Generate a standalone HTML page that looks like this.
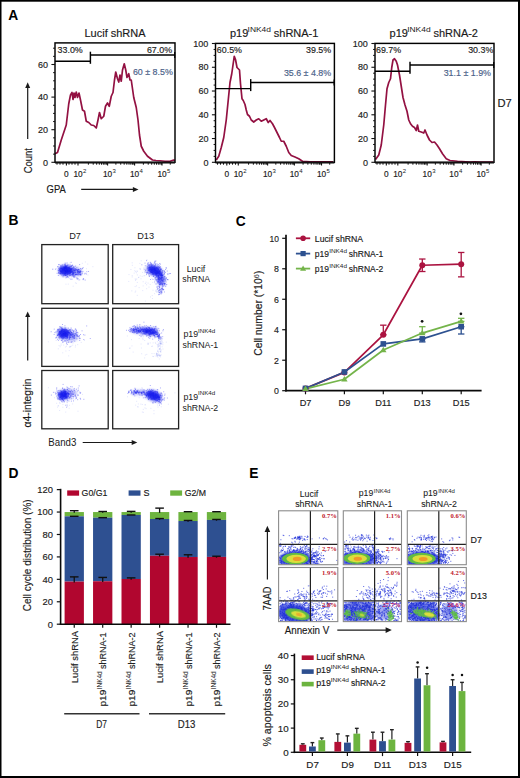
<!DOCTYPE html><html><head><meta charset="utf-8"><style>html,body{margin:0;padding:0;background:#fff}svg{display:block}</style></head><body>
<svg width="520" height="778" viewBox="0 0 520 778" font-family='"Liberation Sans", sans-serif' fill="#1a1a1a">
<rect width="520" height="778" fill="#fff"/>
<rect x="0" y="0" width="1.5" height="778" fill="#000"/>
<rect x="0" y="0" width="520" height="1.7" fill="#000"/>
<rect x="518" y="0" width="2" height="778" fill="#000"/>
<rect x="0" y="776" width="520" height="2" fill="#000"/>
<text x="8.3" y="19.6" font-size="13.8" font-weight="bold" fill="#000">A</text>
<text x="8.5" y="224.8" font-size="13.8" font-weight="bold" fill="#000">B</text>
<text x="235.8" y="225.6" font-size="13.8" font-weight="bold" fill="#000">C</text>
<text x="8.6" y="478.3" font-size="13.8" font-weight="bold" fill="#000">D</text>
<text x="249.3" y="478" font-size="13.8" font-weight="bold" fill="#000">E</text>
<path d="M55 153.75 L57.5 152.5 L61.25 140 L63.75 132.5 L66.25 125 L68.75 103.75 L70.5 95 L72 92.5 L73 99.5 L74 93 L75 97.5 L76.25 92 L77.5 97.5 L79 93 L80.5 100 L82.5 110 L84.5 111.25 L86.25 121.25 L88.75 122.5 L91.25 125 L93.75 125.5 L96.25 128 L98 120 L99.5 112.5 L101.25 118.75 L103.75 116.25 L105.5 106.25 L107.5 103 L109.25 106.25 L111.25 96.25 L113 92.5 L114.5 80 L115.75 72 L117.5 78.75 L118.75 82 L120 75 L121.25 81.25 L122.5 70 L124.25 63.75 L125.75 70 L127 77.5 L128.75 73.75 L130 80 L131.25 80 L133.75 97.5 L136.25 107.5 L138 120 L139.5 135 L141.25 146.25 L143.75 151.25 L147.5 156.25 L152.5 160 L156 160.5 L160 160.75 L165 161.25 L170 161.25 L173.75 160 L175 160.5" stroke="#931142" stroke-width="1.7" fill="none" stroke-linejoin="round"/>
<rect x="55" y="42.9" width="120" height="119.4" fill="none" stroke="#000" stroke-width="1.45"/>
<line x1="51.4" y1="162.3" x2="55" y2="162.3" stroke="#111" stroke-width="1.1"/>
<line x1="53.1" y1="154.15" x2="55" y2="154.15" stroke="#111" stroke-width="1"/>
<line x1="53.1" y1="146" x2="55" y2="146" stroke="#111" stroke-width="1"/>
<line x1="53.1" y1="137.85" x2="55" y2="137.85" stroke="#111" stroke-width="1"/>
<line x1="51.4" y1="129.7" x2="55" y2="129.7" stroke="#111" stroke-width="1.1"/>
<line x1="53.1" y1="121.55" x2="55" y2="121.55" stroke="#111" stroke-width="1"/>
<line x1="53.1" y1="113.4" x2="55" y2="113.4" stroke="#111" stroke-width="1"/>
<line x1="53.1" y1="105.25" x2="55" y2="105.25" stroke="#111" stroke-width="1"/>
<line x1="51.4" y1="97.1" x2="55" y2="97.1" stroke="#111" stroke-width="1.1"/>
<line x1="53.1" y1="88.95" x2="55" y2="88.95" stroke="#111" stroke-width="1"/>
<line x1="53.1" y1="80.8" x2="55" y2="80.8" stroke="#111" stroke-width="1"/>
<line x1="53.1" y1="72.65" x2="55" y2="72.65" stroke="#111" stroke-width="1"/>
<line x1="51.4" y1="64.5" x2="55" y2="64.5" stroke="#111" stroke-width="1.1"/>
<line x1="53.1" y1="56.35" x2="55" y2="56.35" stroke="#111" stroke-width="1"/>
<line x1="53.1" y1="48.2" x2="55" y2="48.2" stroke="#111" stroke-width="1"/>
<text x="47.9" y="165.5" font-size="9" text-anchor="end" fill="#222" stroke="#222" stroke-width="0.16">0</text>
<text x="47.9" y="132.9" font-size="9" text-anchor="end" fill="#222" stroke="#222" stroke-width="0.16">20</text>
<text x="47.9" y="100.3" font-size="9" text-anchor="end" fill="#222" stroke="#222" stroke-width="0.16">40</text>
<text x="47.9" y="67.7" font-size="9" text-anchor="end" fill="#222" stroke="#222" stroke-width="0.16">60</text>
<line x1="66.4" y1="162.3" x2="66.4" y2="165.5" stroke="#111" stroke-width="1.1"/>
<line x1="78" y1="162.3" x2="78" y2="165.5" stroke="#111" stroke-width="1.1"/>
<line x1="107.6" y1="162.3" x2="107.6" y2="165.5" stroke="#111" stroke-width="1.1"/>
<line x1="134.6" y1="162.3" x2="134.6" y2="165.5" stroke="#111" stroke-width="1.1"/>
<line x1="162" y1="162.3" x2="162" y2="165.5" stroke="#111" stroke-width="1.1"/>
<line x1="57" y1="162.3" x2="57" y2="164.7" stroke="#111" stroke-width="1"/>
<line x1="60" y1="162.3" x2="60" y2="164.7" stroke="#111" stroke-width="1"/>
<line x1="63" y1="162.3" x2="63" y2="164.7" stroke="#111" stroke-width="1"/>
<line x1="69" y1="162.3" x2="69" y2="164.7" stroke="#111" stroke-width="1"/>
<line x1="72" y1="162.3" x2="72" y2="164.7" stroke="#111" stroke-width="1"/>
<line x1="75" y1="162.3" x2="75" y2="164.7" stroke="#111" stroke-width="1"/>
<line x1="88.38" y1="162.3" x2="88.38" y2="164.7" stroke="#111" stroke-width="1"/>
<line x1="93.22" y1="162.3" x2="93.22" y2="164.7" stroke="#111" stroke-width="1"/>
<line x1="96.66" y1="162.3" x2="96.66" y2="164.7" stroke="#111" stroke-width="1"/>
<line x1="99.32" y1="162.3" x2="99.32" y2="164.7" stroke="#111" stroke-width="1"/>
<line x1="101.5" y1="162.3" x2="101.5" y2="164.7" stroke="#111" stroke-width="1"/>
<line x1="103.34" y1="162.3" x2="103.34" y2="164.7" stroke="#111" stroke-width="1"/>
<line x1="104.93" y1="162.3" x2="104.93" y2="164.7" stroke="#111" stroke-width="1"/>
<line x1="106.34" y1="162.3" x2="106.34" y2="164.7" stroke="#111" stroke-width="1"/>
<line x1="115.88" y1="162.3" x2="115.88" y2="164.7" stroke="#111" stroke-width="1"/>
<line x1="120.72" y1="162.3" x2="120.72" y2="164.7" stroke="#111" stroke-width="1"/>
<line x1="124.16" y1="162.3" x2="124.16" y2="164.7" stroke="#111" stroke-width="1"/>
<line x1="126.82" y1="162.3" x2="126.82" y2="164.7" stroke="#111" stroke-width="1"/>
<line x1="129" y1="162.3" x2="129" y2="164.7" stroke="#111" stroke-width="1"/>
<line x1="130.84" y1="162.3" x2="130.84" y2="164.7" stroke="#111" stroke-width="1"/>
<line x1="132.43" y1="162.3" x2="132.43" y2="164.7" stroke="#111" stroke-width="1"/>
<line x1="133.84" y1="162.3" x2="133.84" y2="164.7" stroke="#111" stroke-width="1"/>
<line x1="143.38" y1="162.3" x2="143.38" y2="164.7" stroke="#111" stroke-width="1"/>
<line x1="148.22" y1="162.3" x2="148.22" y2="164.7" stroke="#111" stroke-width="1"/>
<line x1="151.66" y1="162.3" x2="151.66" y2="164.7" stroke="#111" stroke-width="1"/>
<line x1="154.32" y1="162.3" x2="154.32" y2="164.7" stroke="#111" stroke-width="1"/>
<line x1="156.5" y1="162.3" x2="156.5" y2="164.7" stroke="#111" stroke-width="1"/>
<line x1="158.34" y1="162.3" x2="158.34" y2="164.7" stroke="#111" stroke-width="1"/>
<line x1="159.93" y1="162.3" x2="159.93" y2="164.7" stroke="#111" stroke-width="1"/>
<line x1="161.34" y1="162.3" x2="161.34" y2="164.7" stroke="#111" stroke-width="1"/>
<line x1="170.28" y1="162.3" x2="170.28" y2="164.7" stroke="#111" stroke-width="1"/>
<line x1="55" y1="162.6" x2="175" y2="162.6" stroke="#111" stroke-width="1.6"/>
<text x="66.4" y="177.3" font-size="8.3" text-anchor="middle" fill="#222" stroke="#222" stroke-width="0.16">0</text>
<text x="78" y="177.3" font-size="8.3" text-anchor="middle" fill="#222" stroke="#222" stroke-width="0.16">10</text>
<text x="83" y="173.3" font-size="6" fill="#222">2</text>
<text x="107.6" y="177.3" font-size="8.3" text-anchor="middle" fill="#222" stroke="#222" stroke-width="0.16">10</text>
<text x="112.6" y="173.3" font-size="6" fill="#222">3</text>
<text x="134.6" y="177.3" font-size="8.3" text-anchor="middle" fill="#222" stroke="#222" stroke-width="0.16">10</text>
<text x="139.6" y="173.3" font-size="6" fill="#222">4</text>
<text x="162" y="177.3" font-size="8.3" text-anchor="middle" fill="#222" stroke="#222" stroke-width="0.16">10</text>
<text x="167" y="173.3" font-size="6" fill="#222">5</text>
<line x1="55" y1="61.3" x2="90.4" y2="61.3" stroke="#000" stroke-width="1.45"/>
<line x1="90.4" y1="51.7" x2="90.4" y2="63.8" stroke="#000" stroke-width="1.45"/>
<line x1="90.4" y1="55" x2="175" y2="55" stroke="#000" stroke-width="1.45"/>
<line x1="174.7" y1="52" x2="174.7" y2="58" stroke="#000" stroke-width="1.2"/>
<text x="57.6" y="52.6" font-size="8.9" fill="#222" stroke="#222" stroke-width="0.16">33.0%</text>
<text x="172.1" y="52.6" font-size="8.9" text-anchor="end" fill="#222" stroke="#222" stroke-width="0.16">67.0%</text>
<text x="172.8" y="75.2" font-size="8.9" text-anchor="end" fill="#4b6189" stroke="#4b6189" stroke-width="0.16">60 ± 8.5%</text>
<path d="M216.25 160 L218.75 156.25 L221.25 147.5 L223.75 137.5 L226.25 120 L228 102.5 L230 82.5 L231.75 73.75 L233 65 L234.25 56.25 L235.5 59.5 L237 67.5 L238.25 68.75 L239.5 70 L240.5 83.75 L242 98.75 L243.25 100.5 L245 104.5 L246.25 110 L247.5 114.5 L249.5 116.25 L251.25 120 L253.75 122 L256.25 120 L258.75 118.75 L261.25 121.25 L263.75 120 L266.25 118.75 L268.25 122.5 L270 120.5 L272.5 123.75 L274.5 127.5 L277 132.5 L279.5 137.5 L281.25 141.25 L283.75 141.25 L286.25 146.25 L288.75 152.5 L291.25 155.5 L295 157 L298.75 158.75 L302.5 161.25 L310 161.75 L333 161.75" stroke="#931142" stroke-width="1.7" fill="none" stroke-linejoin="round"/>
<rect x="215.5" y="43.4" width="118.9" height="118.9" fill="none" stroke="#000" stroke-width="1.45"/>
<line x1="211.9" y1="162.3" x2="215.5" y2="162.3" stroke="#111" stroke-width="1.1"/>
<line x1="213.6" y1="156.36" x2="215.5" y2="156.36" stroke="#111" stroke-width="1"/>
<line x1="213.6" y1="150.42" x2="215.5" y2="150.42" stroke="#111" stroke-width="1"/>
<line x1="213.6" y1="144.48" x2="215.5" y2="144.48" stroke="#111" stroke-width="1"/>
<line x1="211.9" y1="138.54" x2="215.5" y2="138.54" stroke="#111" stroke-width="1.1"/>
<line x1="213.6" y1="132.6" x2="215.5" y2="132.6" stroke="#111" stroke-width="1"/>
<line x1="213.6" y1="126.66" x2="215.5" y2="126.66" stroke="#111" stroke-width="1"/>
<line x1="213.6" y1="120.72" x2="215.5" y2="120.72" stroke="#111" stroke-width="1"/>
<line x1="211.9" y1="114.78" x2="215.5" y2="114.78" stroke="#111" stroke-width="1.1"/>
<line x1="213.6" y1="108.84" x2="215.5" y2="108.84" stroke="#111" stroke-width="1"/>
<line x1="213.6" y1="102.9" x2="215.5" y2="102.9" stroke="#111" stroke-width="1"/>
<line x1="213.6" y1="96.96" x2="215.5" y2="96.96" stroke="#111" stroke-width="1"/>
<line x1="211.9" y1="91.02" x2="215.5" y2="91.02" stroke="#111" stroke-width="1.1"/>
<line x1="213.6" y1="85.08" x2="215.5" y2="85.08" stroke="#111" stroke-width="1"/>
<line x1="213.6" y1="79.14" x2="215.5" y2="79.14" stroke="#111" stroke-width="1"/>
<line x1="213.6" y1="73.2" x2="215.5" y2="73.2" stroke="#111" stroke-width="1"/>
<line x1="211.9" y1="67.26" x2="215.5" y2="67.26" stroke="#111" stroke-width="1.1"/>
<line x1="213.6" y1="61.32" x2="215.5" y2="61.32" stroke="#111" stroke-width="1"/>
<line x1="213.6" y1="55.38" x2="215.5" y2="55.38" stroke="#111" stroke-width="1"/>
<line x1="213.6" y1="49.44" x2="215.5" y2="49.44" stroke="#111" stroke-width="1"/>
<line x1="211.9" y1="43.5" x2="215.5" y2="43.5" stroke="#111" stroke-width="1.1"/>
<text x="208.4" y="165.5" font-size="9" text-anchor="end" fill="#222" stroke="#222" stroke-width="0.16">0</text>
<text x="208.4" y="141.74" font-size="9" text-anchor="end" fill="#222" stroke="#222" stroke-width="0.16">20</text>
<text x="208.4" y="117.98" font-size="9" text-anchor="end" fill="#222" stroke="#222" stroke-width="0.16">40</text>
<text x="208.4" y="94.22" font-size="9" text-anchor="end" fill="#222" stroke="#222" stroke-width="0.16">60</text>
<text x="208.4" y="70.46" font-size="9" text-anchor="end" fill="#222" stroke="#222" stroke-width="0.16">80</text>
<text x="208.4" y="46.7" font-size="9" text-anchor="end" fill="#222" stroke="#222" stroke-width="0.16">100</text>
<line x1="226.8" y1="162.3" x2="226.8" y2="165.5" stroke="#111" stroke-width="1.1"/>
<line x1="238.29" y1="162.3" x2="238.29" y2="165.5" stroke="#111" stroke-width="1.1"/>
<line x1="267.62" y1="162.3" x2="267.62" y2="165.5" stroke="#111" stroke-width="1.1"/>
<line x1="294.37" y1="162.3" x2="294.37" y2="165.5" stroke="#111" stroke-width="1.1"/>
<line x1="321.52" y1="162.3" x2="321.52" y2="165.5" stroke="#111" stroke-width="1.1"/>
<line x1="217.5" y1="162.3" x2="217.5" y2="164.7" stroke="#111" stroke-width="1"/>
<line x1="220.5" y1="162.3" x2="220.5" y2="164.7" stroke="#111" stroke-width="1"/>
<line x1="223.5" y1="162.3" x2="223.5" y2="164.7" stroke="#111" stroke-width="1"/>
<line x1="229.5" y1="162.3" x2="229.5" y2="164.7" stroke="#111" stroke-width="1"/>
<line x1="232.5" y1="162.3" x2="232.5" y2="164.7" stroke="#111" stroke-width="1"/>
<line x1="235.5" y1="162.3" x2="235.5" y2="164.7" stroke="#111" stroke-width="1"/>
<line x1="248.57" y1="162.3" x2="248.57" y2="164.7" stroke="#111" stroke-width="1"/>
<line x1="253.37" y1="162.3" x2="253.37" y2="164.7" stroke="#111" stroke-width="1"/>
<line x1="256.77" y1="162.3" x2="256.77" y2="164.7" stroke="#111" stroke-width="1"/>
<line x1="259.42" y1="162.3" x2="259.42" y2="164.7" stroke="#111" stroke-width="1"/>
<line x1="261.57" y1="162.3" x2="261.57" y2="164.7" stroke="#111" stroke-width="1"/>
<line x1="263.4" y1="162.3" x2="263.4" y2="164.7" stroke="#111" stroke-width="1"/>
<line x1="264.98" y1="162.3" x2="264.98" y2="164.7" stroke="#111" stroke-width="1"/>
<line x1="266.37" y1="162.3" x2="266.37" y2="164.7" stroke="#111" stroke-width="1"/>
<line x1="275.82" y1="162.3" x2="275.82" y2="164.7" stroke="#111" stroke-width="1"/>
<line x1="280.62" y1="162.3" x2="280.62" y2="164.7" stroke="#111" stroke-width="1"/>
<line x1="284.02" y1="162.3" x2="284.02" y2="164.7" stroke="#111" stroke-width="1"/>
<line x1="286.66" y1="162.3" x2="286.66" y2="164.7" stroke="#111" stroke-width="1"/>
<line x1="288.82" y1="162.3" x2="288.82" y2="164.7" stroke="#111" stroke-width="1"/>
<line x1="290.64" y1="162.3" x2="290.64" y2="164.7" stroke="#111" stroke-width="1"/>
<line x1="292.23" y1="162.3" x2="292.23" y2="164.7" stroke="#111" stroke-width="1"/>
<line x1="293.62" y1="162.3" x2="293.62" y2="164.7" stroke="#111" stroke-width="1"/>
<line x1="303.07" y1="162.3" x2="303.07" y2="164.7" stroke="#111" stroke-width="1"/>
<line x1="307.87" y1="162.3" x2="307.87" y2="164.7" stroke="#111" stroke-width="1"/>
<line x1="311.27" y1="162.3" x2="311.27" y2="164.7" stroke="#111" stroke-width="1"/>
<line x1="313.91" y1="162.3" x2="313.91" y2="164.7" stroke="#111" stroke-width="1"/>
<line x1="316.07" y1="162.3" x2="316.07" y2="164.7" stroke="#111" stroke-width="1"/>
<line x1="317.89" y1="162.3" x2="317.89" y2="164.7" stroke="#111" stroke-width="1"/>
<line x1="319.47" y1="162.3" x2="319.47" y2="164.7" stroke="#111" stroke-width="1"/>
<line x1="320.87" y1="162.3" x2="320.87" y2="164.7" stroke="#111" stroke-width="1"/>
<line x1="329.72" y1="162.3" x2="329.72" y2="164.7" stroke="#111" stroke-width="1"/>
<line x1="215.5" y1="162.6" x2="334.4" y2="162.6" stroke="#111" stroke-width="1.6"/>
<text x="226.8" y="177.3" font-size="8.3" text-anchor="middle" fill="#222" stroke="#222" stroke-width="0.16">0</text>
<text x="238.29" y="177.3" font-size="8.3" text-anchor="middle" fill="#222" stroke="#222" stroke-width="0.16">10</text>
<text x="243.29" y="173.3" font-size="6" fill="#222">2</text>
<text x="267.62" y="177.3" font-size="8.3" text-anchor="middle" fill="#222" stroke="#222" stroke-width="0.16">10</text>
<text x="272.62" y="173.3" font-size="6" fill="#222">3</text>
<text x="294.37" y="177.3" font-size="8.3" text-anchor="middle" fill="#222" stroke="#222" stroke-width="0.16">10</text>
<text x="299.37" y="173.3" font-size="6" fill="#222">4</text>
<text x="321.52" y="177.3" font-size="8.3" text-anchor="middle" fill="#222" stroke="#222" stroke-width="0.16">10</text>
<text x="326.52" y="173.3" font-size="6" fill="#222">5</text>
<line x1="215.5" y1="88.6" x2="250.7" y2="88.6" stroke="#000" stroke-width="1.45"/>
<line x1="250.7" y1="79.1" x2="250.7" y2="91.1" stroke="#000" stroke-width="1.45"/>
<line x1="250.7" y1="82.4" x2="334.4" y2="82.4" stroke="#000" stroke-width="1.45"/>
<line x1="334.1" y1="79.4" x2="334.1" y2="85.4" stroke="#000" stroke-width="1.2"/>
<text x="216.8" y="52.6" font-size="8.9" fill="#222" stroke="#222" stroke-width="0.16">60.5%</text>
<text x="331.2" y="52.6" font-size="8.9" text-anchor="end" fill="#222" stroke="#222" stroke-width="0.16">39.5%</text>
<text x="331.2" y="75.6" font-size="8.9" text-anchor="end" fill="#4b6189" stroke="#4b6189" stroke-width="0.16">35.6 ± 4.8%</text>
<path d="M375.5 159.5 L378.75 155 L381.25 145 L383.75 125 L385.5 105 L387 88.75 L388.75 82.5 L390.5 78.75 L391.75 67.5 L393 60 L394.5 58.75 L396.25 61.25 L397.5 65 L399.5 75 L401.25 86.25 L403 97.5 L405 105 L407 111.25 L408.75 120 L410.5 123.75 L412.5 126.25 L414.5 127.5 L416.25 130.5 L417.5 125 L418.75 131.25 L421.25 132 L423.75 133 L425 130 L427 135 L429.5 140 L432 142.5 L434.5 142 L437 145 L439.5 148.75 L442.5 153.75 L446.25 158.75 L450 160.5 L457.5 161.25 L470 162 L475 161.75 L480 162.2 L493 162.2" stroke="#931142" stroke-width="1.7" fill="none" stroke-linejoin="round"/>
<rect x="375" y="43.4" width="119" height="118.9" fill="none" stroke="#000" stroke-width="1.45"/>
<line x1="371.4" y1="162.3" x2="375" y2="162.3" stroke="#111" stroke-width="1.1"/>
<line x1="373.1" y1="156.36" x2="375" y2="156.36" stroke="#111" stroke-width="1"/>
<line x1="373.1" y1="150.42" x2="375" y2="150.42" stroke="#111" stroke-width="1"/>
<line x1="373.1" y1="144.48" x2="375" y2="144.48" stroke="#111" stroke-width="1"/>
<line x1="371.4" y1="138.54" x2="375" y2="138.54" stroke="#111" stroke-width="1.1"/>
<line x1="373.1" y1="132.6" x2="375" y2="132.6" stroke="#111" stroke-width="1"/>
<line x1="373.1" y1="126.66" x2="375" y2="126.66" stroke="#111" stroke-width="1"/>
<line x1="373.1" y1="120.72" x2="375" y2="120.72" stroke="#111" stroke-width="1"/>
<line x1="371.4" y1="114.78" x2="375" y2="114.78" stroke="#111" stroke-width="1.1"/>
<line x1="373.1" y1="108.84" x2="375" y2="108.84" stroke="#111" stroke-width="1"/>
<line x1="373.1" y1="102.9" x2="375" y2="102.9" stroke="#111" stroke-width="1"/>
<line x1="373.1" y1="96.96" x2="375" y2="96.96" stroke="#111" stroke-width="1"/>
<line x1="371.4" y1="91.02" x2="375" y2="91.02" stroke="#111" stroke-width="1.1"/>
<line x1="373.1" y1="85.08" x2="375" y2="85.08" stroke="#111" stroke-width="1"/>
<line x1="373.1" y1="79.14" x2="375" y2="79.14" stroke="#111" stroke-width="1"/>
<line x1="373.1" y1="73.2" x2="375" y2="73.2" stroke="#111" stroke-width="1"/>
<line x1="371.4" y1="67.26" x2="375" y2="67.26" stroke="#111" stroke-width="1.1"/>
<line x1="373.1" y1="61.32" x2="375" y2="61.32" stroke="#111" stroke-width="1"/>
<line x1="373.1" y1="55.38" x2="375" y2="55.38" stroke="#111" stroke-width="1"/>
<line x1="373.1" y1="49.44" x2="375" y2="49.44" stroke="#111" stroke-width="1"/>
<line x1="371.4" y1="43.5" x2="375" y2="43.5" stroke="#111" stroke-width="1.1"/>
<text x="367.9" y="165.5" font-size="9" text-anchor="end" fill="#222" stroke="#222" stroke-width="0.16">0</text>
<text x="367.9" y="141.74" font-size="9" text-anchor="end" fill="#222" stroke="#222" stroke-width="0.16">20</text>
<text x="367.9" y="117.98" font-size="9" text-anchor="end" fill="#222" stroke="#222" stroke-width="0.16">40</text>
<text x="367.9" y="94.22" font-size="9" text-anchor="end" fill="#222" stroke="#222" stroke-width="0.16">60</text>
<text x="367.9" y="70.46" font-size="9" text-anchor="end" fill="#222" stroke="#222" stroke-width="0.16">80</text>
<text x="367.9" y="46.7" font-size="9" text-anchor="end" fill="#222" stroke="#222" stroke-width="0.16">100</text>
<line x1="386.31" y1="162.3" x2="386.31" y2="165.5" stroke="#111" stroke-width="1.1"/>
<line x1="397.81" y1="162.3" x2="397.81" y2="165.5" stroke="#111" stroke-width="1.1"/>
<line x1="427.16" y1="162.3" x2="427.16" y2="165.5" stroke="#111" stroke-width="1.1"/>
<line x1="453.94" y1="162.3" x2="453.94" y2="165.5" stroke="#111" stroke-width="1.1"/>
<line x1="481.11" y1="162.3" x2="481.11" y2="165.5" stroke="#111" stroke-width="1.1"/>
<line x1="377" y1="162.3" x2="377" y2="164.7" stroke="#111" stroke-width="1"/>
<line x1="380" y1="162.3" x2="380" y2="164.7" stroke="#111" stroke-width="1"/>
<line x1="383" y1="162.3" x2="383" y2="164.7" stroke="#111" stroke-width="1"/>
<line x1="389" y1="162.3" x2="389" y2="164.7" stroke="#111" stroke-width="1"/>
<line x1="392" y1="162.3" x2="392" y2="164.7" stroke="#111" stroke-width="1"/>
<line x1="395" y1="162.3" x2="395" y2="164.7" stroke="#111" stroke-width="1"/>
<line x1="408.1" y1="162.3" x2="408.1" y2="164.7" stroke="#111" stroke-width="1"/>
<line x1="412.9" y1="162.3" x2="412.9" y2="164.7" stroke="#111" stroke-width="1"/>
<line x1="416.31" y1="162.3" x2="416.31" y2="164.7" stroke="#111" stroke-width="1"/>
<line x1="418.95" y1="162.3" x2="418.95" y2="164.7" stroke="#111" stroke-width="1"/>
<line x1="421.11" y1="162.3" x2="421.11" y2="164.7" stroke="#111" stroke-width="1"/>
<line x1="422.94" y1="162.3" x2="422.94" y2="164.7" stroke="#111" stroke-width="1"/>
<line x1="424.52" y1="162.3" x2="424.52" y2="164.7" stroke="#111" stroke-width="1"/>
<line x1="425.91" y1="162.3" x2="425.91" y2="164.7" stroke="#111" stroke-width="1"/>
<line x1="435.37" y1="162.3" x2="435.37" y2="164.7" stroke="#111" stroke-width="1"/>
<line x1="440.17" y1="162.3" x2="440.17" y2="164.7" stroke="#111" stroke-width="1"/>
<line x1="443.58" y1="162.3" x2="443.58" y2="164.7" stroke="#111" stroke-width="1"/>
<line x1="446.22" y1="162.3" x2="446.22" y2="164.7" stroke="#111" stroke-width="1"/>
<line x1="448.38" y1="162.3" x2="448.38" y2="164.7" stroke="#111" stroke-width="1"/>
<line x1="450.21" y1="162.3" x2="450.21" y2="164.7" stroke="#111" stroke-width="1"/>
<line x1="451.79" y1="162.3" x2="451.79" y2="164.7" stroke="#111" stroke-width="1"/>
<line x1="453.18" y1="162.3" x2="453.18" y2="164.7" stroke="#111" stroke-width="1"/>
<line x1="462.64" y1="162.3" x2="462.64" y2="164.7" stroke="#111" stroke-width="1"/>
<line x1="467.44" y1="162.3" x2="467.44" y2="164.7" stroke="#111" stroke-width="1"/>
<line x1="470.85" y1="162.3" x2="470.85" y2="164.7" stroke="#111" stroke-width="1"/>
<line x1="473.49" y1="162.3" x2="473.49" y2="164.7" stroke="#111" stroke-width="1"/>
<line x1="475.65" y1="162.3" x2="475.65" y2="164.7" stroke="#111" stroke-width="1"/>
<line x1="477.48" y1="162.3" x2="477.48" y2="164.7" stroke="#111" stroke-width="1"/>
<line x1="479.06" y1="162.3" x2="479.06" y2="164.7" stroke="#111" stroke-width="1"/>
<line x1="480.46" y1="162.3" x2="480.46" y2="164.7" stroke="#111" stroke-width="1"/>
<line x1="489.32" y1="162.3" x2="489.32" y2="164.7" stroke="#111" stroke-width="1"/>
<line x1="375" y1="162.6" x2="494" y2="162.6" stroke="#111" stroke-width="1.6"/>
<text x="386.31" y="177.3" font-size="8.3" text-anchor="middle" fill="#222" stroke="#222" stroke-width="0.16">0</text>
<text x="397.81" y="177.3" font-size="8.3" text-anchor="middle" fill="#222" stroke="#222" stroke-width="0.16">10</text>
<text x="402.81" y="173.3" font-size="6" fill="#222">2</text>
<text x="427.16" y="177.3" font-size="8.3" text-anchor="middle" fill="#222" stroke="#222" stroke-width="0.16">10</text>
<text x="432.16" y="173.3" font-size="6" fill="#222">3</text>
<text x="453.94" y="177.3" font-size="8.3" text-anchor="middle" fill="#222" stroke="#222" stroke-width="0.16">10</text>
<text x="458.94" y="173.3" font-size="6" fill="#222">4</text>
<text x="481.11" y="177.3" font-size="8.3" text-anchor="middle" fill="#222" stroke="#222" stroke-width="0.16">10</text>
<text x="486.11" y="173.3" font-size="6" fill="#222">5</text>
<line x1="375" y1="71.2" x2="410" y2="71.2" stroke="#000" stroke-width="1.45"/>
<line x1="410" y1="61.7" x2="410" y2="73.7" stroke="#000" stroke-width="1.45"/>
<line x1="410" y1="65" x2="494" y2="65" stroke="#000" stroke-width="1.45"/>
<line x1="493.7" y1="62" x2="493.7" y2="68" stroke="#000" stroke-width="1.2"/>
<text x="376" y="52.6" font-size="8.9" fill="#222" stroke="#222" stroke-width="0.16">69.7%</text>
<text x="493.3" y="52.6" font-size="8.9" text-anchor="end" fill="#222" stroke="#222" stroke-width="0.16">30.3%</text>
<text x="491" y="76.2" font-size="8.9" text-anchor="end" fill="#4b6189" stroke="#4b6189" stroke-width="0.16">31.1 ± 1.9%</text>
<text x="115" y="36.9" font-size="11" text-anchor="middle" textLength="61" lengthAdjust="spacingAndGlyphs" stroke="#1a1a1a" stroke-width="0.16">Lucif shRNA</text>
<text x="230" y="36.8" font-size="11" stroke="#1a1a1a" stroke-width="0.16">p19</text>
<text x="247.6" y="31.7" font-size="7.4" textLength="23.4" lengthAdjust="spacingAndGlyphs">INK4d</text>
<text x="273.8" y="36.8" font-size="11" textLength="44.6" lengthAdjust="spacingAndGlyphs" stroke="#1a1a1a" stroke-width="0.16">shRNA-1</text>
<text x="389.6" y="36.8" font-size="11" stroke="#1a1a1a" stroke-width="0.16">p19</text>
<text x="407.2" y="31.7" font-size="7.4" textLength="23.4" lengthAdjust="spacingAndGlyphs">INK4d</text>
<text x="433.4" y="36.8" font-size="11" textLength="44.6" lengthAdjust="spacingAndGlyphs" stroke="#1a1a1a" stroke-width="0.16">shRNA-2</text>
<text x="497.4" y="106.6" font-size="11.2" stroke="#1a1a1a" stroke-width="0.16">D7</text>
<text x="32.2" y="173.2" font-size="11" textLength="25.2" lengthAdjust="spacingAndGlyphs" transform="rotate(-90 32.2 173.2)" stroke="#1a1a1a" stroke-width="0.16">Count</text>
<line x1="27.7" y1="139" x2="27.7" y2="87.4" stroke="#1a1a1a" stroke-width="1.2"/>
<path d="M27.7 82.3L25.2 87.9L30.2 87.9Z" fill="#1a1a1a"/>
<text x="46.6" y="193" font-size="11" textLength="19.2" lengthAdjust="spacingAndGlyphs" stroke="#1a1a1a" stroke-width="0.16">GPA</text>
<line x1="81.2" y1="189.4" x2="133.4" y2="189.4" stroke="#1a1a1a" stroke-width="1.2"/>
<path d="M138.5 189.4L132.9 186.9L132.9 191.9Z" fill="#1a1a1a"/>
<defs><filter id="bl1" x="-50%" y="-50%" width="200%" height="200%"><feGaussianBlur stdDeviation="1.6"/></filter><filter id="bl2" x="-50%" y="-50%" width="200%" height="200%"><feGaussianBlur stdDeviation="0.9"/></filter></defs>
<ellipse cx="74" cy="271.5" rx="8" ry="4.2" fill="#1c22f0" opacity="0.4" filter="url(#bl1)" transform="rotate(8 74 271.5)"/>
<ellipse cx="65.5" cy="270.6" rx="6.6" ry="5" fill="#1c22f0" opacity="0.95" filter="url(#bl1)" transform="rotate(0 65.5 270.6)"/>
<path d="M65.5 271.7h.2M64.4 268.13h.2M63.68 267.83h.2M65.74 274.82h.2M63.53 268.94h.2M67.46 271.87h.2M65.92 268.01h.2M65.38 272.89h.2M60.12 269.43h.2M57.9 266.93h.2M58.13 270.09h.2M60.43 271.61h.2M66.13 270.24h.2M55.43 269.18h.2M65.31 271.14h.2M59.38 269.37h.2M61.59 268.37h.2M69.74 268.38h.2M65.37 273.45h.2M63.17 270.46h.2M65.94 270.99h.2M60.6 271.03h.2M70.94 266.16h.2M68.94 271.16h.2M62.93 276.8h.2M68.55 267.2h.2M65.8 272.53h.2M64.74 272.85h.2M65.23 272.8h.2M71.25 268.77h.2M66.31 269.41h.2M66.01 267.24h.2M63.18 270.21h.2M69.1 274.24h.2M60.21 268.42h.2M68.09 264.82h.2M63.65 270.51h.2M70.53 272.87h.2M64.19 269.69h.2M64.5 275.37h.2M63.79 269.89h.2M66.91 270.44h.2M64.71 267.46h.2M65.45 269.47h.2M70.16 272.76h.2M65.4 272.81h.2M64.14 273.96h.2M65.48 272.55h.2M60.34 271.84h.2M58.75 264.69h.2M64.28 268.1h.2M66.16 277.53h.2M62.17 268.93h.2M66.32 272.28h.2M64.79 270.18h.2M68.31 272.36h.2M61.37 270.56h.2M65.64 267.64h.2M66.54 268.23h.2M69.39 271.38h.2M65.86 269.03h.2M65.03 264.81h.2M60.97 271.89h.2M56.99 273.34h.2M58.52 273.07h.2M62.12 273.14h.2M66.02 266.19h.2M70.5 275.13h.2M65.24 269.98h.2M64.86 267.87h.2M69.89 269.17h.2M65.3 268.42h.2M63 266.97h.2M70.53 270.34h.2M69.36 270.84h.2M62.72 269.82h.2M63.26 270.82h.2M64 269.9h.2M59.99 268.38h.2M72.12 268.79h.2M61.28 271.81h.2M71.13 266.44h.2M64.67 268.9h.2M58.46 273h.2M65.41 271.01h.2M62.49 272.16h.2M63.34 270.37h.2M61.07 267.15h.2M70.84 269.28h.2M66.67 270.7h.2M63.74 269.28h.2M68.02 269.89h.2M64.89 270.87h.2M70.21 272.84h.2M67.03 269.11h.2M59.97 273.65h.2M69.37 270.38h.2M67.67 273.14h.2M68.82 273.56h.2M63.68 275.34h.2M60.51 273.39h.2M67.48 273.42h.2M73.02 275.25h.2M60.92 265.73h.2M68.77 267.75h.2M65.45 273.32h.2M58.92 264.47h.2M66.54 270.93h.2M64.52 270.92h.2M62.06 266.26h.2M64.83 267.88h.2M58.93 272.32h.2M65.25 272.02h.2M61.54 268.83h.2M61.5 268.14h.2M66.28 268.45h.2M66.92 271.82h.2M73.6 266.62h.2M69.05 270.53h.2M65.44 266.45h.2M63.66 273.03h.2M65.17 271.04h.2M64.34 274.26h.2M65.41 264.2h.2M62.73 264.89h.2M52.49 269.21h.2M70.83 270.94h.2M60.81 267.98h.2M70.02 271.27h.2M65.69 270.64h.2M65.65 273.22h.2M67.71 271.45h.2M61.33 272.33h.2M62.76 274.08h.2M60.42 270.39h.2M65.47 266.83h.2M72.39 275.18h.2M63.65 273.12h.2M67.01 262.96h.2M66.5 270.62h.2M65.83 267.57h.2M64.42 270.27h.2M70.25 271.8h.2M65.48 275.39h.2M63.28 269.63h.2M58.23 275.51h.2M69.36 273.55h.2M68.18 271.13h.2M66.36 270.04h.2M64.69 270.96h.2M71.55 272.47h.2M65.27 269.06h.2M62.96 275.61h.2M67.53 271h.2M64.12 267.47h.2M65.23 273.42h.2M63.93 270.12h.2M64.62 271.13h.2M59.13 270.09h.2M62.08 273.45h.2M62.42 272.53h.2M71.6 269.86h.2M63.09 271.37h.2M65.49 267.82h.2M67.34 276.85h.2M64.47 270.19h.2M61.32 271.76h.2M60.51 267.48h.2M70.62 268.08h.2M69.83 275.37h.2M66.54 272.46h.2M73.31 270.21h.2M63.13 266.74h.2M65.67 275.24h.2M69.34 267.97h.2M62.08 269.29h.2M66.67 270.18h.2M66.36 271.69h.2M64.3 270.68h.2M66.33 270.55h.2M67.51 276.41h.2M67.87 270.97h.2M58.76 271.96h.2M57.71 266.57h.2M68.92 272.92h.2M64.9 265.67h.2M64.01 268.76h.2M68.05 277.57h.2M66.37 268.46h.2M60.82 270.63h.2M64.79 267.35h.2M65.97 267.35h.2M69.95 273.99h.2M69.84 269.38h.2M67.56 270.4h.2M63.94 269.78h.2M60.3 266.47h.2M68.68 270.23h.2M66.37 273.81h.2M58.57 268.45h.2M66.2 271.98h.2M63.99 273.89h.2M66.34 267.16h.2M61.78 273.22h.2M67.36 265.1h.2M70.89 272.59h.2M70.87 269.65h.2M64.32 267.42h.2M75.65 270.27h.2M71.85 268.86h.2M66.16 265.79h.2M63.97 273.75h.2M60.49 274.02h.2M66.85 267.67h.2M63.49 269.42h.2M65.3 269.19h.2M62.19 269.89h.2M61.39 266.93h.2M65.31 273.45h.2M59.38 270.81h.2M62.9 267.87h.2M68.91 269.25h.2M71.49 268.46h.2M67.05 270.12h.2M62.48 272.56h.2M64.88 272.61h.2M65.31 267.54h.2M65.09 270.96h.2M69.33 268.08h.2M65.34 265.63h.2M68.11 267.56h.2M58.27 270.62h.2M69.92 266.23h.2M61.15 268.57h.2M60.98 271.94h.2M62.27 268.64h.2M67.83 268.53h.2M67.23 267.89h.2M60.65 265.29h.2M72.94 269.84h.2M66.48 270.71h.2M66.14 270.95h.2M73.13 267.68h.2M59.27 267.76h.2M60.16 273.04h.2M68.78 267.92h.2M59.94 269.74h.2M71.06 262.34h.2M67.61 267.57h.2M69.66 267.57h.2M64.36 266.28h.2M61.59 274.96h.2M68.78 269.59h.2M62.02 265.12h.2M63.93 270.71h.2M65.16 270.52h.2M61.01 270.6h.2M65.35 274.67h.2M72.97 270.39h.2M62.43 270.61h.2M63.07 268.57h.2M65.27 267.67h.2M67.92 270.49h.2M66.5 270.25h.2M62.59 267.96h.2M64.55 269.15h.2M66.44 270.79h.2M60.05 271h.2M60.13 268.95h.2M64.32 264.57h.2M65.87 271.25h.2M64.87 269.53h.2M64.01 267.87h.2M64.42 269.14h.2M65.87 267.19h.2M66.44 271.23h.2M64.93 269.48h.2M67.71 265.81h.2M67.34 271.53h.2M66.63 271.95h.2M62.89 270.02h.2M68.05 272.09h.2M66.33 266.26h.2M67.65 274.31h.2M69.54 271.5h.2M59.27 273.63h.2M64.91 263.2h.2M67.01 266.32h.2M60.31 268.9h.2M70.59 269.69h.2M66.58 276.04h.2M71.88 270.49h.2M64.53 267.02h.2M62.72 272.08h.2M67.08 271.13h.2M69.48 268.48h.2M65.28 272.99h.2M67.84 274.01h.2M67.09 269.87h.2M66.95 267.79h.2M64.82 272.15h.2M73.54 272.86h.2M64.99 269.3h.2M71.2 268.87h.2M61.96 268.86h.2M78.66 273.98h.2M70.75 271.38h.2M79.54 264.57h.2M73.04 273.49h.2M76.81 277.68h.2M79.99 274.01h.2M75.23 274.61h.2M71.1 271.37h.2M77.89 278.65h.2M73.16 271.7h.2M74.38 276.16h.2M73.07 276.31h.2M68.86 270.53h.2M72.52 274.13h.2M80.45 268.54h.2M68.87 272.12h.2M71.23 266.87h.2M79.37 274.45h.2M76.92 271.07h.2M79.7 272.27h.2M80.41 270.35h.2M69.27 271.79h.2M69.84 273.32h.2M75.89 269.52h.2M74.58 271.03h.2M79.29 271.01h.2M70.99 275.16h.2M85.08 280.04h.2M74.23 272.71h.2M82.37 273.1h.2M68.65 271.41h.2M76.88 269.98h.2M65.83 266.18h.2M78 270.39h.2M73.12 272.49h.2M77.53 271.6h.2M77.16 269.85h.2M72.57 268.63h.2M80.14 273h.2M70.18 270.25h.2M72.43 273.86h.2M65.9 267.41h.2M70.63 279.12h.2M79.23 272.58h.2M76.78 278.76h.2M72.92 270.69h.2M80.31 274.62h.2M77.9 271.14h.2M83.53 278.89h.2M76.71 274.56h.2M62.69 271.95h.2M72.72 273.1h.2M77.87 271.64h.2M64.65 271.47h.2M70.16 270.32h.2M70.9 270.41h.2M60.86 273.39h.2M74.79 275.53h.2M84.71 273.96h.2M64.7 267.64h.2M67.72 269.36h.2M75.47 266.16h.2M76.64 267.86h.2M75.67 271.96h.2M72.34 271.48h.2M71.4 269.67h.2M64.9 270.31h.2M82.96 279.61h.2M80.79 275.35h.2M69.58 275.62h.2M73.73 271.74h.2M72.37 271.99h.2M71.69 271.34h.2M68.32 269.86h.2M86.39 273.97h.2M72.43 273.34h.2M78.42 269.39h.2M72.4 274.52h.2M75.4 272.62h.2M82.77 271.48h.2M74.72 270.54h.2M83.09 267.66h.2M70.65 269.8h.2M77.28 274.42h.2M82.38 268.68h.2M78.22 271.85h.2M70.11 272.96h.2M70.1 264.99h.2M72.77 267.22h.2M70.29 272.48h.2M74.86 276.99h.2M73.72 267.28h.2M70.38 268.56h.2M67.18 272.12h.2M71.54 265.54h.2M77.83 272.34h.2M75.88 272.65h.2M77.4 272.72h.2M80.47 274.44h.2M75.91 273.59h.2M66.2 270.12h.2M72.49 272.37h.2M65.79 275.53h.2M75.2 268.52h.2M64.89 269.54h.2M73.89 269.79h.2M74.83 270.19h.2M77.37 270.39h.2M73.28 274.86h.2M88.45 271.48h.2M71.92 269.08h.2M78.85 269.36h.2M71.39 271.45h.2M69.2 268.24h.2M72.52 265.34h.2M66.39 269.4h.2M74.9 271.59h.2M64.63 268.94h.2M78.04 274.4h.2M74.04 269.3h.2M77.72 270.89h.2M68.08 268.51h.2M81.73 274.03h.2M80.53 271.69h.2M79.39 271.12h.2M71.85 279.2h.2M78.42 271.25h.2M73.37 272.88h.2M80.81 271.71h.2M64.71 269.51h.2M74.03 272.34h.2M80.97 274.19h.2M78.98 269.52h.2M77.61 279.02h.2M78.05 273.49h.2M73.9 277.43h.2M69.04 270.79h.2M76.11 274.64h.2M71.47 272.49h.2M72.43 272.09h.2M73.88 268.5h.2M73.43 274.57h.2M68.89 270.36h.2M78.16 269.47h.2M75.54 269.04h.2M78.94 279.92h.2M85.07 273.28h.2M77.95 273.06h.2M73.75 276.67h.2M66.3 273.86h.2M73 276.11h.2M75.36 270.19h.2M75.12 274.44h.2M73.94 273.48h.2M72.29 265.2h.2M78.51 274.93h.2M74.77 272.34h.2M79.85 271.64h.2M70.27 270.77h.2M81.16 269.04h.2M80.79 271.25h.2M67.38 274.67h.2M74.15 268.07h.2M71.57 274.41h.2M80.68 271.88h.2M75.83 274.5h.2M70.32 272.43h.2M74.11 270.39h.2M71.3 271.73h.2M74.46 270.36h.2M71.11 274.88h.2M74.7 274.82h.2M80.2 274.89h.2M86.73 271.73h.2M78.54 271.83h.2M83.17 278.8h.2M63.92 267.27h.2M77.19 274.97h.2M78.03 272.49h.2M76.12 274.36h.2M73.04 274.96h.2M61.43 271.71h.2M67.9 273.84h.2M73.22 269.16h.2M76.5 269.66h.2M69.87 266.5h.2M73.6 273.44h.2M79.61 272.56h.2M79.67 273.05h.2M73.2 273.61h.2M79.91 272h.2M72.76 271.29h.2M74.92 269.42h.2M79.78 271.8h.2M76.93 270h.2" stroke="#1c22f0" stroke-width="0.7" stroke-linecap="round" fill="none" opacity="0.55"/>
<path d="M75.23 275.96h.2M68.21 284.1h.2M75.34 282.88h.2M80.63 270.69h.2M68.56 276.18h.2M72.55 274.25h.2M69.42 264.96h.2M69.97 262.91h.2M75.35 270.37h.2M65.56 272.9h.2M74.45 266.84h.2M56.26 268.67h.2M53.62 269.17h.2M86.32 268.72h.2M77.86 267.14h.2M74.69 272.4h.2M71.46 276.84h.2M87.81 274.97h.2M73.12 269.13h.2M77.25 272.77h.2M79.49 273.78h.2M87.67 264.09h.2M69.33 278.41h.2M68.84 270.04h.2M69.61 267.1h.2M73.07 286.2h.2M82.31 268.45h.2M64.14 271.98h.2M81.04 269.89h.2M65.79 278.42h.2M79.78 272.13h.2M61.94 266.25h.2M65.71 262.85h.2M78.75 270.85h.2M76.33 283.34h.2M82.56 268.24h.2M79.82 279.79h.2M65.28 269.23h.2M71.01 265.99h.2M85.24 261.97h.2M62.04 272.65h.2M69.96 274.83h.2M74.44 272.93h.2M82.23 263.3h.2M72 270.43h.2M73.19 275.1h.2M63.79 270.8h.2M79.13 275.75h.2M65.88 284.2h.2M92.78 266.69h.2" stroke="#6070f0" stroke-width="0.6" stroke-linecap="round" fill="none" opacity="0.3"/>
<ellipse cx="160.5" cy="279" rx="3.5" ry="7" fill="#1c22f0" opacity="0.6" filter="url(#bl1)" transform="rotate(-15 160.5 279)"/>
<ellipse cx="154.5" cy="270.5" rx="8" ry="4.6" fill="#1c22f0" opacity="0.95" filter="url(#bl1)" transform="rotate(22 154.5 270.5)"/>
<path d="M152.9 279.43h.2M158.59 273.5h.2M154.74 268.85h.2M154.73 268.81h.2M159.29 271.5h.2M154.53 266.27h.2M156.04 268.13h.2M152.6 273.79h.2M156.1 273.41h.2M156.69 272.01h.2M154.81 269.76h.2M160.34 269.42h.2M161.63 274.22h.2M151.97 267.75h.2M151.4 269.92h.2M149.78 272.85h.2M154.37 262.18h.2M154.24 263.11h.2M153.28 274.17h.2M160.15 268.38h.2M148.64 274.71h.2M156.58 271.75h.2M156.74 281.01h.2M161.26 274.44h.2M155.88 273.73h.2M153.47 266.31h.2M156.62 268.2h.2M154.56 271.15h.2M167.89 273.82h.2M154.63 270.21h.2M155.68 275.24h.2M153.74 267.33h.2M148.15 264.33h.2M157.61 272.39h.2M150.47 267.49h.2M154.43 272.63h.2M152.4 268.85h.2M147.59 263.23h.2M166.21 268.02h.2M153 270.89h.2M154.3 267.64h.2M154.7 270.84h.2M157.29 265.02h.2M155.49 268.02h.2M151.94 270.43h.2M156.91 275.25h.2M151.2 272.69h.2M159.22 277.23h.2M162.14 273.78h.2M152.95 273.14h.2M147.89 268.47h.2M152.89 268.63h.2M147.6 264.21h.2M153.62 273.69h.2M160.05 273.05h.2M155.25 268h.2M157.36 271.17h.2M155.5 277.81h.2M156.99 266.31h.2M152.8 264.51h.2M147.16 272.24h.2M158.31 266.84h.2M156.45 276.4h.2M154.18 268.08h.2M152.91 271.09h.2M156.49 276.13h.2M159.34 277.47h.2M160.84 276.2h.2M147.56 267.04h.2M157.12 270.55h.2M160.06 272.01h.2M148.31 273.3h.2M158 273.22h.2M158.09 276.43h.2M160.23 264.22h.2M152.29 268.02h.2M149.81 269.32h.2M161.64 272.28h.2M146.43 274.61h.2M154.52 266.15h.2M155.57 272.86h.2M150.35 271.8h.2M153.9 267.02h.2M154.78 273.79h.2M151.37 270.55h.2M150.48 279.49h.2M149.48 273.62h.2M154.92 270.49h.2M157.31 275.43h.2M160.84 274.96h.2M152.78 267.95h.2M156.71 273.97h.2M161.37 275.54h.2M158.11 278.14h.2M157.96 266.81h.2M151.19 263.83h.2M164.15 272.09h.2M160.3 275.67h.2M162.11 278.08h.2M154.78 270.15h.2M155.17 271.74h.2M152.4 269.67h.2M165.47 269.5h.2M157.59 268.81h.2M154.73 274.02h.2M153.6 273.25h.2M145.48 270.72h.2M151.1 271.52h.2M159.62 263.46h.2M150.91 269.92h.2M162.33 275.5h.2M158.31 267.25h.2M159.54 279.89h.2M155.46 270.39h.2M145.66 269.96h.2M167.44 279.49h.2M160.52 275.61h.2M148.17 272.83h.2M149.15 267.48h.2M155.12 274.37h.2M156.52 273.16h.2M153.06 265.26h.2M156.33 268.95h.2M150.3 264.06h.2M155.22 264.15h.2M150.63 262.83h.2M155.32 272.68h.2M167.16 271.05h.2M150.3 272.23h.2M154.39 269.49h.2M164.01 273.93h.2M151.13 264.25h.2M156.23 272.72h.2M149.58 264.78h.2M156.84 274.02h.2M150.9 271.42h.2M160.41 266.83h.2M152.85 271.55h.2M155.22 263.08h.2M152.51 272.66h.2M166.03 267.92h.2M169.65 273.6h.2M158 277.03h.2M159.69 273.75h.2M148.31 270.23h.2M155.06 261.56h.2M168.08 279.76h.2M165.37 272.42h.2M160.03 279.31h.2M162.78 274.55h.2M149.26 267.66h.2M146.47 260.64h.2M156.88 268.16h.2M154.34 270.28h.2M162.76 279.49h.2M153.04 274.62h.2M151.6 268.15h.2M161.32 269.29h.2M155.51 266.28h.2M153.24 276.3h.2M150.93 269.95h.2M152.18 265.37h.2M146.75 272.61h.2M166.08 277.98h.2M150.42 271.51h.2M152.18 272.69h.2M156.05 272.54h.2M158.86 270.63h.2M155.46 264.76h.2M154.84 265.59h.2M155.65 267.71h.2M154.85 272.63h.2M149.09 265.19h.2M149.23 271.11h.2M162.28 277.59h.2M151.15 274.7h.2M145.3 272.1h.2M155.72 260.91h.2M165.95 282.02h.2M149.61 269.12h.2M153.78 270.82h.2M148.59 265.45h.2M157.01 272.77h.2M160.86 274.03h.2M167.74 274.26h.2M159.05 265.7h.2M146.84 272.18h.2M149.54 270.44h.2M156.19 267.64h.2M154 268.61h.2M151.49 272.19h.2M159.08 270.74h.2M150.07 269.76h.2M153.02 273.94h.2M167.02 279.77h.2M155.07 270.39h.2M152.03 266.21h.2M150.57 267.45h.2M151.8 272.3h.2M153.29 269.46h.2M146.56 273.24h.2M154.96 277.69h.2M156.83 277.44h.2M152.73 272.63h.2M170.24 273.52h.2M158.42 278.97h.2M156 274.34h.2M162.34 271.91h.2M158.36 269.23h.2M152.46 267.45h.2M154.06 271.12h.2M159.39 267.61h.2M163.4 279.36h.2M159.23 271.6h.2M153.74 272.52h.2M159.57 266.68h.2M154.49 281.97h.2M144.1 269.74h.2M157.05 271.53h.2M163.76 270.53h.2M153.67 276.02h.2M154.61 269.21h.2M156.24 269.87h.2M164.26 271.82h.2M161.32 269.12h.2M158.58 272.27h.2M141.77 264.81h.2M150.19 267.04h.2M164.53 271.14h.2M147.44 273.03h.2M153.32 276.16h.2M157.96 268.98h.2M152.84 274.74h.2M159.82 273.25h.2M155.42 270.76h.2M149.18 275.74h.2M156.71 267.43h.2M151.48 272.16h.2M158.49 272.1h.2M151.54 269.48h.2M148.35 262.88h.2M159.8 271.39h.2M155.12 275.76h.2M158.3 272.62h.2M164.92 278.2h.2M152.1 272.47h.2M158.35 269.26h.2M155.62 270.65h.2M145.18 265.75h.2M154.2 268.93h.2M147.09 265.95h.2M154.65 271.23h.2M148.25 270.29h.2M149.1 267.39h.2M162.71 271.93h.2M150.8 273.18h.2M153.47 269.14h.2M154.58 274.85h.2M144.93 263.11h.2M151.44 265.16h.2M151.86 266.3h.2M157.85 268.91h.2M155.03 272.56h.2M151.08 269.67h.2M162.89 275.92h.2M151.84 269.28h.2M149.93 269.67h.2M160.6 270.47h.2M152.3 274.01h.2M152.19 270.41h.2M150.99 265.99h.2M149.26 276.49h.2M153.72 268.42h.2M152.43 269.18h.2M158 273.11h.2M164.95 276.44h.2M161.82 275.22h.2M160.09 267.96h.2M154.47 270.49h.2M156.88 263.8h.2M159.95 271.85h.2M153.18 269.2h.2M153.28 271.72h.2M150 265.18h.2M156.24 272.12h.2M153.95 268.36h.2M150.92 268.88h.2M162.41 270.48h.2M161.38 277.14h.2M151.62 272.36h.2M150.18 262.26h.2M149.16 266.74h.2M154.12 268.66h.2M158.56 264.65h.2M159.51 267.78h.2M152.3 268.19h.2M151.21 264.09h.2M150 268.62h.2M157.13 274.11h.2M151.18 266.25h.2M158.86 281.77h.2M157.18 286.3h.2M158.32 275.53h.2M162.66 283.77h.2M162.69 283.86h.2M162.42 284.85h.2M163.38 277.71h.2M164.19 278.86h.2M159.52 274.49h.2M160.81 282.94h.2M158.17 282.99h.2M161.7 280.11h.2M155.04 279.93h.2M161.08 274.9h.2M157.64 267.46h.2M161.26 275.37h.2M160.22 269.54h.2M161.87 277.41h.2M161.25 274.01h.2M161.91 290.23h.2M157.58 276.13h.2M158.51 274.24h.2M165.61 286.56h.2M156.57 271.12h.2M164.76 283.59h.2M163.98 284.05h.2M158.19 278.75h.2M155.32 273.05h.2M162 275.12h.2M166.1 277.88h.2M159.99 283.27h.2M165.48 280.18h.2M158.04 281.58h.2M163.18 275.73h.2M159.95 284.41h.2M159.41 273.58h.2M158.61 275.6h.2M161.36 279.34h.2M164.2 281.68h.2M157.25 281.98h.2M163.26 280.62h.2M162.28 275.68h.2M159.41 284.11h.2M155.13 269.26h.2M162.04 274.84h.2M157.95 272.45h.2M155.8 274.27h.2M160.11 281.02h.2M155.92 284.12h.2M156.27 274.61h.2M162.04 278.2h.2M159.18 288.9h.2M158.74 280.75h.2M162.81 285.69h.2M160.7 284.16h.2M160.16 284.9h.2M158.19 277.74h.2M165.49 279.3h.2M163.67 289.76h.2M160.32 274.82h.2M160.74 272.82h.2M164.79 284.09h.2M158.3 276.34h.2M160.94 278.95h.2M158.87 282.38h.2M155.01 278.23h.2M159.17 277.94h.2M159.65 272.87h.2M161.69 277.75h.2M157.16 272.82h.2M158.11 281.51h.2M158.26 279.93h.2M164.4 283.3h.2M163.88 276.56h.2M159.2 284.63h.2M162.7 284.23h.2M162.07 284.77h.2M163.47 281.91h.2M162.23 280.59h.2M161.36 279.94h.2M162.23 275.89h.2M164.55 277.36h.2M162.76 277.93h.2M162.53 288.97h.2M158.1 273.03h.2M158.37 277.93h.2M165.97 278.6h.2M161.46 273.56h.2M162.22 282.01h.2M163.95 274.47h.2M162.35 280.07h.2M158.01 279.57h.2M156.85 267.94h.2M162.64 281.22h.2M157.71 272.82h.2M164.42 279.33h.2M164.78 285.15h.2M160.29 283.26h.2M159.84 278.85h.2M160.29 279.05h.2M163.35 278.88h.2M159.77 277.76h.2M160.17 274.46h.2M159.22 279.07h.2M158.98 278.79h.2M161.62 289.07h.2M164.29 280.31h.2M163.21 289.62h.2M161.17 278.37h.2M161.63 280.28h.2M163.88 278h.2M164.43 273.38h.2M160.88 273.71h.2M164.46 276.23h.2M161.56 283.5h.2M162.09 272.82h.2M157.86 272.49h.2M160.7 278.42h.2M158.77 275.92h.2M158.6 275.64h.2M163.74 285.98h.2M155.69 279.69h.2M160.13 281.65h.2M158.01 278.91h.2M158.89 283.04h.2M160.53 278.16h.2M161.07 277.57h.2M157.52 282.88h.2M161 278.07h.2M164.46 284.25h.2M156.85 275.93h.2M166.07 284.85h.2M157.19 273.78h.2M158.32 277.01h.2M156.72 280.18h.2M155.84 273.98h.2M161.83 275.11h.2M161.14 282.08h.2M162.03 276.85h.2M159.54 274.99h.2M165.56 281.01h.2M157.84 279.73h.2M162.84 280.85h.2M166.69 284.44h.2M159.08 278.92h.2M157.73 281.03h.2M164.36 291.96h.2M158.03 268.83h.2M159.02 279.98h.2M156.34 275.62h.2M160.06 280.89h.2M158.95 274.81h.2M161.7 275.88h.2M157.51 272.66h.2M159.45 282.66h.2M156.5 279.7h.2M161.75 276.71h.2M159.63 273.45h.2M165.09 283.47h.2M158.8 270.37h.2M162.16 288.29h.2M162.1 288.96h.2M160.24 291.49h.2M161.58 292.46h.2M158.4 290.78h.2M157.23 289.17h.2M159.68 292.83h.2M159.56 287.65h.2M159.35 289.76h.2M159.46 294.52h.2M161.4 291.27h.2M162.75 286.57h.2M159.56 284.61h.2M159.67 292.33h.2M159.33 290.72h.2M159.44 287.06h.2M158.07 288.69h.2M159.58 287.1h.2M162.77 289.78h.2M161.26 288.69h.2M161.72 293.04h.2M160.11 289.7h.2M163.77 283.43h.2M158.39 294.65h.2M157.44 288.01h.2M163.05 289.21h.2M161.2 291.86h.2M162.2 287.05h.2M160.53 289.22h.2M159.15 286.09h.2M158.34 292.11h.2M160.03 290.49h.2M160.77 293.1h.2M161.84 288.12h.2M158.66 286.35h.2M159.66 292.49h.2M156.71 287.17h.2M162.01 291.85h.2M161.02 284.44h.2M160.99 293.97h.2" stroke="#1c22f0" stroke-width="0.7" stroke-linecap="round" fill="none" opacity="0.55"/>
<path d="M135.09 292.14h.2M135.48 280.49h.2M150.11 284.42h.2M135.43 271.68h.2M138.76 277.54h.2M150.03 266.37h.2M145.27 283.49h.2M145.91 282.2h.2M152.63 282.39h.2M148 283.07h.2M154.55 260.9h.2M150.97 275.65h.2M140.03 269.27h.2M128.92 274.56h.2M137.19 282.45h.2M131.69 290.88h.2M143.9 275.77h.2M137.03 270.92h.2M134.09 273.1h.2M142.04 276.4h.2M132.1 275.61h.2M135.75 279.44h.2M155.05 283.63h.2M139.81 263.38h.2M132.1 262.82h.2M147.08 271.11h.2M142.44 272.4h.2M142.64 290.62h.2M137.21 274.93h.2M136.36 285.87h.2M134.82 267.8h.2M132.29 265.32h.2M145.3 301.12h.2M135.03 286.56h.2M143.76 268.08h.2M140.06 275.9h.2M137.17 295.38h.2M128.66 281.43h.2M144.32 272.78h.2M143.05 285.9h.2M143.07 281.76h.2M146.85 259.71h.2M152.35 298.5h.2M148.87 287.12h.2M132.14 276.93h.2M136.32 272.72h.2M148.77 270.76h.2M141.09 260.82h.2M140.89 278.81h.2M137.07 271.52h.2M155.2 267.11h.2M134.65 270.72h.2M150.39 296.91h.2M144.33 271.54h.2M139.01 287.58h.2M135.62 291.08h.2M151.92 278.63h.2M146.52 284.75h.2M152.88 268.54h.2M150.27 274.62h.2M136.63 278.92h.2M140.5 269.11h.2M130.82 269.52h.2M152.17 295.66h.2M146.55 288.67h.2M138.38 277.31h.2M143.98 268.27h.2M135.07 278.87h.2M139.76 268.43h.2M144.71 275.63h.2M161.06 290.99h.2M157.1 291.26h.2M157.48 289.66h.2M156.79 292.5h.2M159.94 293.57h.2M152.92 290.21h.2M156.76 291.34h.2M156.64 289.97h.2M160.35 291.36h.2M154.5 293.67h.2M160.99 289.85h.2M160.49 289.53h.2M161.38 290.56h.2M155.59 290.25h.2M155.7 291.38h.2M158.53 291.07h.2M156.33 283.68h.2M158.28 287.21h.2M158.73 293.26h.2M158.82 290.22h.2" stroke="#6070f0" stroke-width="0.6" stroke-linecap="round" fill="none" opacity="0.3"/>
<ellipse cx="70" cy="336" rx="8" ry="4.5" fill="#1c22f0" opacity="0.4" filter="url(#bl1)" transform="rotate(10 70 336)"/>
<ellipse cx="63.6" cy="333.5" rx="5.8" ry="4.8" fill="#1c22f0" opacity="0.95" filter="url(#bl1)" transform="rotate(0 63.6 333.5)"/>
<path d="M62.85 333.1h.2M61.52 331.75h.2M60.17 337.06h.2M63.44 336.37h.2M62.6 333.72h.2M62.89 334.89h.2M66.48 334.22h.2M61.07 331.16h.2M69.47 332.66h.2M62.45 337.9h.2M67.42 335.1h.2M62.06 340.56h.2M64.91 335.14h.2M62.88 329.26h.2M58.69 334.72h.2M64.91 332.78h.2M59.28 329.18h.2M62.32 329.13h.2M66.74 336.96h.2M73.68 336.13h.2M61.37 330.89h.2M51.07 331.72h.2M62.86 336.4h.2M65.7 335.27h.2M64.27 335.48h.2M68.71 330.31h.2M61.85 329.33h.2M69.33 337.39h.2M66.21 329.9h.2M64.12 332.8h.2M63.79 332.94h.2M65.37 332.32h.2M66.58 334.22h.2M62.44 333.16h.2M61.91 335.94h.2M62.52 334.38h.2M62.09 329.04h.2M66.76 330.33h.2M65.94 334.76h.2M57.54 330.67h.2M61.65 331.04h.2M59.24 335.72h.2M62.64 334.66h.2M61.95 334.42h.2M60.8 333.42h.2M65.59 333.64h.2M61.85 330.24h.2M64.1 334.53h.2M62.57 331.19h.2M65.45 340.95h.2M62.41 334.51h.2M64.86 325.8h.2M63.95 331.38h.2M68.48 332.74h.2M60.7 332.84h.2M64.1 331.82h.2M63.31 329.44h.2M62.69 335.83h.2M70.59 335.62h.2M64.48 337.05h.2M67.17 338.49h.2M67.4 333.15h.2M64.43 334.04h.2M64.59 334.1h.2M60.68 327.19h.2M61.08 327.42h.2M63.74 333.51h.2M57.47 335.56h.2M66.62 333.79h.2M69.5 339.11h.2M59.16 336.61h.2M65.09 334.75h.2M66.86 331.34h.2M61.37 331.02h.2M60.78 333.2h.2M58.27 330.36h.2M65.58 333.29h.2M64.88 327.83h.2M60.68 331.83h.2M63.62 331.74h.2M66.86 333.33h.2M63.56 333.54h.2M66.05 332.09h.2M67.54 334.88h.2M64.05 333.63h.2M65.37 336.55h.2M66.9 334.63h.2M66.66 333.86h.2M68.01 333.42h.2M56.03 337.51h.2M63.89 329.99h.2M62.79 330.85h.2M71.06 334.99h.2M57.85 335.14h.2M62.06 339.25h.2M59.71 326.76h.2M63.74 332.46h.2M62 327.08h.2M65.04 338.52h.2M56.63 337.01h.2M61.45 340.55h.2M65.07 332.94h.2M67.48 335.08h.2M61.37 335.63h.2M61.66 328.13h.2M70.81 332.45h.2M61.31 334.52h.2M57.89 329.44h.2M61.7 331.94h.2M63.76 336.87h.2M61.79 334.98h.2M65.67 330.25h.2M64.32 330.67h.2M67.33 334.87h.2M63.56 329.48h.2M63.92 331.2h.2M66.04 333.14h.2M60.58 336.28h.2M66.1 331.72h.2M67.68 332.6h.2M62.39 333.87h.2M60.79 332.18h.2M62.92 338.09h.2M68.9 332.72h.2M69.3 333.37h.2M64.87 336.15h.2M64.55 340.75h.2M64.38 329.91h.2M68.2 332.26h.2M62.4 324.52h.2M67.1 335.96h.2M66.38 336.44h.2M69.59 333.36h.2M66.88 331.27h.2M62.23 336.67h.2M64.91 329.5h.2M64.8 332.95h.2M60.55 334.8h.2M62.04 328.79h.2M59.5 338.81h.2M58.05 334.17h.2M65.7 335.42h.2M59.09 332.54h.2M64.01 335.9h.2M61.18 330.01h.2M67.11 336.82h.2M64.83 331.67h.2M64.96 333.83h.2M66.52 329.75h.2M63.92 333.02h.2M59.51 334.15h.2M63.63 332.27h.2M64.93 329.24h.2M63.31 334.79h.2M64.52 336.73h.2M59.18 328.98h.2M64.36 334.87h.2M71.13 335.35h.2M60.35 335.92h.2M60.46 329.04h.2M72.89 334.48h.2M66.07 335.19h.2M70.02 334.35h.2M67.88 330.42h.2M58.49 337.78h.2M68.81 335.03h.2M64.31 334h.2M61.02 338.12h.2M65.87 335.02h.2M64.85 336.64h.2M65.32 335.74h.2M59.29 335.03h.2M71.37 331.94h.2M63.04 336.18h.2M66.95 335.37h.2M57.68 335.01h.2M59.24 331.03h.2M65.47 332.61h.2M66.41 342.94h.2M66.3 335.67h.2M60.28 331.57h.2M59.67 331.9h.2M59.57 331.52h.2M62.75 330.5h.2M58.39 329.42h.2M65.13 333.68h.2M67.19 336.63h.2M62.27 335.51h.2M58.31 340.35h.2M67.8 332.85h.2M59.31 334.64h.2M56.77 331.16h.2M66.2 333.73h.2M61.73 336.35h.2M59.76 334.35h.2M61.71 330.96h.2M65.17 330.52h.2M70.35 331.75h.2M70.66 330.22h.2M65.68 329.9h.2M58.67 333.98h.2M65.94 329.68h.2M67.76 331.11h.2M63.97 334.64h.2M65.64 328.11h.2M69.33 335.19h.2M61.97 330.43h.2M57.4 329.42h.2M65.46 332.48h.2M59.43 331.92h.2M69.13 332.51h.2M61.4 337.55h.2M65.16 333.63h.2M61.31 328.84h.2M59.29 332.06h.2M62.71 334.57h.2M65.49 334.17h.2M64.29 330.48h.2M55.74 331.94h.2M60.07 331.54h.2M62.51 329.77h.2M59.5 333.2h.2M63.92 331.53h.2M65.29 332.84h.2M59.83 333.62h.2M70.28 331.48h.2M67.7 337.63h.2M68.89 331.03h.2M70.76 333.85h.2M62.59 332.81h.2M65.67 333.65h.2M62.86 337.35h.2M60.9 330.37h.2M66.36 335.61h.2M67.44 330.28h.2M67.39 334.95h.2M69.85 329.76h.2M64.29 332.67h.2M57.78 331.36h.2M67.56 332.09h.2M60.9 336.1h.2M67.06 336.46h.2M60.66 333.33h.2M67.21 331.53h.2M60.8 335.98h.2M69.12 330.04h.2M54.15 329.15h.2M59.86 333.09h.2M65.72 333.06h.2M60.98 333.96h.2M65.23 334.84h.2M67.15 344.38h.2M75.9 332.08h.2M65.02 333.47h.2M61.13 332.44h.2M66.57 338.09h.2M68.44 332.23h.2M62.96 330.88h.2M70.6 334.25h.2M77.81 332.8h.2M77.36 335.9h.2M70.97 327.97h.2M63.26 337.6h.2M79.39 335.72h.2M75.58 333.57h.2M68.77 332.68h.2M76.85 336.2h.2M69.59 333.85h.2M74.34 336.13h.2M66.01 341.01h.2M72.54 335.04h.2M79.86 338.58h.2M70.47 336.88h.2M64.58 332.76h.2M57.44 339.27h.2M59.61 337.38h.2M66.02 331.57h.2M69.83 335.93h.2M74.67 341.2h.2M73.15 338.08h.2M67.41 337.5h.2M71.92 333.38h.2M70.42 334.78h.2M72.15 336.4h.2M67.95 332.41h.2M75.48 329.06h.2M67.29 340.43h.2M54.76 332.57h.2M75.13 329.22h.2M86.59 325.94h.2M79.62 340.45h.2M76.5 334.22h.2M73.14 331.86h.2M75.86 331.08h.2M69.36 338.49h.2M64.31 333.73h.2M71.99 330.3h.2M77.99 336.19h.2M61.91 334.84h.2M66.35 332.7h.2M71.46 332.52h.2M76.79 332.53h.2M76.89 334.85h.2M76.13 333.11h.2M67.97 330.97h.2M74.47 338.28h.2M83.72 339.52h.2M72.5 334.26h.2M73.33 334.9h.2M79.78 338.3h.2M65.98 332.59h.2M79.2 336.08h.2M69.61 339.15h.2M68.67 334.02h.2M68.23 328.13h.2M76.19 330.77h.2M67.59 332.4h.2M75.36 334.76h.2M71.09 329.12h.2M70.48 329.83h.2M72.84 336.28h.2M70.9 342.15h.2M74.17 337.09h.2M71.85 334.33h.2M76.8 338.86h.2M63.19 338.69h.2M74.08 338.36h.2M73.8 330.65h.2M63.96 341.39h.2M72.51 330.04h.2M73.09 333.73h.2M59.94 326.98h.2M61.38 335.95h.2M70.71 334.13h.2M72.71 337.1h.2M58.38 333.95h.2M66.03 330.68h.2M67.72 334.57h.2M69.4 329.91h.2M68.1 342.06h.2M64.67 329.1h.2M72.65 337.09h.2M73.78 331.08h.2M76.99 332.25h.2M64.19 332.87h.2M70.35 337.5h.2M74.74 334.92h.2M76.6 335.29h.2M76.38 330.09h.2M61.55 337.72h.2M62.66 333.94h.2M70.41 333.29h.2M68.28 339.87h.2M55.82 338.09h.2M84.77 335.08h.2M70.89 337.54h.2M81.97 330.84h.2M71.53 334.35h.2M74.36 335.56h.2M74.96 333.52h.2M71.29 332.65h.2M67.01 334.5h.2M70.15 330.9h.2M80.42 334.53h.2M62.7 338.86h.2M66.51 336.78h.2M70.9 335.88h.2M72.03 332.99h.2M71.25 342.12h.2M57.57 335.23h.2M73.61 331.32h.2M62.78 342.56h.2M68.77 342.28h.2M74.21 335.27h.2M73.86 337.22h.2M78.08 336.53h.2M71.87 335.62h.2M79.11 337.86h.2M64.99 332.78h.2M72.98 332.82h.2M68.74 331.65h.2M69.43 336.48h.2M76.97 335.03h.2M83.45 334.73h.2M90.16 338.51h.2M73.98 333.25h.2M54.05 334.46h.2M72.07 341.73h.2M62.72 341.67h.2M69.49 337.53h.2" stroke="#1c22f0" stroke-width="0.7" stroke-linecap="round" fill="none" opacity="0.55"/>
<path d="M48.22 341.83h.2M63.59 345.09h.2M66.64 334.15h.2M72.63 345.17h.2M70.18 347.05h.2M73.71 340.87h.2M56.5 332.69h.2M75.45 345.26h.2M66.71 338.39h.2M66.22 341.15h.2M63.64 336.81h.2M81.15 342.37h.2M61.76 333.19h.2M60.92 345.32h.2M71.31 339.69h.2M66.36 339.17h.2M58.25 348.81h.2M68.61 355.86h.2M60.71 340.17h.2M72.18 339.53h.2M56.29 335.31h.2M66.71 343.06h.2M65.34 347.02h.2M72.95 342.94h.2M66.19 339.48h.2M69.86 346.52h.2M66.42 343.7h.2M63.73 332.53h.2M58.99 345.59h.2M69.13 350.54h.2M66.39 346.19h.2M75.26 346.97h.2M61.74 339.89h.2M66.91 335.08h.2M69.32 347.14h.2M62.63 352.84h.2M63.96 339.78h.2M64.33 336.75h.2M68.93 341.12h.2M77.63 344.64h.2M69.76 339.67h.2M56.1 340.46h.2M60.05 346.71h.2M65.79 350.99h.2M71.15 346.01h.2M67.61 342.25h.2M70.57 346.54h.2M61.03 343.95h.2M84.35 340.46h.2M64.21 336.85h.2" stroke="#6070f0" stroke-width="0.6" stroke-linecap="round" fill="none" opacity="0.3"/>
<ellipse cx="140" cy="330.5" rx="9" ry="3" fill="#1c22f0" opacity="0.55" filter="url(#bl1)" transform="rotate(4 140 330.5)"/>
<ellipse cx="150.5" cy="331.5" rx="7" ry="3.6" fill="#1c22f0" opacity="0.9" filter="url(#bl1)" transform="rotate(8 150.5 331.5)"/>
<path d="M160.8 337.24h.2M157.74 336.61h.2M157.68 334h.2M158.52 335.46h.2M146.67 331.12h.2M146.97 331.29h.2M160.79 336.64h.2M149.76 330.83h.2M153.28 332.45h.2M153.62 333.24h.2M138.08 332.03h.2M138 328.27h.2M134.72 331.58h.2M158.81 334.62h.2M157.63 337.1h.2M133.33 331.03h.2M158.08 333.41h.2M131.98 331.85h.2M145 332.5h.2M137.86 330.77h.2M157.87 332.61h.2M138.52 330.5h.2M134.26 329.34h.2M147.7 329.68h.2M137.94 330.54h.2M135.74 330.98h.2M152.76 328.9h.2M154.36 334.91h.2M155.91 331.39h.2M146.85 329.89h.2M139.48 332.14h.2M149.4 331.16h.2M159.45 335.11h.2M135.28 326.78h.2M155.98 336.11h.2M149.09 330.5h.2M140.25 328.71h.2M156.59 334.75h.2M159.17 330.73h.2M146.32 330.49h.2M130.29 331.61h.2M155.05 332.75h.2M146.49 332.28h.2M130.31 329.92h.2M155.63 332.69h.2M137.67 328.3h.2M135.56 327.18h.2M158.99 337.03h.2M151.77 330.59h.2M132.31 329.84h.2M130.43 329.84h.2M151.21 329.31h.2M131.14 330.13h.2M158.91 336.39h.2M138.5 330.71h.2M147.44 331.23h.2M150.59 331.57h.2M153.97 332.69h.2M160.26 339.02h.2M136.11 329.63h.2M159.13 336.6h.2M130.8 328.4h.2M140.57 331.03h.2M136.21 329.97h.2M134.19 330.98h.2M157.87 335.34h.2M128.6 330.52h.2M151.7 327.82h.2M145.37 333.43h.2M137.14 329.14h.2M155.84 334.6h.2M136.36 329.42h.2M133.46 330.55h.2M134.05 330.31h.2M135.26 332.34h.2M139.69 329.96h.2M133.71 326.21h.2M144.51 328.54h.2M158.6 338.34h.2M154.15 335.52h.2M132.76 326.46h.2M136.67 331.8h.2M133.57 329.28h.2M142.98 326.65h.2M135.86 329.41h.2M158.62 336.56h.2M145.76 330.16h.2M131.39 328.7h.2M138.6 332.09h.2M132.78 330.6h.2M143.29 330.89h.2M141.32 332.92h.2M145.85 329.93h.2M141.32 329.9h.2M153.59 334.3h.2M146.49 328.46h.2M155.46 334.07h.2M134.21 329.05h.2M135.92 327.12h.2M158.42 337.78h.2M143.21 330.98h.2M159.66 337.34h.2M152.58 331.95h.2M133.57 332.74h.2M149.04 327.36h.2M141.98 326.81h.2M151.87 330.13h.2M138.51 331.23h.2M149.08 334.08h.2M143.43 330.03h.2M156.5 334.44h.2M136.94 331.99h.2M147.56 329.47h.2M161.04 338.72h.2M150.37 329.72h.2M142.7 328.89h.2M148.95 331.16h.2M152.35 332.49h.2M142.04 329.56h.2M149.88 330.79h.2M152.74 331.44h.2M150.83 329.8h.2M136.87 330.31h.2M156.07 332.9h.2M158.56 340.28h.2M156.27 333.83h.2M132.41 329.67h.2M139.43 330.73h.2M151.79 330.28h.2M129.43 331.61h.2M140.89 333.94h.2M139.29 330.08h.2M144.57 331.46h.2M141.89 335.29h.2M145.74 329.88h.2M156.66 334.25h.2M156.03 337.17h.2M143.21 327.99h.2M150.01 331.33h.2M133.86 330.2h.2M131.68 328.63h.2M133.72 329.45h.2M140.49 331.47h.2M156.62 332.22h.2M135 331.8h.2M139.5 331.85h.2M150.27 331.76h.2M133.54 330.03h.2M138.53 330.82h.2M146.31 332.29h.2M146.58 331.59h.2M160.79 337.5h.2M129.78 327.77h.2M158.93 337.95h.2M150.93 334.12h.2M144.08 330.16h.2M134.29 332.71h.2M144.36 329.74h.2M152.32 329.45h.2M137.62 333.35h.2M149.79 330.49h.2M157.39 334.33h.2M126.39 330.29h.2M142.29 331.21h.2M145.07 328.46h.2M132.5 332.3h.2M141.43 330.23h.2M153.24 332.43h.2M155.12 333.35h.2M151.53 330.16h.2M136.54 331.72h.2M159.2 338.34h.2M133.18 328.53h.2M149.67 333.32h.2M140.27 330.5h.2M156.11 332.53h.2M152.68 334.04h.2M137.76 327.73h.2M140.08 331.52h.2M132.93 331.89h.2M140.75 329.3h.2M146.08 331.25h.2M153.54 330.6h.2M145.25 329.43h.2M143.1 331.74h.2M134.83 327.23h.2M154.4 333.34h.2M141.11 328.47h.2M138.22 328.51h.2M143.03 328.05h.2M138.56 331.36h.2M158.15 336.13h.2M145.67 331.44h.2M151.35 330.44h.2M134.17 325.62h.2M151.06 332.93h.2M135.51 328.94h.2M135.73 329.03h.2M157.14 332.5h.2M157.77 332.98h.2M145.49 332.41h.2M131.19 329.73h.2M159.49 334.86h.2M152.15 328.61h.2M140.86 330.28h.2M131.55 330.85h.2M138.14 329.15h.2M149.92 332.19h.2M152.91 333.22h.2M140.04 328.02h.2M146.46 331.19h.2M133.41 328.83h.2M159.31 335.64h.2M133.72 330.33h.2M147.49 330.89h.2M157.04 336.45h.2M143.39 331.25h.2M129.16 329.74h.2M140.34 331.65h.2M149.68 330.22h.2M154.82 336.26h.2M130.83 331.85h.2M132.64 332.13h.2M157.55 335.92h.2M139.08 329.86h.2M157.83 336.26h.2M143.68 331.37h.2M158.54 337.06h.2M157.17 334.54h.2M153.72 330.8h.2M141.95 330.13h.2M155.2 332.18h.2M136.69 332.94h.2M135.89 328.39h.2M159.2 336.66h.2M136.56 330.58h.2M145.27 329.77h.2M155.7 334.42h.2M150.02 330.43h.2M146.14 329.92h.2M156.97 329.6h.2M138.13 331.5h.2M142.32 329.56h.2M154.68 329.79h.2M154.44 330.15h.2M157.51 336.12h.2M146.25 330.61h.2M143.98 331.54h.2M156.28 328.19h.2M154.86 328.39h.2M144.39 325.98h.2M161.54 332.98h.2M150.66 329.77h.2M155.98 326.31h.2M148.51 337.66h.2M146.72 331.31h.2M153.25 329.66h.2M148.86 334.19h.2M150.05 332.65h.2M146.82 332.16h.2M148.91 335.59h.2M153.39 331.28h.2M134.19 331.96h.2M153.78 329.42h.2M137.41 327.07h.2M154.84 329.12h.2M146.19 331.83h.2M156.31 332.22h.2M148.56 329.91h.2M158.42 335.49h.2M148.84 327.55h.2M144.11 332.62h.2M144.43 333.53h.2M151.07 332.54h.2M152.75 333.3h.2M143.99 330.06h.2M163.32 329.6h.2M145.86 334.17h.2M148.29 329.14h.2M140.95 332.16h.2M154.68 336.04h.2M149.02 334.44h.2M142.79 331.32h.2M144.91 331.56h.2M153.17 334.95h.2M142.72 334.41h.2M146.47 328.35h.2M148.41 327.32h.2M148.94 332.31h.2M147.65 332.87h.2M147.12 331.31h.2M140.39 330.72h.2M144.05 329.71h.2M148.39 331.97h.2M139.63 326.11h.2M147.06 332.63h.2M150.89 334.21h.2M156.62 333.7h.2M149.18 328.62h.2M143.49 329.61h.2M150.53 332.28h.2M149.07 331.08h.2M152.7 332.48h.2M150.69 332.55h.2M146.04 328.29h.2M151.81 332.97h.2M147.81 330.2h.2M162.82 330.81h.2M147.62 332.1h.2M142.08 331.1h.2M159.45 335.23h.2M152.6 333.55h.2M149.39 334.24h.2M148.19 330.22h.2M149.34 334.09h.2M150.77 333.59h.2M136.57 333.55h.2M162.58 336.69h.2M147.35 328.94h.2M150.94 328.93h.2M153.48 330.49h.2M154.33 335.9h.2M136.79 331.04h.2M145.25 327.14h.2M145.38 330.5h.2M155.61 327.91h.2M154.68 337.78h.2M152.41 333.39h.2M149.26 328.22h.2M152.08 332.9h.2M152.61 339.11h.2M153.22 333.14h.2M158.71 328.73h.2M142.29 329.74h.2M144.89 333.02h.2M146.6 336.15h.2M157.85 334.6h.2M146.52 332.98h.2M154.15 329.04h.2M150.87 333.69h.2M149.83 336.01h.2M156.49 329.96h.2M149.99 329.25h.2M152.71 329.45h.2M154.4 333.16h.2M154.84 331.7h.2M139.79 335.5h.2M147.57 335.23h.2M151.37 333.65h.2M159.82 333.6h.2M157.79 328.24h.2M154.27 331.37h.2M148.2 331.44h.2M150.58 336.33h.2M137.93 330.46h.2M144.38 334.3h.2M146.34 332.51h.2M146.43 333.11h.2M155.17 331.03h.2M149.71 327.58h.2M150.57 334.08h.2M145.36 334.27h.2M137.17 325.04h.2M140.86 329.28h.2M149.13 331.29h.2M148.39 333.47h.2M146.55 327.69h.2M140.96 336.6h.2M135.02 329.53h.2M157.56 333.76h.2M144.05 330.99h.2M153.8 335.41h.2M143.41 333.05h.2M150.18 334.73h.2M157.4 331.42h.2M140.23 331.69h.2M159.4 334.52h.2M149.67 338.33h.2M142.53 333.36h.2M145.58 331.28h.2M149.09 335.77h.2M143.57 329.42h.2M139.35 331.86h.2M146.14 332.39h.2M142.7 329.83h.2M155.25 331.67h.2M152.58 333.36h.2M147.35 326.94h.2M154.83 332.59h.2M155.46 326.51h.2M139.75 324.5h.2M143.46 333.85h.2M152.39 331.76h.2M149.56 333.7h.2M147.08 332.41h.2M150.48 325.5h.2M146.31 335.04h.2M146.68 330.85h.2M145.52 329.77h.2M155.79 331.46h.2M143.81 322.19h.2M146.16 325.66h.2M137.88 332.57h.2M153.79 326.61h.2M153.95 333.31h.2M144.11 333.05h.2M139.65 327.13h.2M140.73 327.5h.2M154.63 328.34h.2M142.41 328.13h.2M150.27 330.68h.2M154.35 330.06h.2M141.45 329.29h.2M149.48 328.92h.2M150.1 336.72h.2M145.48 331.23h.2M157.21 330.51h.2M144.2 327.88h.2M151.15 333.14h.2M148.02 331.47h.2" stroke="#1c22f0" stroke-width="0.7" stroke-linecap="round" fill="none" opacity="0.55"/>
<path d="M160.54 351.22h.2M159.77 341.35h.2M158.3 352.26h.2M159.82 343.46h.2M158.04 349.11h.2M157.67 353.81h.2M160.44 341.54h.2M157.2 341.83h.2M160.37 339.06h.2M160.61 352.06h.2M160.64 338.65h.2M159.83 351.23h.2M161.32 349.99h.2M157.85 347.44h.2M161.16 338.51h.2M160.83 342.06h.2M162.05 341h.2M160.21 342.54h.2M159.55 338.86h.2M159.5 339.07h.2M161.87 343.32h.2M158.11 337.65h.2M160.62 344.12h.2M159.96 348.45h.2M156.95 353.35h.2M157.04 356.57h.2M159.4 341.86h.2M159.71 348.71h.2M160.64 355.5h.2M160.26 343.36h.2M158.1 344.04h.2M158.43 345.91h.2M158.62 346.39h.2M158.45 339.04h.2M159.3 339.65h.2M160.85 343.19h.2M158.93 342.98h.2M158.28 355.45h.2M160.03 349.23h.2M156.93 355.21h.2M160.84 340.64h.2M158.42 340.06h.2M158.24 338.58h.2M159.75 348.99h.2M156.23 353.36h.2M160.19 344.77h.2M160.6 343.31h.2M160.31 343.6h.2M160 346.11h.2M159.79 355.39h.2M158.11 351.21h.2M161.25 343.41h.2M159.02 354.11h.2M160.38 347.13h.2M161.88 341.87h.2M162.85 342.75h.2M162.75 344.72h.2M159.34 345.84h.2M162.34 339.03h.2M161.53 344.38h.2M162.83 349.03h.2M159.52 348.9h.2M160.78 351.92h.2M158.93 337.65h.2M159.21 358.96h.2M160.3 350.96h.2M157.34 355h.2M159.92 344.96h.2M157.59 346.08h.2M157.6 350.83h.2M159.46 355.89h.2M159.73 338.3h.2M157.02 344.47h.2M157.52 351.31h.2M159.97 355.78h.2M159.73 349.53h.2M162.01 346.79h.2M158.08 344.65h.2M158.72 344.04h.2M156.49 353.35h.2M160.47 356.89h.2M146.66 354.41h.2M143.33 335.92h.2M129.62 348.29h.2M144.54 357.97h.2M150.18 342.91h.2M133.08 352.09h.2M144.63 340.47h.2M129.88 348.08h.2M155.45 337.35h.2M148.28 344.35h.2M155.25 342.33h.2M161.33 339.91h.2M142.7 338.34h.2M127.25 335.96h.2M155.61 343.46h.2M141 344.06h.2M131.41 339.62h.2M151.76 346.5h.2M141.36 348.01h.2M162.52 338.63h.2M153.49 330.72h.2M131.87 345.91h.2M147.92 343.03h.2M142.91 339.57h.2M154.06 353.66h.2M145.85 330.08h.2M157.78 345.86h.2M153.04 342.91h.2M166.18 342.17h.2M151.7 328.66h.2M142.95 336.83h.2M147.35 344.08h.2M141.59 353.76h.2M139.06 338.49h.2M149.5 332.88h.2M152.16 346.07h.2M145.25 355.01h.2M148.24 343.61h.2M139.9 329.91h.2M156.29 354.55h.2M156.73 355.86h.2M151.9 353.58h.2M153.3 356.55h.2M156.46 354.32h.2M155.12 356.02h.2M156.84 355.21h.2M152.78 356.35h.2M158.86 355.6h.2M160.97 354.71h.2M157.46 355.8h.2M158.94 354.65h.2M157.99 354.33h.2M159.67 356.06h.2M157.89 357.2h.2" stroke="#6070f0" stroke-width="0.6" stroke-linecap="round" fill="none" opacity="0.3"/>
<ellipse cx="70" cy="393" rx="7" ry="3.5" fill="#1c22f0" opacity="0.35" filter="url(#bl1)" transform="rotate(0 70 393)"/>
<ellipse cx="63.2" cy="395" rx="5" ry="4.6" fill="#1c22f0" opacity="0.95" filter="url(#bl1)" transform="rotate(0 63.2 395)"/>
<path d="M58.11 394.15h.2M68.53 393.59h.2M57.92 399.05h.2M64.79 391.27h.2M65.53 391.78h.2M58.75 394.4h.2M61.5 391.56h.2M61.87 391.84h.2M63.24 394.79h.2M65.44 393.49h.2M58.78 390.89h.2M62.26 399.48h.2M65.77 392.93h.2M66.07 391.37h.2M66.3 393.71h.2M65.52 396.73h.2M62.16 395.84h.2M59.63 394.64h.2M66.53 407.18h.2M65.31 395.12h.2M59.8 398.05h.2M57.74 392.45h.2M64.2 391.23h.2M67.99 398.15h.2M61.23 393.19h.2M58.82 390.65h.2M64.47 396.74h.2M64.18 395.66h.2M61.25 395.95h.2M58.33 394.89h.2M67.78 398.84h.2M61.56 393.86h.2M67.48 400.24h.2M58.25 393.58h.2M63.81 398.53h.2M60.36 396.8h.2M62.09 402.02h.2M64.44 394.46h.2M61.98 398.04h.2M65.24 391.6h.2M63.75 390.83h.2M60.63 390.97h.2M58.8 392.8h.2M59.91 396.45h.2M65.62 394.15h.2M59.46 397.29h.2M56.55 389.05h.2M65.39 396.84h.2M66.19 394.22h.2M59 393.33h.2M64.88 392.56h.2M60.8 390.66h.2M59.32 397.41h.2M64.52 391.37h.2M59.59 393.17h.2M64.82 391.35h.2M62.51 388.4h.2M59.02 396.13h.2M65.94 391.38h.2M60.57 397.27h.2M61.8 393.24h.2M64.73 395.46h.2M66.63 397.26h.2M61.21 394.51h.2M62.87 390.78h.2M59.93 397.8h.2M57.96 397.87h.2M63.98 394.45h.2M64.79 396.31h.2M66.95 393.67h.2M62.33 394.13h.2M69.11 397.72h.2M60.1 393.87h.2M60.8 394.92h.2M63.75 401.78h.2M57.21 397.97h.2M64.47 392.77h.2M62.59 393.39h.2M63.23 397.91h.2M58.2 398.83h.2M61.88 399.41h.2M64.4 398.6h.2M64.9 398.15h.2M63.26 392.39h.2M65.24 397.03h.2M69.82 388.86h.2M62.45 398.09h.2M59.07 394.21h.2M69.88 399.16h.2M60.27 399.19h.2M66.89 397.24h.2M64.32 395.62h.2M60.31 393.35h.2M65.45 395.33h.2M69.03 393.91h.2M55.41 393.91h.2M63.99 396.06h.2M63.32 392.44h.2M67.9 392.92h.2M65.39 394.05h.2M59.27 399.16h.2M55.07 392.36h.2M64.5 393.85h.2M65.52 394.62h.2M61.67 401.42h.2M62.42 394.45h.2M59.66 392.68h.2M65.21 396.62h.2M63.13 392.83h.2M65.33 389.82h.2M62.04 394.18h.2M60.43 395.4h.2M61 392.53h.2M68.91 397.17h.2M66.99 395.11h.2M66.24 397.3h.2M67.04 402.07h.2M62.43 395.74h.2M63 384.42h.2M58.7 395.03h.2M65.2 393.25h.2M66.81 398.83h.2M61.86 399.25h.2M68.79 396.38h.2M60.04 399.39h.2M62.66 393.86h.2M63.56 393.38h.2M66.63 397.33h.2M67.1 396.74h.2M60.66 394.52h.2M66 393.78h.2M72.54 394.27h.2M61.32 398.45h.2M65.59 394.92h.2M62.46 396.28h.2M65.87 397.29h.2M62.23 396.3h.2M65.9 397.29h.2M53.32 392.33h.2M60.72 394.31h.2M63.77 397.76h.2M65.18 394.62h.2M63.27 400.28h.2M61.24 395.91h.2M68.21 396.04h.2M56.66 396.12h.2M61.96 394.66h.2M66.56 396.41h.2M62.36 397.68h.2M64.59 395.32h.2M64.16 395.76h.2M62.11 393.62h.2M63.28 392.14h.2M59.17 398.9h.2M62.43 394.93h.2M62.77 395.07h.2M63.27 395.2h.2M60.62 397.8h.2M60.99 398.1h.2M57.06 391.82h.2M66.37 394.56h.2M61.05 396.13h.2M59.85 395.23h.2M56.11 393.64h.2M61.12 396.62h.2M66 392.44h.2M68.35 393.22h.2M56.62 387.86h.2M68.12 394.74h.2M61.13 392.76h.2M59.7 399.06h.2M62.93 400.37h.2M62.56 387.95h.2M65.9 393.9h.2M62.44 399.7h.2M62.36 398.49h.2M63.18 392.74h.2M64.82 393.2h.2M67.13 397.88h.2M63.4 396.83h.2M65.01 394.17h.2M66.06 394.32h.2M65.17 392.15h.2M63.53 396.25h.2M60.68 393.76h.2M61.5 397.19h.2M60.91 396.33h.2M68.09 396.08h.2M58.06 395.39h.2M66.55 394.16h.2M66.77 396.87h.2M64.57 394.24h.2M61.59 394.26h.2M63.43 396.6h.2M64.58 394.13h.2M63.44 396.19h.2M58.04 392.73h.2M60.68 394.42h.2M62.36 394.26h.2M60.45 397.06h.2M64.13 390.11h.2M63.29 391.66h.2M68.69 393.68h.2M61.99 395.3h.2M62.61 394.87h.2M68.2 395.73h.2M65.92 398.43h.2M60.13 400.12h.2M65.46 397.92h.2M60.49 397.5h.2M64.58 393.44h.2M70.56 396.75h.2M62.49 395.64h.2M66.17 398.45h.2M65.12 398.71h.2M67.97 391.35h.2M61.71 392.24h.2M63.57 399.39h.2M65.35 391.92h.2M62.32 398.15h.2M61.56 394.77h.2M64.24 389.6h.2M65.76 396.09h.2M65.08 392.12h.2M60.81 393.27h.2M64.07 395.27h.2M63.67 400.44h.2M67.44 392.9h.2M61.17 400.21h.2M62.25 399.2h.2M79.71 392.17h.2M68.5 394.36h.2M64.94 390.65h.2M67.71 397.05h.2M67.43 393.35h.2M67.33 389.29h.2M79.03 385.87h.2M66.2 396.03h.2M61.74 396.19h.2M77.63 391.06h.2M71.37 390.18h.2M73.16 394.38h.2M71.41 398.85h.2M72.94 398.78h.2M73.92 389.87h.2M71.68 395.78h.2M61.44 398.74h.2M70.52 395.36h.2M64.74 394.32h.2M71.92 392.93h.2M70.6 386.65h.2M78.29 390.17h.2M57.02 390.71h.2M65.1 395.97h.2M64.63 395.06h.2M64.35 401.79h.2M73.38 400.91h.2M64.02 396.39h.2M64.37 396.09h.2M74.17 388.48h.2M63.28 389.98h.2M61.08 391.5h.2M64.34 389h.2M70.68 395.96h.2M62.2 392.1h.2M70.13 393.24h.2M65.88 396.88h.2M75.16 396.42h.2M68.83 401h.2M80.52 392.64h.2M69.35 398.2h.2M65.27 395.43h.2M70.34 391.58h.2M68.67 388.54h.2M66.8 387.05h.2M83.74 399.3h.2M77.43 395.09h.2M76.04 398.48h.2M76.15 397.24h.2M64.57 395.53h.2M66.83 389.89h.2M63.19 395.52h.2M76.35 389.23h.2M80.5 399.16h.2M67.74 392.39h.2M69.59 397.45h.2M67.72 390.14h.2M72.08 386.78h.2M70.86 398.06h.2M71.84 396.74h.2M72.97 396.55h.2M70.87 391.1h.2M68.65 393.74h.2M77.55 399.69h.2M72.52 391.37h.2M65.62 393.34h.2M78.33 395.17h.2M69.67 391.32h.2M75.29 395.01h.2M69.7 394.36h.2M80.12 393.44h.2M80.13 398.35h.2M70.31 397.09h.2M69.26 391.1h.2M68.39 390.82h.2M73.07 394.05h.2M73.41 396.89h.2M51.28 395.09h.2M59.19 394.58h.2M64.74 394.36h.2M78.19 388.02h.2M71.14 393.73h.2M58.65 396.27h.2M70.21 392.22h.2M65.67 405.24h.2M67.64 387.7h.2M64.41 392.72h.2M67.69 393.72h.2M63.72 395.9h.2M67.1 389.24h.2M65.11 392.65h.2M75.09 395.7h.2M67.97 394.07h.2M71.29 401.14h.2M66.29 395.63h.2M74.36 390.66h.2M71.14 394.57h.2M67.18 395.99h.2M76.17 397.96h.2M68.85 394.66h.2" stroke="#1c22f0" stroke-width="0.7" stroke-linecap="round" fill="none" opacity="0.55"/>
<path d="M82.45 394.38h.2M67.55 406.34h.2M67.05 404.94h.2M67.21 405.52h.2M74.98 399.67h.2M67.38 400.67h.2M63.17 400.88h.2M58.08 405.47h.2M77.92 411.23h.2M74.93 395.22h.2M76.64 396.71h.2M65.63 412.08h.2M58.5 406.05h.2M67.97 400.09h.2M59.87 403.54h.2M62.75 407.27h.2M74.57 392.72h.2M62.46 399.09h.2M57.73 394.29h.2M66.62 399.75h.2M54.44 397.77h.2M69.63 393.76h.2M59.53 410.53h.2M75.22 391.27h.2M56.54 403.26h.2M57.66 399.48h.2M62.84 404.36h.2M48.3 387.78h.2M57.42 407.08h.2M64.92 390.75h.2M69.45 405.25h.2M64.28 399.02h.2M69.06 408.26h.2M67.07 404.2h.2M65.66 398.71h.2M59.59 402.54h.2M63.9 399.54h.2M72.51 403.93h.2M72.09 391.55h.2M69.91 397.46h.2" stroke="#6070f0" stroke-width="0.6" stroke-linecap="round" fill="none" opacity="0.3"/>
<ellipse cx="138" cy="392.5" rx="7" ry="2.3" fill="#1c22f0" opacity="0.35" filter="url(#bl1)" transform="rotate(0 138 392.5)"/>
<ellipse cx="153.5" cy="395.8" rx="8.3" ry="4.8" fill="#1c22f0" opacity="0.95" filter="url(#bl1)" transform="rotate(20 153.5 395.8)"/>
<path d="M134.14 394.09h.2M158.86 399.52h.2M146.69 396.1h.2M138.31 392.27h.2M155.63 397.85h.2M142.26 392.1h.2M147 394.77h.2M160.95 400.01h.2M159.06 397.35h.2M144.59 390.93h.2M153.47 398.02h.2M134.12 390.56h.2M133.15 391.24h.2M142.66 389.97h.2M137.31 391.77h.2M133.52 394.35h.2M144.52 392.45h.2M134.65 391.24h.2M152.55 395.56h.2M157.37 396.9h.2M140.95 391.44h.2M159.7 400.75h.2M133.96 393.04h.2M131.59 393.07h.2M151.24 391.62h.2M150.95 394.88h.2M138.28 393.85h.2M146.3 392.37h.2M136.77 391.32h.2M140.9 389.93h.2M137.41 391.51h.2M145.71 394.87h.2M155.02 394.56h.2M150.72 395.61h.2M131.43 391.37h.2M133.95 390.85h.2M154.35 398.41h.2M134.2 390.83h.2M141.42 392.52h.2M138.63 392.28h.2M151.73 395.4h.2M136.2 390.77h.2M152.97 394.63h.2M147.69 394.24h.2M135.95 391.63h.2M141.6 395.06h.2M143.05 394.24h.2M142.23 395.67h.2M134.81 388.28h.2M139.49 391.98h.2M147.86 392.66h.2M134.27 391.72h.2M159.78 402.35h.2M128.75 391.83h.2M144.1 394.94h.2M158.46 401.72h.2M136.19 392.11h.2M131.04 389.93h.2M145.81 394.09h.2M143.62 392.2h.2M149.81 393.7h.2M143.07 392.18h.2M157.1 396.61h.2M128.41 392.56h.2M144.75 394.38h.2M150.3 392.25h.2M150.58 397.65h.2M154.13 398.96h.2M159.32 405.13h.2M146.1 395.12h.2M139.23 392.29h.2M145.76 394.1h.2M157.03 398.13h.2M162.69 399.89h.2M145.95 393.47h.2M159.07 397.47h.2M135.63 393.51h.2M150.52 391.56h.2M147.95 393.87h.2M139 390.99h.2M159.03 399.34h.2M159.33 401.86h.2M135.43 389.16h.2M130.77 390.21h.2M159.12 397.63h.2M158.73 401.21h.2M128.56 391.91h.2M149.52 393.1h.2M149.91 395.54h.2M156.26 397.03h.2M138.64 392.97h.2M134.66 395.83h.2M155.1 396.18h.2M130.56 390.31h.2M159.18 396.82h.2M131.11 393.77h.2M158.9 397.74h.2M131.68 392.2h.2M151.25 394.55h.2M136.65 392.51h.2M135.23 389.64h.2M158.19 397.18h.2M146.4 395.83h.2M133.98 392.3h.2M138.01 392.35h.2M148.57 393.65h.2M157.5 396.79h.2M137.83 390.21h.2M135.44 392.33h.2M147.19 394.15h.2M153.22 395.63h.2M135.3 392.64h.2M151.59 393.67h.2M150.76 393.21h.2M146.76 392.82h.2M141.87 393.71h.2M146.2 395.12h.2M128.96 390.88h.2M131.44 392.17h.2M153.23 393.23h.2M159.59 399.61h.2M155 397.39h.2M133.17 394.78h.2M139.82 395.19h.2M152.29 397.51h.2M141.32 392.84h.2M142.96 391.78h.2M149.77 392.71h.2M143.3 392.17h.2M160.55 402.55h.2M139.71 394.12h.2M136.37 393.39h.2M144.09 392.46h.2M148.36 391.96h.2M140.78 392.78h.2M161.28 400.76h.2M149.57 391.66h.2M160.6 395.75h.2M146.94 392.52h.2M156.95 397.51h.2M151.6 393.24h.2M159.23 399.2h.2M157.89 395.4h.2M129.09 392.22h.2M142.83 391.21h.2M152.96 396.49h.2M148.4 396.28h.2M152.81 393.49h.2M144.31 393.2h.2M132.89 393.84h.2M142.06 392.43h.2M150.4 396.78h.2M152.47 395.3h.2M135.77 392.56h.2M144.11 391.25h.2M127.79 393.43h.2M150.85 393.98h.2M157.88 397.76h.2M154.28 396.37h.2M133.66 393.06h.2M136.34 393.02h.2M132.1 392.59h.2M147.65 394.21h.2M156.15 394.36h.2M143.21 392.87h.2M147.2 393.33h.2M149.15 393.83h.2M155.6 396.57h.2M151.68 392.71h.2M135.18 392.09h.2M152.85 398.57h.2M134.63 391.93h.2M141.65 393.24h.2M142.1 394.05h.2M140.53 392.47h.2M159.46 398.02h.2M159.16 403.03h.2M137.42 390.8h.2M136.84 392.37h.2M135.81 392.91h.2M137.04 392.3h.2M147.03 395.52h.2M159.3 401.09h.2M141.58 393.17h.2M155.03 394.67h.2M149.77 393.63h.2M152.89 395.57h.2M157.02 397.33h.2M156.22 394.2h.2M156.87 400.54h.2M157.38 396.95h.2M152.72 394.87h.2M155.96 398.46h.2M150.53 391.8h.2M148.68 396.54h.2M148.47 395.65h.2M139 392.76h.2M135.44 392.92h.2M154.47 397.45h.2M136.98 390.88h.2M157.31 392.27h.2M143.72 391h.2M150.75 394.09h.2M150.77 396.05h.2M153.28 393.99h.2M150.91 397.06h.2M157.29 400.25h.2M160.37 387.96h.2M149.33 393.46h.2M156.34 391.86h.2M160.09 399.35h.2M150.63 395.47h.2M152.87 393.34h.2M156.56 395.66h.2M147.74 391.87h.2M154.29 392.83h.2M160.77 395.16h.2M161.06 401.6h.2M149.17 394.84h.2M159.48 397.57h.2M148.01 394.36h.2M164.61 395.29h.2M156.33 397.07h.2M153.59 394.8h.2M151.18 398.48h.2M157.57 394.31h.2M162.4 395.12h.2M156.68 397.76h.2M159.02 399.17h.2M158.74 397.85h.2M157.97 398.75h.2M164.57 397.83h.2M158.9 399.47h.2M155.17 394.83h.2M157.38 392.74h.2M146.61 395.8h.2M144.99 397.52h.2M152.22 396.37h.2M153.69 397.45h.2M152.84 394.62h.2M152.11 398.88h.2M157.79 401.67h.2M155.7 396.2h.2M145.23 395.08h.2M158.14 396.44h.2M156.25 401.16h.2M153.14 399.29h.2M157.01 391.78h.2M151.98 394.18h.2M157.15 394.62h.2M152.71 392.68h.2M153.53 396.28h.2M157.54 400.06h.2M154.31 397.11h.2M154.18 396.65h.2M163.6 391.78h.2M152.64 396.73h.2M160.21 395h.2M154.53 399.17h.2M153.65 390.01h.2M153.32 392.15h.2M157.71 394.86h.2M162 399.59h.2M150.52 393.35h.2M148.25 395.38h.2M161.01 398.09h.2M159.1 395.07h.2M152.87 403.17h.2M145.91 397.22h.2M161.23 392.86h.2M148.05 390.94h.2M158.77 396.6h.2M152.27 397.86h.2M154.1 396.99h.2M151.12 398.77h.2M148.41 399.54h.2M153.01 393.32h.2M156.35 398.52h.2M144.25 393.38h.2M148.28 391.49h.2M158.36 395.05h.2M155.83 395.67h.2M162.95 399.17h.2M149.38 391h.2M149.38 394.93h.2M152.75 398.85h.2M154.41 396.76h.2M155.41 396.3h.2M154.32 398.81h.2M157.99 395.9h.2M146.27 390.8h.2M157.62 389.56h.2M151.04 396.54h.2M152.23 391.97h.2M160.55 402.99h.2M151.16 399.37h.2M160.98 395.11h.2M167.28 398.01h.2M153.61 392.53h.2M155.43 392.49h.2M152.57 399.1h.2M154.98 395.67h.2M161.89 396.17h.2M158.56 396.85h.2M154.68 396.5h.2M154.35 396.1h.2M150.6 393.09h.2M155.87 396.48h.2M148.94 392.04h.2M150.48 394.67h.2M154.41 396.57h.2M150.57 394.93h.2M150.19 385.52h.2M155.09 391.23h.2M150.44 390.96h.2M157.83 393.63h.2M155.43 395.05h.2M149.43 389.39h.2M155.39 397.81h.2M155.36 402.41h.2M154.59 397.17h.2M152.9 395.99h.2M152.85 392.78h.2M164.85 394.05h.2M154.31 397.56h.2M155.25 393.42h.2M153.13 394.23h.2M148.55 393.88h.2M152.19 393.59h.2M157.83 394.01h.2M156.22 394.85h.2M155.45 396.74h.2M155.64 393.46h.2M150.74 392.06h.2M153.54 398.19h.2M159.07 396.22h.2M155.54 391.37h.2M143.96 389.55h.2M151.94 390.26h.2M144.58 394.23h.2M151.42 389.65h.2M164.17 400.19h.2M151.27 397.1h.2M148.26 398.9h.2M147.56 389.42h.2M153.57 393.32h.2M161.67 393.6h.2M149.75 395.12h.2M155.02 399.46h.2M152.76 402.46h.2M151 395.35h.2M157.72 396.23h.2M152.49 393.85h.2M151.52 391.38h.2M152.36 390.34h.2M156.77 391.81h.2M161.29 403.92h.2M158.74 396.91h.2M149.35 398.05h.2M153.62 397.49h.2M148.88 397.37h.2M149.48 394.53h.2M145.9 390.8h.2M156.13 395.18h.2M150.43 397.04h.2M151.71 398.94h.2M141.43 393.05h.2M157.27 392.1h.2M146.34 395.82h.2M148.97 391.96h.2M156.45 395.65h.2M156.43 393.94h.2M153.59 399.11h.2M157.07 389.95h.2M156.29 396.83h.2M147.64 397.93h.2M143.23 397.85h.2M148.74 398.9h.2M154.45 391.75h.2M153.41 396.65h.2M154.75 399.46h.2M148.6 395.41h.2M157.03 396.05h.2M149.9 391.28h.2M155.99 399.07h.2M150.79 390.38h.2M160.68 393.3h.2M154.87 393.56h.2M144.96 392.91h.2M150.94 399.26h.2M164.11 398.89h.2M157.02 400.23h.2M151.73 392.22h.2M161.2 397.26h.2M153.47 394.69h.2M153.29 393.63h.2M155.51 400.34h.2M152.96 391.04h.2M155.05 391.46h.2M149.05 397.91h.2" stroke="#1c22f0" stroke-width="0.7" stroke-linecap="round" fill="none" opacity="0.55"/>
<path d="M168.28 404.23h.2M137.95 407.04h.2M127.38 396.77h.2M161.14 406.8h.2M135.13 390.02h.2M155.15 401.28h.2M142.18 404.48h.2M142.35 388.22h.2M154.74 397.09h.2M138.51 392.32h.2M149.73 396h.2M153.09 399.75h.2M157.17 398.92h.2M141.64 387.89h.2M137.66 406.63h.2M174.86 392.89h.2M138.21 403.96h.2M151.77 396.9h.2M148.2 390.41h.2M144.83 407.89h.2M162.14 400.45h.2M145.18 404.77h.2M157.42 405.01h.2M140.78 404.1h.2M156.17 396.65h.2M135.55 405.17h.2M150.79 408.35h.2M148.31 397.14h.2M143.6 394.46h.2M139.04 397.72h.2M143.2 409.39h.2M136.55 401.3h.2M142.26 412h.2M149.89 399.04h.2M154.84 402.11h.2M143.29 412.34h.2M153.92 413.7h.2M157.92 407.06h.2M148.75 394.12h.2M153.92 402.18h.2M153.63 401.62h.2M141.41 394.68h.2M153.85 410.68h.2M145.02 404.85h.2M159.98 395.89h.2M144.56 393.91h.2M158.16 403.52h.2M143.49 390.19h.2M146.01 408.65h.2M144.98 398.76h.2" stroke="#6070f0" stroke-width="0.6" stroke-linecap="round" fill="none" opacity="0.3"/>
<rect x="41.8" y="244.6" width="66.4" height="59.1" fill="none" stroke="#222" stroke-width="1.3"/>
<rect x="112.7" y="244.6" width="65.9" height="59.1" fill="none" stroke="#222" stroke-width="1.3"/>
<rect x="41.8" y="308.3" width="66.4" height="58.1" fill="none" stroke="#222" stroke-width="1.3"/>
<rect x="112.7" y="308.3" width="65.9" height="58.1" fill="none" stroke="#222" stroke-width="1.3"/>
<rect x="41.8" y="370.5" width="66.4" height="58.3" fill="none" stroke="#222" stroke-width="1.3"/>
<rect x="112.7" y="370.5" width="65.9" height="58.3" fill="none" stroke="#222" stroke-width="1.3"/>
<text x="75" y="239.2" font-size="9.2" text-anchor="middle">D7</text>
<text x="145.6" y="239.2" font-size="9.2" text-anchor="middle">D13</text>
<text x="196" y="271.9" font-size="8.8" text-anchor="middle">Lucif</text>
<text x="196.2" y="282.4" font-size="8.8" text-anchor="middle">shRNA</text>
<text x="183.4" y="337.1" font-size="8.8">p19</text>
<text x="198" y="332.8" font-size="5.9" textLength="17.2" lengthAdjust="spacingAndGlyphs">INK4d</text>
<text x="182.6" y="348.2" font-size="8.8" textLength="35.6" lengthAdjust="spacingAndGlyphs">shRNA-1</text>
<text x="183.4" y="399.5" font-size="8.8">p19</text>
<text x="198" y="395.2" font-size="5.9" textLength="17.2" lengthAdjust="spacingAndGlyphs">INK4d</text>
<text x="182.6" y="410.6" font-size="8.8" textLength="35.6" lengthAdjust="spacingAndGlyphs">shRNA-2</text>
<text x="31.4" y="427.4" font-size="10" textLength="48.8" lengthAdjust="spacingAndGlyphs" transform="rotate(-90 31.4 427.4)" stroke="#1a1a1a" stroke-width="0.15">α4-integrin</text>
<line x1="27.7" y1="360.5" x2="27.7" y2="316.5" stroke="#1a1a1a" stroke-width="1.2"/>
<path d="M27.7 311.4L25.2 317L30.2 317Z" fill="#1a1a1a"/>
<text x="48.3" y="446.3" font-size="11.6" textLength="28" lengthAdjust="spacingAndGlyphs">Band3</text>
<line x1="82.7" y1="442.5" x2="132.2" y2="442.5" stroke="#1a1a1a" stroke-width="1.2"/>
<path d="M137.3 442.5L131.7 440L131.7 445Z" fill="#1a1a1a"/>
<line x1="286" y1="234.8" x2="286" y2="391.5" stroke="#0a0a0a" stroke-width="1.7"/>
<line x1="285.2" y1="390.7" x2="481.6" y2="390.7" stroke="#0a0a0a" stroke-width="1.7"/>
<line x1="282.2" y1="390.7" x2="286" y2="390.7" stroke="#111" stroke-width="1.2"/>
<text x="279" y="394.2" font-size="9.6" text-anchor="end" fill="#222" textLength="4.9" lengthAdjust="spacingAndGlyphs" stroke="#222" stroke-width="0.16">0</text>
<line x1="282.2" y1="360.22" x2="286" y2="360.22" stroke="#111" stroke-width="1.2"/>
<text x="279" y="363.72" font-size="9.6" text-anchor="end" fill="#222" textLength="4.9" lengthAdjust="spacingAndGlyphs" stroke="#222" stroke-width="0.16">2</text>
<line x1="282.2" y1="329.74" x2="286" y2="329.74" stroke="#111" stroke-width="1.2"/>
<text x="279" y="333.24" font-size="9.6" text-anchor="end" fill="#222" textLength="4.9" lengthAdjust="spacingAndGlyphs" stroke="#222" stroke-width="0.16">4</text>
<line x1="282.2" y1="299.26" x2="286" y2="299.26" stroke="#111" stroke-width="1.2"/>
<text x="279" y="302.76" font-size="9.6" text-anchor="end" fill="#222" textLength="4.9" lengthAdjust="spacingAndGlyphs" stroke="#222" stroke-width="0.16">6</text>
<line x1="282.2" y1="268.78" x2="286" y2="268.78" stroke="#111" stroke-width="1.2"/>
<text x="279" y="272.28" font-size="9.6" text-anchor="end" fill="#222" textLength="4.9" lengthAdjust="spacingAndGlyphs" stroke="#222" stroke-width="0.16">8</text>
<line x1="282.2" y1="238.3" x2="286" y2="238.3" stroke="#111" stroke-width="1.2"/>
<text x="279" y="241.8" font-size="9.6" text-anchor="end" fill="#222" textLength="9.4" lengthAdjust="spacingAndGlyphs" stroke="#222" stroke-width="0.16">10</text>
<line x1="305.5" y1="390.7" x2="305.5" y2="394.3" stroke="#111" stroke-width="1.2"/>
<text x="305.5" y="406.1" font-size="9.2" text-anchor="middle" fill="#222" stroke="#222" stroke-width="0.16">D7</text>
<line x1="344.4" y1="390.7" x2="344.4" y2="394.3" stroke="#111" stroke-width="1.2"/>
<text x="344.4" y="406.1" font-size="9.2" text-anchor="middle" fill="#222" stroke="#222" stroke-width="0.16">D9</text>
<line x1="383.3" y1="390.7" x2="383.3" y2="394.3" stroke="#111" stroke-width="1.2"/>
<text x="383.3" y="406.1" font-size="9.2" text-anchor="middle" fill="#222" stroke="#222" stroke-width="0.16">D11</text>
<line x1="422.3" y1="390.7" x2="422.3" y2="394.3" stroke="#111" stroke-width="1.2"/>
<text x="422.3" y="406.1" font-size="9.2" text-anchor="middle" fill="#222" stroke="#222" stroke-width="0.16">D13</text>
<line x1="461.2" y1="390.7" x2="461.2" y2="394.3" stroke="#111" stroke-width="1.2"/>
<text x="461.2" y="406.1" font-size="9.2" text-anchor="middle" fill="#222" stroke="#222" stroke-width="0.16">D15</text>
<text x="262.2" y="355.8" font-size="10" fill="#222" textLength="77.5" lengthAdjust="spacingAndGlyphs" transform="rotate(-90 262.2 355.8)" stroke="#222" stroke-width="0.16">Cell number (*10</text>
<text x="259.3" y="278.2" font-size="7.2" fill="#222" transform="rotate(-90 259.3 278.2)">6</text>
<text x="262.2" y="274" font-size="10" fill="#222" transform="rotate(-90 262.2 274)" stroke="#222" stroke-width="0.16">)</text>
<line x1="383.3" y1="325.17" x2="383.3" y2="334.77" stroke="#ab1340" stroke-width="1.3"/>
<line x1="380.1" y1="325.17" x2="386.5" y2="325.17" stroke="#ab1340" stroke-width="1.3"/>
<line x1="380.1" y1="334.77" x2="386.5" y2="334.77" stroke="#ab1340" stroke-width="1.3"/>
<line x1="422.3" y1="259.03" x2="422.3" y2="271.52" stroke="#ab1340" stroke-width="1.3"/>
<line x1="419.1" y1="259.03" x2="425.5" y2="259.03" stroke="#ab1340" stroke-width="1.3"/>
<line x1="419.1" y1="271.52" x2="425.5" y2="271.52" stroke="#ab1340" stroke-width="1.3"/>
<line x1="461.2" y1="252.47" x2="461.2" y2="276.86" stroke="#ab1340" stroke-width="1.3"/>
<line x1="458" y1="252.47" x2="464.4" y2="252.47" stroke="#ab1340" stroke-width="1.3"/>
<line x1="458" y1="276.86" x2="464.4" y2="276.86" stroke="#ab1340" stroke-width="1.3"/>
<line x1="461.2" y1="326.69" x2="461.2" y2="334.01" stroke="#2d5190" stroke-width="1.3"/>
<line x1="458" y1="326.69" x2="464.4" y2="326.69" stroke="#2d5190" stroke-width="1.3"/>
<line x1="458" y1="334.01" x2="464.4" y2="334.01" stroke="#2d5190" stroke-width="1.3"/>
<line x1="422.3" y1="338.88" x2="422.3" y2="341.93" stroke="#2d5190" stroke-width="1.3"/>
<line x1="419.1" y1="338.88" x2="425.5" y2="338.88" stroke="#2d5190" stroke-width="1.3"/>
<line x1="419.1" y1="341.93" x2="425.5" y2="341.93" stroke="#2d5190" stroke-width="1.3"/>
<line x1="422.3" y1="326.69" x2="422.3" y2="333.09" stroke="#74b44a" stroke-width="1.3"/>
<line x1="419.1" y1="326.69" x2="425.5" y2="326.69" stroke="#74b44a" stroke-width="1.3"/>
<line x1="419.1" y1="333.09" x2="425.5" y2="333.09" stroke="#74b44a" stroke-width="1.3"/>
<line x1="461.2" y1="318.31" x2="461.2" y2="321.36" stroke="#74b44a" stroke-width="1.3"/>
<line x1="458" y1="318.31" x2="464.4" y2="318.31" stroke="#74b44a" stroke-width="1.3"/>
<line x1="458" y1="321.36" x2="464.4" y2="321.36" stroke="#74b44a" stroke-width="1.3"/>
<path d="M305.5 388.41 L344.4 372.41 L383.3 334.77 L422.3 265.27 L461.2 264.21" stroke="#ab1340" stroke-width="1.7" fill="none" stroke-linejoin="round"/>
<path d="M305.5 388.41 L344.4 371.95 L383.3 343.91 L422.3 338.88 L461.2 326.69" stroke="#2d5190" stroke-width="1.7" fill="none" stroke-linejoin="round"/>
<path d="M305.5 388.87 L344.4 379.27 L383.3 350.01 L422.3 333.09 L461.2 321.36" stroke="#74b44a" stroke-width="1.7" fill="none" stroke-linejoin="round"/>
<circle cx="305.5" cy="388.41" r="3" fill="#ab1340"/>
<circle cx="344.4" cy="372.41" r="3" fill="#ab1340"/>
<circle cx="383.3" cy="334.77" r="3" fill="#ab1340"/>
<circle cx="422.3" cy="265.27" r="3" fill="#ab1340"/>
<circle cx="461.2" cy="264.21" r="3" fill="#ab1340"/>
<rect x="302.7" y="385.61" width="5.6" height="5.6" fill="#2d5190"/>
<rect x="341.6" y="369.15" width="5.6" height="5.6" fill="#2d5190"/>
<rect x="380.5" y="341.11" width="5.6" height="5.6" fill="#2d5190"/>
<rect x="419.5" y="336.08" width="5.6" height="5.6" fill="#2d5190"/>
<rect x="458.4" y="323.89" width="5.6" height="5.6" fill="#2d5190"/>
<path d="M305.5 385.53L302.3 391.1L308.7 391.1Z" fill="#74b44a"/>
<path d="M344.4 375.93L341.2 381.5L347.6 381.5Z" fill="#74b44a"/>
<path d="M383.3 346.67L380.1 352.24L386.5 352.24Z" fill="#74b44a"/>
<path d="M422.3 329.75L419.1 335.32L425.5 335.32Z" fill="#74b44a"/>
<path d="M461.2 318.02L458 323.59L464.4 323.59Z" fill="#74b44a"/>
<circle cx="422.1" cy="321.3" r="1.35" fill="#111"/>
<circle cx="460.9" cy="313.8" r="1.35" fill="#111"/>
<line x1="295.9" y1="238.3" x2="310.2" y2="238.3" stroke="#ab1340" stroke-width="1.8"/>
<circle cx="303.1" cy="238.3" r="2.8" fill="#ab1340"/>
<line x1="295.9" y1="253.6" x2="310.2" y2="253.6" stroke="#2d5190" stroke-width="1.8"/>
<rect x="300.5" y="251" width="5.2" height="5.2" fill="#2d5190"/>
<line x1="295.9" y1="268.6" x2="310.2" y2="268.6" stroke="#74b44a" stroke-width="1.8"/>
<path d="M303.1 265.47L300.1 270.69L306.1 270.69Z" fill="#74b44a"/>
<text x="314.8" y="241.6" font-size="9" textLength="48.3" lengthAdjust="spacingAndGlyphs" stroke="#1a1a1a" stroke-width="0.16">Lucif shRNA</text>
<text x="314.8" y="256.9" font-size="9" textLength="14.2" lengthAdjust="spacingAndGlyphs" stroke="#1a1a1a" stroke-width="0.16">p19</text>
<text x="329.2" y="252.8" font-size="5.8" textLength="17.8" lengthAdjust="spacingAndGlyphs">INK4d</text>
<text x="348.8" y="256.9" font-size="9" textLength="34.5" lengthAdjust="spacingAndGlyphs" stroke="#1a1a1a" stroke-width="0.16">shRNA-1</text>
<text x="314.8" y="271.9" font-size="9" textLength="14.2" lengthAdjust="spacingAndGlyphs" stroke="#1a1a1a" stroke-width="0.16">p19</text>
<text x="329.2" y="267.8" font-size="5.8" textLength="17.8" lengthAdjust="spacingAndGlyphs">INK4d</text>
<text x="348.8" y="271.9" font-size="9" textLength="34.5" lengthAdjust="spacingAndGlyphs" stroke="#1a1a1a" stroke-width="0.16">shRNA-2</text>
<rect x="64.6" y="512.05" width="19.3" height="4.26" fill="#6eb43f"/>
<rect x="64.6" y="516.31" width="19.3" height="65.27" fill="#2e5091"/>
<rect x="64.6" y="581.58" width="19.3" height="42.62" fill="#b1062f"/>
<line x1="74.25" y1="576.87" x2="74.25" y2="582.38" stroke="#111" stroke-width="1.3"/>
<line x1="69.95" y1="576.87" x2="78.55" y2="576.87" stroke="#111" stroke-width="1.4"/>
<line x1="69.95" y1="516.31" x2="78.55" y2="516.31" stroke="#111" stroke-width="1.4"/>
<line x1="74.25" y1="510.7" x2="74.25" y2="512.85" stroke="#111" stroke-width="1.3"/>
<line x1="69.95" y1="510.7" x2="78.55" y2="510.7" stroke="#111" stroke-width="1.4"/>
<rect x="93.05" y="512.05" width="19.3" height="5.61" fill="#6eb43f"/>
<rect x="93.05" y="517.66" width="19.3" height="63.59" fill="#2e5091"/>
<rect x="93.05" y="581.25" width="19.3" height="42.95" fill="#b1062f"/>
<line x1="102.7" y1="577.43" x2="102.7" y2="582.05" stroke="#111" stroke-width="1.3"/>
<line x1="98.4" y1="577.43" x2="107" y2="577.43" stroke="#111" stroke-width="1.4"/>
<line x1="98.4" y1="517.66" x2="107" y2="517.66" stroke="#111" stroke-width="1.4"/>
<line x1="102.7" y1="511.49" x2="102.7" y2="512.85" stroke="#111" stroke-width="1.3"/>
<line x1="98.4" y1="511.49" x2="107" y2="511.49" stroke="#111" stroke-width="1.4"/>
<rect x="121.5" y="512.05" width="19.3" height="2.92" fill="#6eb43f"/>
<rect x="121.5" y="514.97" width="19.3" height="64.04" fill="#2e5091"/>
<rect x="121.5" y="579" width="19.3" height="45.2" fill="#b1062f"/>
<line x1="131.15" y1="577.88" x2="131.15" y2="579.8" stroke="#111" stroke-width="1.3"/>
<line x1="126.85" y1="577.88" x2="135.45" y2="577.88" stroke="#111" stroke-width="1.4"/>
<line x1="126.85" y1="514.97" x2="135.45" y2="514.97" stroke="#111" stroke-width="1.4"/>
<line x1="131.15" y1="511.38" x2="131.15" y2="512.85" stroke="#111" stroke-width="1.3"/>
<line x1="126.85" y1="511.38" x2="135.45" y2="511.38" stroke="#111" stroke-width="1.4"/>
<rect x="149.95" y="512.05" width="19.3" height="6.95" fill="#6eb43f"/>
<rect x="149.95" y="519" width="19.3" height="36.79" fill="#2e5091"/>
<rect x="149.95" y="555.79" width="19.3" height="68.41" fill="#b1062f"/>
<line x1="159.6" y1="554.22" x2="159.6" y2="556.59" stroke="#111" stroke-width="1.3"/>
<line x1="155.3" y1="554.22" x2="163.9" y2="554.22" stroke="#111" stroke-width="1.4"/>
<line x1="159.6" y1="518.55" x2="159.6" y2="519.8" stroke="#111" stroke-width="1.3"/>
<line x1="155.3" y1="518.55" x2="163.9" y2="518.55" stroke="#111" stroke-width="1.4"/>
<line x1="159.6" y1="508.12" x2="159.6" y2="512.85" stroke="#111" stroke-width="1.3"/>
<line x1="155.3" y1="508.12" x2="163.9" y2="508.12" stroke="#111" stroke-width="1.4"/>
<rect x="178.4" y="512.05" width="19.3" height="8.97" fill="#6eb43f"/>
<rect x="178.4" y="521.02" width="19.3" height="36" fill="#2e5091"/>
<rect x="178.4" y="557.02" width="19.3" height="67.18" fill="#b1062f"/>
<line x1="188.05" y1="554.78" x2="188.05" y2="557.82" stroke="#111" stroke-width="1.3"/>
<line x1="183.75" y1="554.78" x2="192.35" y2="554.78" stroke="#111" stroke-width="1.4"/>
<line x1="188.05" y1="520.46" x2="188.05" y2="521.82" stroke="#111" stroke-width="1.3"/>
<line x1="183.75" y1="520.46" x2="192.35" y2="520.46" stroke="#111" stroke-width="1.4"/>
<line x1="183.75" y1="511.71" x2="192.35" y2="511.71" stroke="#111" stroke-width="1.4"/>
<rect x="206.85" y="512.05" width="19.3" height="7.85" fill="#6eb43f"/>
<rect x="206.85" y="519.9" width="19.3" height="37.01" fill="#2e5091"/>
<rect x="206.85" y="556.91" width="19.3" height="67.29" fill="#b1062f"/>
<line x1="216.5" y1="556.24" x2="216.5" y2="557.71" stroke="#111" stroke-width="1.3"/>
<line x1="212.2" y1="556.24" x2="220.8" y2="556.24" stroke="#111" stroke-width="1.4"/>
<line x1="216.5" y1="519.45" x2="216.5" y2="520.7" stroke="#111" stroke-width="1.3"/>
<line x1="212.2" y1="519.45" x2="220.8" y2="519.45" stroke="#111" stroke-width="1.4"/>
<line x1="212.2" y1="511.71" x2="220.8" y2="511.71" stroke="#111" stroke-width="1.4"/>
<line x1="60.6" y1="488.8" x2="60.6" y2="625" stroke="#0a0a0a" stroke-width="1.6"/>
<line x1="59.8" y1="624.2" x2="230.5" y2="624.2" stroke="#0a0a0a" stroke-width="1.6"/>
<line x1="56.8" y1="624.2" x2="60.6" y2="624.2" stroke="#111" stroke-width="1.2"/>
<text x="52.9" y="627.6" font-size="9.4" text-anchor="end" fill="#222" stroke="#222" stroke-width="0.16">0</text>
<line x1="56.8" y1="601.77" x2="60.6" y2="601.77" stroke="#111" stroke-width="1.2"/>
<text x="52.9" y="605.17" font-size="9.4" text-anchor="end" fill="#222" stroke="#222" stroke-width="0.16">20</text>
<line x1="56.8" y1="579.34" x2="60.6" y2="579.34" stroke="#111" stroke-width="1.2"/>
<text x="52.9" y="582.74" font-size="9.4" text-anchor="end" fill="#222" stroke="#222" stroke-width="0.16">40</text>
<line x1="56.8" y1="556.91" x2="60.6" y2="556.91" stroke="#111" stroke-width="1.2"/>
<text x="52.9" y="560.31" font-size="9.4" text-anchor="end" fill="#222" stroke="#222" stroke-width="0.16">60</text>
<line x1="56.8" y1="534.48" x2="60.6" y2="534.48" stroke="#111" stroke-width="1.2"/>
<text x="52.9" y="537.88" font-size="9.4" text-anchor="end" fill="#222" stroke="#222" stroke-width="0.16">80</text>
<line x1="56.8" y1="512.05" x2="60.6" y2="512.05" stroke="#111" stroke-width="1.2"/>
<text x="52.9" y="515.45" font-size="9.4" text-anchor="end" fill="#222" stroke="#222" stroke-width="0.16">100</text>
<line x1="56.8" y1="489.62" x2="60.6" y2="489.62" stroke="#111" stroke-width="1.2"/>
<text x="52.9" y="493.02" font-size="9.4" text-anchor="end" fill="#222" stroke="#222" stroke-width="0.16">120</text>
<line x1="74.25" y1="624.2" x2="74.25" y2="627.8" stroke="#111" stroke-width="1.2"/>
<line x1="102.7" y1="624.2" x2="102.7" y2="627.8" stroke="#111" stroke-width="1.2"/>
<line x1="131.15" y1="624.2" x2="131.15" y2="627.8" stroke="#111" stroke-width="1.2"/>
<line x1="159.6" y1="624.2" x2="159.6" y2="627.8" stroke="#111" stroke-width="1.2"/>
<line x1="188.05" y1="624.2" x2="188.05" y2="627.8" stroke="#111" stroke-width="1.2"/>
<line x1="216.5" y1="624.2" x2="216.5" y2="627.8" stroke="#111" stroke-width="1.2"/>
<text x="31.4" y="611.2" font-size="10.4" fill="#222" textLength="111.8" lengthAdjust="spacingAndGlyphs" transform="rotate(-90 31.4 611.2)" stroke="#222" stroke-width="0.16">Cell cycle distribution (%)</text>
<rect x="67.2" y="490.4" width="11.9" height="5.3" fill="#b1062f"/>
<text x="81.6" y="495.6" font-size="9" textLength="25.8" lengthAdjust="spacingAndGlyphs" stroke="#1a1a1a" stroke-width="0.16">G0/G1</text>
<rect x="128.6" y="490.4" width="11.9" height="5.3" fill="#2e5091"/>
<text x="143.4" y="495.6" font-size="9" stroke="#1a1a1a" stroke-width="0.16">S</text>
<rect x="170.2" y="490.4" width="11.9" height="5.3" fill="#6eb43f"/>
<text x="184.7" y="495.6" font-size="9" textLength="21.3" lengthAdjust="spacingAndGlyphs" stroke="#1a1a1a" stroke-width="0.16">G2/M</text>
<text x="77.85" y="631" font-size="9.3" text-anchor="end" fill="#222" textLength="52.3" lengthAdjust="spacingAndGlyphs" transform="rotate(-90 77.85 631)" stroke="#222" stroke-width="0.16">Lucif shRNA</text>
<text x="106.3" y="632.4" font-size="9.3" text-anchor="end" fill="#222" textLength="36.6" lengthAdjust="spacingAndGlyphs" transform="rotate(-90 106.3 632.4)" stroke="#222" stroke-width="0.16">shRNA-1</text>
<text x="102.5" y="671.3" font-size="6.9" text-anchor="end" fill="#222" textLength="18" lengthAdjust="spacingAndGlyphs" transform="rotate(-90 102.5 671.3)">INK4d</text>
<text x="106.3" y="689.6" font-size="9.6" text-anchor="end" fill="#222" textLength="17" lengthAdjust="spacingAndGlyphs" transform="rotate(-90 106.3 689.6)" stroke="#222" stroke-width="0.16">p19</text>
<text x="134.75" y="632.4" font-size="9.3" text-anchor="end" fill="#222" textLength="36.6" lengthAdjust="spacingAndGlyphs" transform="rotate(-90 134.75 632.4)" stroke="#222" stroke-width="0.16">shRNA-2</text>
<text x="130.95" y="671.3" font-size="6.9" text-anchor="end" fill="#222" textLength="18" lengthAdjust="spacingAndGlyphs" transform="rotate(-90 130.95 671.3)">INK4d</text>
<text x="134.75" y="689.6" font-size="9.6" text-anchor="end" fill="#222" textLength="17" lengthAdjust="spacingAndGlyphs" transform="rotate(-90 134.75 689.6)" stroke="#222" stroke-width="0.16">p19</text>
<text x="163.2" y="631" font-size="9.3" text-anchor="end" fill="#222" textLength="52.3" lengthAdjust="spacingAndGlyphs" transform="rotate(-90 163.2 631)" stroke="#222" stroke-width="0.16">Lucif shRNA</text>
<text x="191.65" y="632.4" font-size="9.3" text-anchor="end" fill="#222" textLength="36.6" lengthAdjust="spacingAndGlyphs" transform="rotate(-90 191.65 632.4)" stroke="#222" stroke-width="0.16">shRNA-1</text>
<text x="187.85" y="671.3" font-size="6.9" text-anchor="end" fill="#222" textLength="18" lengthAdjust="spacingAndGlyphs" transform="rotate(-90 187.85 671.3)">INK4d</text>
<text x="191.65" y="689.6" font-size="9.6" text-anchor="end" fill="#222" textLength="17" lengthAdjust="spacingAndGlyphs" transform="rotate(-90 191.65 689.6)" stroke="#222" stroke-width="0.16">p19</text>
<text x="220.1" y="632.4" font-size="9.3" text-anchor="end" fill="#222" textLength="36.6" lengthAdjust="spacingAndGlyphs" transform="rotate(-90 220.1 632.4)" stroke="#222" stroke-width="0.16">shRNA-2</text>
<text x="216.3" y="671.3" font-size="6.9" text-anchor="end" fill="#222" textLength="18" lengthAdjust="spacingAndGlyphs" transform="rotate(-90 216.3 671.3)">INK4d</text>
<text x="220.1" y="689.6" font-size="9.6" text-anchor="end" fill="#222" textLength="17" lengthAdjust="spacingAndGlyphs" transform="rotate(-90 220.1 689.6)" stroke="#222" stroke-width="0.16">p19</text>
<line x1="64.2" y1="713.8" x2="139.5" y2="713.8" stroke="#333" stroke-width="1.5"/>
<line x1="149" y1="713.8" x2="225.2" y2="713.8" stroke="#333" stroke-width="1.5"/>
<text x="101.6" y="728.2" font-size="11.2" text-anchor="middle" fill="#222" textLength="10.8" lengthAdjust="spacingAndGlyphs" stroke="#222" stroke-width="0.16">D7</text>
<text x="186.6" y="728.2" font-size="11.2" text-anchor="middle" fill="#222" textLength="17.6" lengthAdjust="spacingAndGlyphs" stroke="#222" stroke-width="0.16">D13</text>
<defs><filter id="bl3" x="-50%" y="-50%" width="200%" height="200%"><feGaussianBlur stdDeviation="1.2"/></filter><filter id="bl4" x="-50%" y="-50%" width="200%" height="200%"><feGaussianBlur stdDeviation="0.7"/></filter><clipPath id="ec00"><rect x="278.6" y="510.8" width="59.2" height="53.9"/></clipPath><clipPath id="ec01"><rect x="343.3" y="510.8" width="58.2" height="53.9"/></clipPath><clipPath id="ec02"><rect x="407.3" y="510.8" width="59" height="53.9"/></clipPath><clipPath id="ec10"><rect x="278.6" y="567.5" width="59.2" height="54.1"/></clipPath><clipPath id="ec11"><rect x="343.3" y="567.5" width="58.2" height="54.1"/></clipPath><clipPath id="ec12"><rect x="407.3" y="567.5" width="59" height="54.1"/></clipPath></defs>
<g clip-path="url(#ec00)">
<ellipse cx="295.3" cy="559.6" rx="16.7" ry="8.8" fill="#1f2fd8" opacity="0.75" filter="url(#bl3)" transform="rotate(0 295.3 559.6)"/>
<path d="M301.85 551.64h.3M295.42 561.65h.3M286.34 553.85h.3M297.57 557.84h.3M292.29 559.52h.3M297.3 553.33h.3M287.6 560.84h.3M303.18 558.23h.3M300.23 562.93h.3M314.42 552.65h.3M301.47 557.65h.3M303.86 552.88h.3M291.84 559.66h.3M279.53 563.13h.3M294.12 559.31h.3M295.35 556.48h.3M313.9 555.7h.3M289.24 550.87h.3M306.73 559.91h.3M300.1 559.34h.3M293.49 554.16h.3M286.47 560.79h.3M286.71 555.79h.3M281.57 562.64h.3M310.64 557.68h.3M302.88 546.87h.3M290.79 549.43h.3M296.87 558.5h.3M286.63 563.59h.3M298.87 555.61h.3M289.43 550.46h.3M287.28 560.74h.3M289.05 562.83h.3M299.8 557.19h.3M308.07 557.13h.3M301.86 555.85h.3M298.51 555.32h.3M291 560.04h.3M288.59 560.35h.3M292.82 545.65h.3M293.47 555.22h.3M285.94 560.66h.3M289.73 561.4h.3M306.93 559.25h.3M304.97 557.07h.3M286.28 557.99h.3M300.53 559.89h.3M302.08 554h.3M292.08 557.11h.3M294.83 547.09h.3M292.5 551.19h.3M313.35 562.89h.3M289.8 563.71h.3M292.9 561.82h.3M285.28 555.3h.3M325.07 551.53h.3M294.81 553.33h.3M293.6 555.6h.3M294.38 563.75h.3M305.33 559.92h.3M295.15 559.16h.3M296.5 561.63h.3M295.18 561.25h.3M280.89 562.83h.3M314.14 559.51h.3M291.56 542.26h.3M292.77 561.82h.3M301.9 559.2h.3M297.1 562.21h.3M283.98 555.2h.3M300.27 548.14h.3M297.9 555.92h.3M280.7 562.09h.3M294.06 559.97h.3M302.14 555.67h.3M288.34 563.52h.3M298.1 553.16h.3M294.31 555.65h.3M289.16 559.01h.3M306.73 556.81h.3M296.53 550.54h.3M304 561.12h.3M289.44 553.23h.3M294.15 551.25h.3M281.74 563.67h.3M279.61 560.88h.3M282.41 559.49h.3M283.84 558.76h.3M293.47 556.08h.3M288.73 563.35h.3M296.1 558.37h.3M319.06 546.71h.3M287.76 548.67h.3M291.76 557.29h.3M336.69 560.42h.3M290.37 561.15h.3M313.36 559.48h.3M297.45 561.28h.3M298.84 561.51h.3M285.16 556.77h.3M293.83 557.71h.3M302.72 559.11h.3M296.97 550.82h.3M283.67 560.28h.3M287.94 554.09h.3M302.21 554.83h.3M285.78 554.83h.3M292.48 563.7h.3M291.06 545.01h.3M309.57 552.54h.3M294.43 551.02h.3M283.11 555.77h.3M304.43 563.08h.3M288.52 561.22h.3M290.98 559.08h.3M296.73 561.86h.3M288.31 557.74h.3M297.4 558.95h.3M289.97 562.59h.3M292.67 551.72h.3M300.51 551.71h.3M279.64 557.45h.3M287.57 554.04h.3M305.94 561.84h.3M301.99 555.08h.3M297.37 559.9h.3M289.65 555.23h.3M287.62 556.94h.3M280.43 558.19h.3M294.02 552.76h.3M309.41 550.96h.3M308.85 559.61h.3M294.36 555.17h.3M300.88 556.15h.3M287.62 556.14h.3M283.38 558.4h.3M290.72 554.3h.3M299.27 561.42h.3M279.46 552.76h.3M307.96 560.14h.3M300.62 555.68h.3M290.77 560.91h.3M289.5 552.36h.3M294.93 563.35h.3M302.57 553.71h.3M295 558.18h.3M301.83 562.04h.3M280.73 551.07h.3M306.14 559.03h.3M299.47 560.23h.3M311.61 551.84h.3M306.79 553.95h.3M279.87 560.61h.3M291.91 556.83h.3M295.39 552.69h.3M284.44 561.99h.3M304.12 555.32h.3M306.88 560.37h.3M283.72 555.25h.3M297.56 553.19h.3M312.35 559.16h.3M299.19 552.82h.3M285.07 554.13h.3M297.93 556.97h.3M291.79 560.12h.3M292.79 552.92h.3M288.92 558.68h.3M291.05 560.61h.3M297.71 554.02h.3M292.46 563.51h.3M306.79 563.41h.3M304.27 556.61h.3M290.99 563.45h.3M282.25 558.1h.3M287.3 551.9h.3M301.2 554.44h.3M290.96 557.03h.3M289.6 559.48h.3M280.82 555.86h.3M291.44 556.76h.3M288.63 559.2h.3M311.79 557.71h.3M293.44 556.31h.3M300.96 562.23h.3M287.28 557.6h.3M297.22 559.07h.3M285.7 554.22h.3M300.52 560.11h.3M308.68 554.95h.3M297.55 550.58h.3M303.94 552.41h.3M281.45 556.72h.3M320.53 555.13h.3M281.34 560.92h.3M281.28 549.83h.3M291.56 560.47h.3M293.55 562.96h.3M300.1 556.16h.3M283.96 563.19h.3M281.93 555.5h.3M287.67 555.94h.3M285.53 555.51h.3M294.38 556.01h.3M302.09 557.99h.3M298.37 559.27h.3M294.77 558.77h.3M301.16 554.12h.3M307.41 555.79h.3M296.63 562.9h.3M293.01 556.8h.3M311.37 554.83h.3M306.46 563.32h.3M280.65 559.94h.3M288.97 553.33h.3M299.45 556.35h.3M297.92 552.71h.3M291.52 556.98h.3M299.72 559.23h.3M284.93 557.89h.3M285.41 561.76h.3M317.81 558.8h.3M310.79 544.51h.3M310.59 558.38h.3M307.91 558.28h.3M286.91 555.95h.3M294.6 560.63h.3M289.79 558.7h.3M304.43 560.19h.3M282.6 555.38h.3M280.85 552.16h.3M300.87 553.08h.3M283.68 556.98h.3M303.62 556.52h.3M291.12 563.4h.3M300.07 560.9h.3M305.22 552.97h.3M297.31 555.02h.3M306.07 562.85h.3M297.19 553.73h.3M282.89 556.79h.3M294.72 554.6h.3M301.07 550.86h.3M294.9 558.44h.3M281.31 544.92h.3M288.33 557.2h.3M304.76 555.8h.3M298.77 555.42h.3M301.99 563.68h.3M297.56 557.11h.3M298.78 551.38h.3M296.05 562.35h.3M293.78 562.68h.3M303.15 550.43h.3M291.7 561.06h.3M313.28 553.36h.3M290.92 552.71h.3M303.85 551.25h.3M307.82 563.52h.3M300.26 546.64h.3M287.61 562.5h.3M279.57 557.13h.3M293.83 563.27h.3M298.03 559.92h.3M290.18 558.46h.3M293.5 562.39h.3M295.87 563.07h.3M311.19 555.42h.3M295.82 557.5h.3M297.22 549.63h.3M293.09 557.07h.3M286.4 557.37h.3M285.45 552.08h.3M298.01 549.36h.3M297.39 554.6h.3M291.3 559.8h.3M301.8 551.39h.3M305.58 551.13h.3M295.86 551.63h.3M288.86 554.91h.3M288.8 556.71h.3M310.57 551.99h.3M281.46 561.55h.3M307.18 558.4h.3M289.66 554.53h.3M284.91 555.17h.3M305.34 555.3h.3M286.88 562.14h.3M291.27 552.31h.3M283.98 560.23h.3M287.71 558.76h.3M291.36 556.89h.3M290.76 554.63h.3M296.86 557.68h.3M305.44 554.4h.3M301.45 558.38h.3M284.95 562.37h.3M284.97 560.45h.3M309.53 561.3h.3M288.01 558.06h.3M290.53 551.85h.3M282.51 558.43h.3M300.31 548.63h.3M293.68 560.92h.3M295.63 552.74h.3M305.63 551.58h.3M297.77 559.36h.3M286.06 556.44h.3M300.14 554.52h.3M284.32 555.55h.3M294.22 558.43h.3M293.18 558.47h.3M280.13 543.35h.3M297.51 563.23h.3M293.67 560.31h.3M298.69 555.74h.3M307.21 561.43h.3M304.79 555.96h.3M305.35 552.38h.3M298.47 543.97h.3M283.34 562.03h.3M289.36 558.99h.3M300.63 557.92h.3M298.69 559.82h.3M309.45 559.21h.3M308.02 561.12h.3M289.68 561.34h.3M295.46 561.33h.3M301.37 556.85h.3M290.85 559.35h.3M288.21 554.69h.3M293.4 550.24h.3M295.52 558.85h.3M301.41 561.91h.3M283.77 559.15h.3M321.68 558.49h.3M312.13 556.19h.3M300.81 558.33h.3M298.7 553.46h.3M284.35 559.86h.3M301.11 554.75h.3M284.67 552.11h.3M295.8 556.1h.3M295.83 557.05h.3M314.1 555.72h.3M294.24 558.9h.3M293.88 557.83h.3M289.77 551.44h.3M295.6 553.17h.3M298.67 552.26h.3M292.84 556.85h.3M293.86 555.31h.3M285.54 557.74h.3M288.02 558.88h.3M291.31 546.05h.3M297.46 561.26h.3M299.09 555.56h.3M279.98 562.38h.3M305.48 561.08h.3M298.75 560.17h.3M293.93 559.52h.3M294.35 559.8h.3M284.16 554.71h.3M300.28 556.26h.3M301.88 561.64h.3M287.2 552.09h.3M292 558.18h.3M286.09 558.92h.3M301.54 561.26h.3M283.27 546.64h.3M294.31 554.6h.3M311.63 559.61h.3M294.8 559.54h.3M303.31 557.92h.3M289.07 554.16h.3M294.41 554.85h.3M302.76 556.38h.3M281.34 563.83h.3M299.81 557.92h.3M301.49 555.24h.3M297.9 560.2h.3M292.91 560.21h.3M283.98 561.11h.3M281.77 561.46h.3M299.45 561.92h.3M292.16 559.02h.3M289.65 563.45h.3M284.71 559.88h.3M290.74 563.13h.3M291.59 553.76h.3M299.38 552.05h.3M284.67 562.3h.3M290.52 553.53h.3M297.27 561.61h.3M288.64 557.41h.3M303.11 562.26h.3M294.24 554.33h.3M284.94 555.25h.3M301.89 561.37h.3M291.73 556.4h.3M299.54 558.73h.3M302.95 553.76h.3M300.13 556.5h.3M295.44 559.49h.3M290 561.73h.3M311.92 563.83h.3M297.28 548.45h.3M293.07 556.02h.3M301.91 554.31h.3M303.35 552.91h.3M285.58 558.6h.3M280.06 558.53h.3M300.65 551.72h.3M304.73 555.63h.3M300.84 559.64h.3M290.46 555.83h.3M305.72 551.48h.3M303.48 559.7h.3M291.29 560.94h.3M303.39 555.62h.3M292.39 559.42h.3M285.07 559.52h.3M294.4 555.06h.3M286.57 560.15h.3M304.27 560.28h.3M286.44 562.44h.3M297.01 561.63h.3M307.25 553.93h.3M293.82 555.5h.3M304.93 549.49h.3M299.66 555.72h.3M307.09 559.02h.3M293.48 559.32h.3M299.23 558.74h.3M293.02 557.88h.3M300.54 552.79h.3M295.26 557.98h.3M290.29 562.38h.3M282.02 556.72h.3M286.53 561.4h.3M290.48 558.85h.3M299.25 550.39h.3M299.94 554.75h.3M292.68 558.02h.3M303.6 562.39h.3M313.44 559.51h.3M290.4 556.02h.3M298.8 555.64h.3M298.12 559.91h.3M295.63 554.78h.3M306.12 559.69h.3M297.26 552.42h.3M303.5 554.58h.3M301.07 558.71h.3M283.18 562.02h.3M295.92 553.32h.3M310.21 552.14h.3M312.21 559.46h.3M293.03 558.15h.3M296.84 549.14h.3M316.8 563.13h.3M284.12 556.77h.3M286.01 558.84h.3M299.35 559.82h.3M289.15 554.49h.3M304 558.08h.3M318.42 554.45h.3M303.4 558.85h.3M296.57 554.01h.3M292.02 563.83h.3M292.1 551h.3M298.88 551.39h.3M309.75 550.32h.3M293.75 550.68h.3M307.16 549.18h.3M306.92 550.66h.3M309.91 548.27h.3M290.04 547.86h.3M293.69 549.92h.3M290.81 547.17h.3M289.85 546.85h.3M282.56 548.06h.3M305.07 547.67h.3M287.48 550.28h.3M282.76 550.49h.3M282.27 550.59h.3M302.62 547.54h.3M295.52 547.59h.3M295.25 550.87h.3M291.76 546.26h.3M309.25 549.91h.3M290.62 548.67h.3M293.7 549.67h.3M300.54 549.88h.3M308.14 549.68h.3M305.9 546.65h.3M306.63 545.16h.3M284.43 551.67h.3M308.64 551.28h.3M304.8 548.53h.3M289.09 549.63h.3M304.21 545.64h.3M308.9 548.21h.3M302.24 549.12h.3M302.09 549.9h.3M305.27 546.53h.3M306.54 545.65h.3M303.44 551.73h.3M281.07 550.94h.3M285.23 546.25h.3M282.44 550.76h.3M293.42 550.69h.3M280.69 546.27h.3M296.11 550.63h.3M307.99 547.67h.3M309.81 547.34h.3M279.79 546.12h.3M300.31 549.14h.3M283.15 549.29h.3M306.02 548.58h.3M279.59 545.7h.3M281.88 550.57h.3M288.89 547.22h.3M299.66 549.49h.3M285.14 546.29h.3M301.49 551.37h.3M308.79 549.54h.3M293.56 550.52h.3M293.55 547.38h.3M310.29 548h.3M288.58 546.76h.3M306.77 546.76h.3M301.28 547.91h.3M288.06 548.52h.3M301.53 550.83h.3M280.03 545.78h.3M314.83 556.79h.3M310.86 563.74h.3M315.02 556.16h.3M306.67 554.21h.3M307.42 563.44h.3M313.98 554.74h.3M317.19 552.11h.3M312.99 552.6h.3M308.02 558.76h.3M313.54 556.34h.3M314.03 562.56h.3M308.82 549.76h.3M319.3 559.24h.3M318.44 559.05h.3M318.04 555.3h.3M316.62 555.96h.3M316.22 555.05h.3M308.9 560.32h.3M317.82 561.77h.3M309.42 561.86h.3M315.55 555.95h.3M305.53 562.52h.3M316.21 560.21h.3M307.91 551.36h.3M316.61 561.58h.3M314.97 556.9h.3M314.65 555.58h.3M312.41 554.13h.3M314.22 556.13h.3M316.43 561.22h.3M309.83 560.02h.3M316.85 563.74h.3M306.37 562.49h.3M306.31 554.97h.3M313.08 556h.3M317.68 554.95h.3M317.32 560.52h.3M308.76 553.54h.3M311.9 558.43h.3M316.57 557.18h.3M316.31 550.92h.3M303.65 556.48h.3M314.87 556.37h.3M310.17 559.9h.3M319.59 557.53h.3M311.08 554.2h.3M319.69 557.82h.3M315.36 563.49h.3M316.85 553.85h.3M316.46 561.8h.3M314.97 562.54h.3M311.6 557.67h.3M311.72 561.41h.3M311.31 559.77h.3M309.9 557.45h.3M312.24 557.49h.3M313.83 557.17h.3M312.7 548.68h.3M316.94 555.2h.3M312.62 554.28h.3M316.6 553.93h.3M315.01 563.3h.3M318.67 563.35h.3M315.38 552.61h.3M317.53 563.35h.3M316.09 561.62h.3M313.65 555.7h.3M316.87 563.74h.3M310.1 562.13h.3M314.21 562.01h.3M314.3 563.03h.3M316.7 562.03h.3M309.04 561.74h.3M313.6 553.01h.3M315.7 551.93h.3M311.85 562.19h.3M314.89 560.99h.3M309.16 560.81h.3M313.89 561.4h.3M313.49 562.99h.3M314.34 561.14h.3M317.82 558.92h.3M316.63 559.13h.3M315.14 555.77h.3M315.94 563.59h.3M313.23 561.66h.3M314.85 553.21h.3M311.96 550.22h.3M314.15 555.29h.3M319.49 557.96h.3M313.49 555.36h.3M314.29 555.65h.3M310.66 557.88h.3M309.84 557.83h.3M311.34 552.05h.3M318.74 548.86h.3M318.08 551.92h.3M306.83 552.1h.3M317.63 558.92h.3M311.8 558.02h.3M310.48 558.7h.3M322.07 561.68h.3M320.32 561.46h.3M319.35 553.68h.3M323.72 558.74h.3M312.05 556.52h.3M323.37 555.47h.3M317.7 555.75h.3M320.3 559.43h.3M315.89 556.62h.3M317.77 555.13h.3M324.02 558.79h.3M317.24 558.81h.3M323.23 555.7h.3M310.52 559.04h.3M318.44 559.19h.3M320.05 560.45h.3M315.93 552.34h.3M311.54 559.14h.3M321.49 555.85h.3M320.94 562.31h.3M315.74 558.66h.3M311.77 561.35h.3M322.15 561.34h.3M321.26 552.98h.3M294.14 538.03h.3M295.57 537.91h.3M303.1 539.1h.3M294.52 538.06h.3M299.3 537.65h.3M298.59 537.19h.3M294.5 538.32h.3M292.76 538.86h.3M297.66 536.9h.3M295.21 537.55h.3M297.86 538.41h.3M297.57 536.98h.3M307.15 539.57h.3M299.43 539.64h.3M300.69 537.87h.3M299.28 542.13h.3M304.57 539.76h.3M296.48 539.12h.3M311.94 538.87h.3M305.03 540.08h.3M302.53 540.54h.3M300.12 538.97h.3M295.12 542.09h.3M300.55 538.41h.3M306.86 537.53h.3M298.74 537.11h.3M298.9 537.68h.3M301.93 538.06h.3M295.29 537.81h.3M298.08 537.5h.3M304.21 539.22h.3M299.61 536.51h.3M301.77 536.39h.3M299.84 538.31h.3M295.34 537.04h.3M294.73 541.22h.3M297.22 537.94h.3M304.32 538.85h.3M304.89 536.46h.3M292.45 543.06h.3M298.52 537.82h.3M299.69 539.68h.3M291.87 538.65h.3M298.6 539.21h.3M299.76 537.47h.3M307.58 537.03h.3M297.36 538.9h.3M283.64 535.57h.3M307.8 536.66h.3M307.3 536.05h.3M283.05 535.28h.3M299.11 537.84h.3M299.13 536.23h.3M298.97 537.89h.3M300.76 536.24h.3M280.74 539.75h.3M289.18 535.67h.3M323.27 538.65h.3M325.65 538.47h.3M324.22 537.82h.3M323.19 538.88h.3M326.09 539.27h.3M327.35 539.9h.3M319.29 537.93h.3" stroke="#1f2fd8" stroke-width="0.75" stroke-linecap="round" fill="none" opacity="0.9"/>
<ellipse cx="295.3" cy="558.6" rx="13.2" ry="5.8" fill="#66c23a" opacity="0.95" filter="url(#bl4)" transform="rotate(0 295.3 558.6)"/>
<ellipse cx="296.2" cy="558.8" rx="9.8" ry="4.1" fill="#e2e03c" opacity="0.95" filter="url(#bl4)" transform="rotate(0 296.2 558.8)"/>
<ellipse cx="297.2" cy="558.9" rx="4.4" ry="2.1" fill="#f0962a" opacity="0.95" filter="url(#bl4)" transform="rotate(0 297.2 558.9)"/>
</g>
<g clip-path="url(#ec10)">
<ellipse cx="294.6" cy="613.5" rx="17" ry="9.5" fill="#1f2fd8" opacity="0.8" filter="url(#bl3)" transform="rotate(10 294.6 613.5)"/>
<path d="M293.18 608.44h.3M305.94 616.47h.3M293.75 612.85h.3M308.22 610.15h.3M291.56 617.37h.3M299.84 620.32h.3M298.78 616.46h.3M289.13 606.75h.3M294.79 596.89h.3M299.19 617.74h.3M295.69 610.89h.3M306.35 611.91h.3M302.51 617.55h.3M300.09 613.6h.3M297.79 612.55h.3M306.3 602.89h.3M292.07 615.93h.3M286.01 611.55h.3M287.58 614.69h.3M303.98 620.5h.3M300.18 608.03h.3M297.54 615.43h.3M309.73 599.85h.3M298.79 601.68h.3M302.41 614.71h.3M300.14 617.24h.3M298.94 608.45h.3M298.58 619.04h.3M293.67 612.32h.3M282.15 618.81h.3M289.59 607.9h.3M290.19 607.22h.3M292.25 619.47h.3M303.22 620.32h.3M310.51 607.03h.3M299.94 620.75h.3M319.01 604.05h.3M279.93 614.84h.3M291.36 606.46h.3M298.88 607.64h.3M296.19 615.8h.3M304.74 613.19h.3M292.38 608.33h.3M305.33 615.87h.3M316.4 611.26h.3M305.74 605.44h.3M302.31 605.71h.3M291.27 607.68h.3M282.41 604.58h.3M296.29 609.98h.3M287.77 597.17h.3M313.16 606.7h.3M293.36 605.59h.3M298.77 603.46h.3M295.77 611.02h.3M304.42 605.82h.3M287.96 610.74h.3M316.76 603.65h.3M297.81 608.33h.3M298.02 615.82h.3M296.22 613.58h.3M297.67 608.71h.3M292.46 602.58h.3M291 607.66h.3M292.04 616.28h.3M298.72 614.75h.3M306.29 598.4h.3M299.22 611.91h.3M293.66 604.57h.3M300.46 618.62h.3M305.47 611.55h.3M301.38 617.32h.3M313.81 619.06h.3M296.16 612.58h.3M296.42 613.33h.3M289.45 616.45h.3M287.39 607.44h.3M298.38 608.74h.3M292.09 600.14h.3M302.99 611.99h.3M293.31 614.67h.3M296.85 608.02h.3M315.69 609.44h.3M288.12 612.56h.3M286.04 618.03h.3M291.12 605.72h.3M308.45 617.27h.3M285.3 618.79h.3M312.63 608.84h.3M291.8 606.99h.3M296.02 612.28h.3M302.35 612.51h.3M309.46 618.62h.3M292.92 611.23h.3M292.84 612.13h.3M287.7 612.84h.3M308.65 599.2h.3M310.56 614.71h.3M286.91 602.92h.3M306.81 613.5h.3M300.83 610.45h.3M286.23 616.99h.3M284.57 617.16h.3M301.54 613.31h.3M301.09 615.96h.3M291.15 610.98h.3M280.13 606.66h.3M285.69 618.09h.3M299.08 610.09h.3M291.7 613.67h.3M287.26 610.49h.3M304.71 614.08h.3M299.62 614.09h.3M316.07 613.17h.3M280.68 605.98h.3M302.08 618.12h.3M302.7 616.82h.3M296.55 603.45h.3M287.12 601.6h.3M290.5 604.16h.3M295.59 611.01h.3M302.58 603.98h.3M296.08 616.1h.3M291.49 616.9h.3M296.54 618.15h.3M296.5 611.01h.3M299.92 616.47h.3M297.15 609.37h.3M286.16 609.8h.3M288.44 613.12h.3M296.28 611.44h.3M294.45 612.92h.3M311.04 618.88h.3M288.36 614.36h.3M290.98 611.36h.3M291.87 608.31h.3M280.03 597.69h.3M296.56 618.74h.3M284.83 614.83h.3M290.33 613.52h.3M285.87 610.56h.3M293.24 598.14h.3M296.69 611.1h.3M294.03 613.07h.3M298.21 609.47h.3M282.95 609.3h.3M313.95 609.04h.3M289.96 613.73h.3M300.35 607.84h.3M305.57 602.83h.3M296.66 615.02h.3M290.68 602.45h.3M296.64 615.34h.3M294.28 608.95h.3M300.43 611.5h.3M282.32 612.38h.3M280.46 617.44h.3M299.29 606.02h.3M296.54 619.11h.3M311.88 602.76h.3M292.48 603.5h.3M293.55 597.79h.3M295.75 614.03h.3M298.83 618.54h.3M301.76 616.14h.3M283.75 610.9h.3M303.18 616.16h.3M304.9 609.45h.3M315.36 609.61h.3M293.28 609.75h.3M296.15 607.3h.3M293.15 604.82h.3M290.08 603.64h.3M301.37 604.18h.3M301.78 609.38h.3M290.99 618.79h.3M295.44 600.62h.3M299.69 594.66h.3M297.17 609.45h.3M309.31 608.2h.3M285.39 619.66h.3M292.79 612.77h.3M291.5 604.63h.3M290.21 606.12h.3M293.6 612.63h.3M299.87 619.92h.3M297.75 608.98h.3M290 618.57h.3M322.72 608.09h.3M293.44 612.65h.3M307.8 612.23h.3M279.76 600.11h.3M293.76 604.91h.3M297.45 604.21h.3M290.42 603.04h.3M290.31 609.16h.3M300.8 619.86h.3M292.27 606.67h.3M315.73 614h.3M300.99 615.47h.3M310.24 617.87h.3M301.73 616.42h.3M284.88 608.2h.3M293.14 612.4h.3M294.51 613.69h.3M294.6 609.28h.3M300.76 606.59h.3M299.78 614.21h.3M295.11 600.84h.3M281.08 608.25h.3M312.04 606.71h.3M290.51 605.2h.3M288.91 613.9h.3M301.59 612.05h.3M287.67 617.65h.3M304.98 599.29h.3M292.47 618.48h.3M286.97 609.97h.3M304.79 610.24h.3M281.16 607.73h.3M279.75 615.16h.3M305.55 618.57h.3M308.65 611.31h.3M295.49 613.24h.3M301.08 609.45h.3M306.4 613.79h.3M306.89 614.71h.3M301.76 607.46h.3M289.73 604.09h.3M291.06 610.79h.3M303.5 604.29h.3M329.88 611.11h.3M308.15 618.08h.3M310.51 597.29h.3M302.76 606.35h.3M289.18 613.18h.3M287.2 607.34h.3M298.07 615.16h.3M293.74 607.49h.3M296.37 617.17h.3M300.24 613.42h.3M281.99 604.99h.3M291.67 612.41h.3M280.91 605.41h.3M300.41 618h.3M288.07 607.61h.3M299.61 611.4h.3M307.1 603.22h.3M293.27 609.36h.3M290.43 604.47h.3M289.88 605.27h.3M297.92 612.04h.3M288.89 615.68h.3M299.62 611.37h.3M286.01 609.75h.3M280.72 609.16h.3M301.92 610.6h.3M293.63 611.05h.3M296.24 609.32h.3M293.96 617.94h.3M303.33 613.62h.3M308.85 613.11h.3M283.33 601.24h.3M286.48 611.38h.3M298.55 618.24h.3M287.82 606.91h.3M302.67 618.84h.3M288.89 613.79h.3M309.33 613.69h.3M293.55 599.25h.3M308.78 615.63h.3M295.55 608.96h.3M280.41 611.16h.3M292.98 618.36h.3M280.79 620.43h.3M294.55 618.9h.3M283.46 613.84h.3M307.62 612.45h.3M300.06 603.34h.3M283.68 615.85h.3M281.2 600.72h.3M285.6 620.74h.3M284.64 611.73h.3M296.88 606.05h.3M306.2 612.83h.3M299.08 601.65h.3M292.08 610.39h.3M302.15 620.7h.3M291.38 610.16h.3M285.11 615.53h.3M291.47 609.76h.3M303.17 607.03h.3M282.42 615.78h.3M293.92 610.2h.3M292.73 614.76h.3M290.12 616.38h.3M298.76 620.68h.3M308.14 616.93h.3M291.97 612.5h.3M291.77 615.13h.3M309.18 603.61h.3M285.13 609.42h.3M283.27 604.18h.3M288.54 619.56h.3M302.2 612.01h.3M294.55 601.83h.3M301.91 614.36h.3M282.33 613.05h.3M292.13 608.7h.3M283.37 607.75h.3M283.88 614.58h.3M298.27 613.75h.3M292.25 609.37h.3M316.73 600.64h.3M307.43 613.94h.3M295.03 608.76h.3M291.86 604.7h.3M306.54 591.18h.3M296.61 612.49h.3M298.92 616.31h.3M294.59 617.02h.3M280.89 620.2h.3M319.99 615.09h.3M280 611.17h.3M294.64 613.04h.3M306.3 617.57h.3M288.87 608.5h.3M309.91 610.25h.3M294.97 617.3h.3M310.85 610.83h.3M289.31 620.61h.3M296.92 613.28h.3M291.76 613.64h.3M289.24 607.79h.3M292.86 607.96h.3M297.69 612.37h.3M291.46 610.67h.3M294.25 608.3h.3M291.1 615.84h.3M292.14 610.96h.3M291.53 612.85h.3M298.64 614.52h.3M306.53 619.66h.3M295.92 618.75h.3M293.93 611.13h.3M287.83 617.36h.3M312.57 609.04h.3M298.43 613.51h.3M285.83 601.53h.3M286.06 603.24h.3M290.86 611h.3M292.34 610.84h.3M299.63 606.26h.3M304.08 601.83h.3M295 614.17h.3M285.61 602.29h.3M301.32 607.8h.3M302.89 616.44h.3M294.24 611.83h.3M305.14 614.09h.3M284.05 612.84h.3M300.38 613.05h.3M296.38 610.95h.3M293 606.24h.3M287.32 613.16h.3M283.14 606.07h.3M304.62 618.63h.3M303.91 604.53h.3M301.77 608.68h.3M283.37 609.74h.3M289.24 603.54h.3M318.76 609.11h.3M286.12 616.92h.3M293.49 619.78h.3M291.36 613.92h.3M295.3 612.82h.3M292.01 611.2h.3M312.6 607.77h.3M288.31 609.78h.3M300.51 614.22h.3M304.49 603.84h.3M297.11 610.78h.3M291.15 612.8h.3M295.86 603.32h.3M290.05 615.35h.3M291.82 607h.3M284.24 609.46h.3M308.46 616.68h.3M286.59 617.76h.3M292.89 607.72h.3M298.98 606.41h.3M292.13 609.22h.3M293.89 606.51h.3M293.56 617.73h.3M286.49 613.36h.3M281.8 614.11h.3M304.15 614.41h.3M309.62 605.95h.3M305.96 608.62h.3M287.6 618.34h.3M296.87 619.7h.3M288.64 610.26h.3M296.63 606.04h.3M279.77 606.73h.3M309.52 611.28h.3M290.76 614.8h.3M294.52 613.26h.3M302.45 613.85h.3M303.92 604.86h.3M295.11 609.82h.3M295.59 611.68h.3M287.58 609.86h.3M304.7 608.67h.3M281.03 615.44h.3M304.99 610.35h.3M295.88 607.02h.3M292.32 618.47h.3M303.18 612.83h.3M291.57 602.38h.3M297.94 614.67h.3M298.62 617.61h.3M282.54 619.07h.3M303.93 620h.3M301.86 614.66h.3M310.52 608.1h.3M301.54 618.37h.3M286.17 605.26h.3M299.3 612.75h.3M301.19 615.81h.3M286.43 614.02h.3M306.79 609.97h.3M291.63 605.45h.3M280.02 616.52h.3M304.41 608.79h.3M290.74 605.96h.3M286.34 613.05h.3M301.74 612.77h.3M303.93 613.29h.3M282.23 620.58h.3M307.48 607.94h.3M313.79 614.85h.3M302.44 610.68h.3M300.06 604.67h.3M287.77 617.08h.3M314 600.43h.3M297.55 609.92h.3M312.25 615.17h.3M303.29 615.68h.3M298.72 617.87h.3M282.42 610.08h.3M304.09 607.93h.3M290.25 619.26h.3M311.42 608.66h.3M286.22 615.63h.3M297.89 608.27h.3M301.4 615.46h.3M309.6 617h.3M306.81 608.03h.3M298.48 612.67h.3M288.94 613.76h.3M297.74 611.92h.3M289.82 617.1h.3M295.16 613.86h.3M301.98 608.7h.3M290.68 599.15h.3M290.37 613.5h.3M302.37 610.57h.3M297.43 614.83h.3M287.82 607.85h.3M316.19 607.27h.3M308.35 612.68h.3M310.94 608.51h.3M300.66 614.21h.3M292.65 614.09h.3M286.82 611.8h.3M290.79 616.74h.3M294.11 604.08h.3M291.09 611.69h.3M285.36 620.09h.3M299.46 617.23h.3M286.86 609.93h.3M305.97 603.85h.3M299.06 612.8h.3M289.7 612.8h.3M283.49 613.59h.3M281.97 604.76h.3M310.19 608.14h.3M286.76 591.53h.3M294.48 617.74h.3M293.75 615.8h.3M284.22 613.24h.3M311.65 615.25h.3M296.86 600.62h.3M291.03 604.68h.3M303.51 607.92h.3M299.02 606.37h.3M315.52 605.36h.3M297.44 607.13h.3M301.77 618.14h.3M304.54 600.65h.3M297.46 599.72h.3M315.68 612.71h.3M290.13 616.26h.3M300.41 605.28h.3M312.74 610.85h.3M311.77 619.72h.3M301.09 607.01h.3M286.71 618.34h.3M305.33 603.46h.3M296.04 614.99h.3M292.7 611.92h.3M293.93 612.83h.3M301.53 615.26h.3M294.57 613.85h.3M290.26 617.05h.3M294.92 613.95h.3M286.89 610.26h.3M296.98 612.43h.3M288.4 605.41h.3M295.62 613.24h.3M301.18 619.74h.3M291.78 600.44h.3M293.63 601.33h.3M281.15 618.46h.3M301.38 608.48h.3M288.25 611.79h.3M283.62 618.31h.3M287.75 618.42h.3M284.5 616.71h.3M290.39 607.41h.3M293.57 615.18h.3M304.21 596.59h.3M290.83 600.44h.3M291.01 616.06h.3M280.57 605.28h.3M296.8 610.62h.3M312.56 614.27h.3M289.73 612.33h.3M284.35 613.88h.3M306.57 620.53h.3M294.83 608.09h.3M286.84 604.01h.3M296.57 620.48h.3M310.62 602.72h.3M298.89 604.82h.3M303.85 617.05h.3M297.12 617.31h.3M295.83 615.75h.3M315.31 618.95h.3M288.07 607.57h.3M292.68 611.01h.3M296.1 608.77h.3M302.48 612.62h.3M299.3 612.44h.3M302.09 605.23h.3M312.71 614.48h.3M300.29 616.08h.3M307.25 616.83h.3M297.98 611.34h.3M291.96 610.55h.3M321.83 601.29h.3M296.02 619.71h.3M305.98 619.88h.3M281.49 606.69h.3M302.24 610.68h.3M314.26 613.83h.3M297.61 615.11h.3M292.48 613.19h.3M288.06 612.26h.3M290.17 614.02h.3M279.92 603.54h.3M300.56 613.86h.3M284.91 611.14h.3M286.48 615.04h.3M292.65 610.23h.3M305.84 617.41h.3M292.37 607.07h.3M297.12 610.74h.3M298.79 613.02h.3M308.73 606.74h.3M295.8 607.83h.3M294.57 615.77h.3M311.05 610.74h.3M285.32 618.78h.3M301.16 611.3h.3M311.66 613.96h.3M295.42 611.31h.3M300.41 614.02h.3M280.12 613.27h.3M306.7 614.26h.3M289.84 609.63h.3M306.34 612.28h.3M284.3 604.67h.3M297.04 616.15h.3M289.71 612.47h.3M295.58 612.93h.3M284.86 615.48h.3M290.78 603.92h.3M293.28 602.9h.3M297.02 604.26h.3M285.12 603.52h.3M297.85 617.23h.3M285.34 604.52h.3M309.64 609.16h.3M286.27 614.48h.3M282.09 606.9h.3M287.22 619.32h.3M296.66 619.36h.3M292.79 609.42h.3M299.57 613.15h.3M282.09 616.93h.3M291.72 620.65h.3M296.28 615.16h.3M309.59 610.54h.3M306.79 602.82h.3M296.78 614.19h.3M288.15 614.53h.3M282.25 615.17h.3M298.71 608.61h.3M296.51 618.37h.3M293.68 613.26h.3M301.5 609.22h.3M293.4 606.62h.3M303.38 602.58h.3M287.78 615.53h.3M289.01 608h.3M307.61 618.23h.3M297.01 608.12h.3M308.97 607.81h.3M280.55 616.89h.3M308.01 609.22h.3M280.42 620.73h.3M302.38 612.75h.3M297.02 619.81h.3M282.46 604.31h.3M288.23 602.88h.3M293.86 602.25h.3M296.35 618.64h.3M294.11 611.06h.3M279.47 615.94h.3M310.23 611.98h.3M289.8 620.38h.3M301.58 617.39h.3M308.14 611.11h.3M309.58 605.44h.3M284.44 609.3h.3M306.97 609.42h.3M294.91 608.84h.3M299.43 615.58h.3M286.42 617.9h.3M283.18 617.77h.3M297.02 605.74h.3M307.32 605.2h.3M291.91 614.74h.3M308.91 615.93h.3M301.04 616.89h.3M308.3 608.39h.3M282.17 603.29h.3M285.66 609.03h.3M296.5 608.16h.3M308.48 604.09h.3M282.89 614.91h.3M288.06 611.71h.3M280.05 613.85h.3M281.39 618.52h.3M292.3 612.94h.3M296.91 618.86h.3M294.85 617.47h.3M280.11 612.03h.3M292.24 613.77h.3M292.72 610.94h.3M308.34 609.36h.3M289.01 615.9h.3M298.75 613.42h.3M294.11 609.03h.3M303.35 614.4h.3M297.81 612.18h.3M310.15 604.11h.3M298.86 616.15h.3M289.47 611.44h.3M291.97 619.64h.3M305.82 619.08h.3M290.31 604.16h.3M308.07 607.06h.3M292.61 615.23h.3M308.59 605.81h.3M283.38 617.66h.3M303.53 614.8h.3M292.74 620.06h.3M285.81 608.68h.3M297.37 615.07h.3M280.49 613.44h.3M284.96 614.95h.3M305.54 620.02h.3M295.26 608.7h.3M289.36 606.4h.3M283.19 617.29h.3M283.7 604.87h.3M285.91 612.48h.3M293.25 619.59h.3M285.12 615.14h.3M292.21 602.27h.3M306.67 620.62h.3M306.13 610.6h.3M308.33 607.53h.3M285.76 603.28h.3M282.55 604.74h.3M305.6 602.87h.3M300.82 612.64h.3M286.44 609.23h.3M292.38 607.59h.3M308 617.55h.3M304.58 603.52h.3M308.37 610.02h.3M294.31 617.26h.3M284.72 617.77h.3M295.74 615.47h.3M282.21 611.96h.3M282.32 605.02h.3M281.49 609.51h.3M286.61 615.85h.3M283.81 616.84h.3M286.8 613.6h.3M300.7 619.08h.3M299.98 612.73h.3M279.42 618.1h.3M305.92 619.19h.3M304.68 605.19h.3M308.63 604.77h.3M285.53 620.77h.3M301.82 607.62h.3M296.31 610.52h.3M301.07 610.05h.3M307.33 618.12h.3M281.18 602.24h.3M305.35 611.32h.3M305.91 610.77h.3M312.57 610.17h.3M320.22 605.33h.3M329.63 614.59h.3M311.53 615.59h.3M315.91 613.8h.3M323.77 606.81h.3M322.35 605.46h.3M327.12 603.14h.3M317.93 605.18h.3M313.11 608.84h.3M318.54 608.41h.3M328.67 603.33h.3M319.98 618.05h.3M319.13 605.55h.3M327.6 603.53h.3M323.28 605.97h.3M313.41 610.4h.3M318.77 613.86h.3M330.4 603.55h.3M311.04 604.87h.3M327.17 602.5h.3M317.18 609.57h.3M314.02 616.84h.3M324.84 618.2h.3M329.32 619.36h.3M311.85 606.2h.3M331.46 614.3h.3M312.74 609.92h.3M310.69 608.9h.3M328.5 616.41h.3M321.68 612.68h.3M311.17 613.83h.3M324.82 607.14h.3M321.59 619.86h.3M332.29 614.46h.3M331.87 613.96h.3M329.73 616.43h.3M321.91 619.36h.3M328.41 605.34h.3M326.6 607.02h.3M316.4 620.48h.3M326.85 614.8h.3M316.91 618.88h.3M319.64 608.3h.3M312.16 620.75h.3M313.41 610.2h.3M321.43 617.29h.3M328.83 619.32h.3M327.87 611.82h.3M313.85 609.92h.3M322.34 611.46h.3M317.15 604.45h.3M314.91 603.36h.3M318.45 619.96h.3M325.36 614.39h.3M330.76 603.6h.3M312.54 613.21h.3M316.85 606.73h.3M326.86 617.96h.3M321.35 608.82h.3M318.93 602.33h.3M328.04 614.64h.3M331.22 616h.3M316.39 620.27h.3M329.03 603.94h.3M328.77 607.54h.3M328.83 616.74h.3M324.02 610.78h.3M324.68 605.39h.3M311.46 608.51h.3M319.8 607.42h.3M324.16 615.37h.3M316.41 616.68h.3M325.39 615.98h.3M322.55 614.69h.3M325.08 616.21h.3M329.24 619.54h.3M317.75 607.01h.3M324.14 607.29h.3M311.48 620.65h.3M327.94 618.73h.3M328.33 614.63h.3M325.54 617.08h.3M325.61 614.22h.3M322.73 607.86h.3M317.56 612.74h.3M327.93 606.64h.3M313.3 603.87h.3M323.2 608.44h.3M312.77 617.36h.3M326.8 604.64h.3M321.44 602.87h.3M324.34 606.47h.3M314.15 616.9h.3M319.56 618.77h.3M324.93 607.2h.3M320.1 620.25h.3M326.32 611.08h.3M312.27 615.05h.3M318.28 614.69h.3M312.78 610.45h.3M326.65 617.98h.3M319.08 619.05h.3M326.86 610.96h.3M327.04 607.72h.3M311.23 619.8h.3M324.07 615.29h.3M328.1 608.91h.3M330.54 605.11h.3M312.35 609.5h.3M312.43 610.43h.3M320.16 617.46h.3M326.91 615.33h.3M312.86 611.7h.3M332.33 619.25h.3M326.07 613.11h.3M310.72 618.41h.3M326.77 603.22h.3M306.73 596.88h.3M312.05 594.36h.3M295.86 597.07h.3M308.83 594.51h.3M310.07 600.54h.3M300.88 593.53h.3M298.46 596.7h.3M306.6 596.9h.3M298.53 592.65h.3M297.71 590.02h.3M298.06 590.12h.3M302.87 596.33h.3M306.2 594.95h.3M300.84 594.98h.3M305.97 594.09h.3M303.83 594.06h.3M301.45 595.11h.3M299.01 598.26h.3M297.16 596.43h.3M297.99 599.67h.3M307.19 592.49h.3M301.75 591.52h.3M303.36 596.27h.3M314.13 590.78h.3M308.71 593.2h.3M304.74 597.72h.3M305.84 596.31h.3M302.79 594.97h.3M304.23 598.7h.3M297.56 593.48h.3M298.47 592.02h.3M300.32 598.39h.3M312.42 599.18h.3M298.72 595.23h.3M298.93 596.37h.3M331.55 593.81h.3M328.67 591.55h.3M308.23 585.89h.3M321.69 593.77h.3M331.54 590.93h.3M322.94 592.79h.3M330.05 591.78h.3M314.52 595.34h.3M325.36 593.18h.3M313.25 591.98h.3M310.03 585.81h.3M320.69 590.66h.3M326.48 596.44h.3M322.15 597.51h.3M318.17 594.35h.3M313.28 592.39h.3M320.12 591.35h.3M326.63 586.19h.3M323.23 589.5h.3M323.24 593.21h.3M319.73 590.85h.3M314.11 593.69h.3M317.56 593.37h.3M312.15 596.21h.3M315.06 595.56h.3M319.18 593.68h.3M321.37 594.09h.3M322.43 595.91h.3M327.22 594.1h.3M334.39 589.85h.3M331.74 592.22h.3M311.78 593.47h.3M320.93 597.19h.3M318.87 592.15h.3M324.08 586.14h.3M326.05 588.94h.3M332.51 597.13h.3M322.34 587.12h.3M323.7 592.54h.3M327.57 591.09h.3M313.85 591.56h.3M315.75 597.45h.3M317.32 589.99h.3M322.06 588.18h.3M319.2 591.58h.3M299.62 597.1h.3M287.16 591.2h.3M289.5 598.66h.3M303.52 588.31h.3M301.95 594.81h.3M304.05 597h.3M284.64 599.83h.3M289.52 590.67h.3M298.84 598.26h.3M294.56 594.03h.3" stroke="#1f2fd8" stroke-width="0.75" stroke-linecap="round" fill="none" opacity="0.9"/>
<ellipse cx="297.5" cy="614.2" rx="12.5" ry="5.2" fill="#66c23a" opacity="0.95" filter="url(#bl4)" transform="rotate(14 297.5 614.2)"/>
<ellipse cx="298.5" cy="614.5" rx="7.5" ry="3" fill="#e2e03c" opacity="0.95" filter="url(#bl4)" transform="rotate(14 298.5 614.5)"/>
<ellipse cx="299" cy="614.6" rx="3" ry="1.5" fill="#f0962a" opacity="0.7" filter="url(#bl4)" transform="rotate(14 299 614.6)"/>
</g>
<g clip-path="url(#ec01)">
<ellipse cx="357" cy="559.3" rx="16.9" ry="8.6" fill="#1f2fd8" opacity="0.75" filter="url(#bl3)" transform="rotate(0 357 559.3)"/>
<path d="M356.04 558.8h.3M356.41 554.21h.3M346.61 554.36h.3M369.76 554.76h.3M352.43 555.77h.3M346.58 561.39h.3M358.34 556.59h.3M362.69 551.14h.3M366.38 559.54h.3M351.11 561.83h.3M372.25 547.57h.3M357.23 557.59h.3M368.25 558.07h.3M345.34 553.92h.3M357.47 555.59h.3M360.14 549.76h.3M365.07 551.02h.3M371.69 555.34h.3M360.71 554.62h.3M368.22 550.68h.3M352.05 562.42h.3M377.91 550.14h.3M353.8 557.58h.3M371.91 558.92h.3M353.23 558.09h.3M347.35 561.29h.3M360.74 553.34h.3M348.99 557.42h.3M360.49 556.9h.3M362.82 563h.3M396.84 558.66h.3M353.12 554.99h.3M356.53 556.75h.3M373.62 549.1h.3M373.6 558.28h.3M360.23 554.4h.3M354.94 557.52h.3M361.39 562.93h.3M349.3 561.09h.3M368.66 560.06h.3M371.54 552.73h.3M352.41 552.74h.3M357.67 558.84h.3M354.78 551.48h.3M356.14 555.84h.3M363.81 556.79h.3M370.1 559.61h.3M373.15 558.15h.3M362 550.17h.3M354.14 549.79h.3M358.04 560.07h.3M366.13 556.25h.3M358.2 561.69h.3M367.17 557.04h.3M366.49 563.61h.3M377.27 563.84h.3M359.4 562.28h.3M346.76 562.35h.3M363.33 549.55h.3M378.67 551.86h.3M368.84 555.36h.3M360.59 554.64h.3M377.5 562.77h.3M364.98 559.22h.3M354.47 561.81h.3M358.98 557.54h.3M364.01 555.75h.3M361.13 557.61h.3M345.6 553.32h.3M348.88 556.78h.3M345.01 546.9h.3M364.98 555.86h.3M373.78 561.76h.3M367.95 559.12h.3M368.1 555h.3M349.26 555.82h.3M353.74 563.86h.3M356.08 556.85h.3M357.1 559.37h.3M350.79 550.76h.3M376.49 556.26h.3M372.73 549.27h.3M353.76 548.12h.3M369.86 560.56h.3M350.88 551.02h.3M345.62 548.6h.3M377.84 557.44h.3M358.89 559.63h.3M380.27 555.34h.3M370.82 560.24h.3M355.72 547.67h.3M367.85 554.32h.3M352.26 559.8h.3M349.87 559.46h.3M360.61 558.68h.3M365.16 557.09h.3M371.11 554.52h.3M370.84 555.61h.3M350.36 556.58h.3M359.34 557.54h.3M360.99 548.8h.3M374.44 561.83h.3M357.99 546.89h.3M366 556.83h.3M346 557.32h.3M355.02 557.01h.3M373.49 558.73h.3M349.98 553.15h.3M350.88 552.66h.3M367.92 558.87h.3M366.34 557.83h.3M385.34 558.54h.3M347.49 560.94h.3M368.65 556.27h.3M364.42 561.57h.3M379.37 555.04h.3M354.12 549.65h.3M355.49 560.85h.3M352.45 553.18h.3M370.96 557.4h.3M385.75 557.63h.3M345.65 557.08h.3M350.96 551.57h.3M352.82 558.41h.3M357.3 561.57h.3M366.39 556.02h.3M371.23 560.25h.3M346 560h.3M356.67 562.48h.3M360.85 563h.3M360.74 561.18h.3M348.93 563.19h.3M369.94 558.92h.3M354.89 556.51h.3M374.41 555.87h.3M346.94 554.05h.3M368.59 559.78h.3M360.83 561.25h.3M361.71 557.84h.3M345.7 555.04h.3M358.83 560.75h.3M353.28 556.18h.3M372.91 555.9h.3M359.97 556.73h.3M347.76 549.97h.3M351.4 553.9h.3M367.02 552.05h.3M352.81 562.22h.3M356.19 561.32h.3M366.87 549.18h.3M352.82 553.12h.3M372.64 557.87h.3M353.46 558.95h.3M362.05 557.03h.3M371.56 563.12h.3M368.71 558.8h.3M353.6 556.53h.3M353.36 549.31h.3M361.52 563.09h.3M357.34 555.74h.3M357.86 559.78h.3M347.85 560.56h.3M365.17 558.96h.3M354.81 552.79h.3M350.79 562.47h.3M373.67 554.85h.3M362.7 561.42h.3M368.69 559.88h.3M362.37 563.51h.3M344.43 558.77h.3M348.24 549.93h.3M354.02 557.74h.3M354.81 557.05h.3M358.92 560.46h.3M352.27 554.13h.3M351.62 562.96h.3M344.14 554.65h.3M362.7 561.21h.3M358.19 560.1h.3M366.88 560.78h.3M352.21 560.67h.3M367.49 554.34h.3M359.78 563.35h.3M359.17 556.67h.3M345.65 554.79h.3M358.52 551.76h.3M357.31 551.35h.3M370.3 550.33h.3M349.43 559.61h.3M353.12 553.75h.3M351.68 557.15h.3M351.24 559.63h.3M354.79 554.27h.3M357.61 549.3h.3M373.28 548.87h.3M356.41 560.34h.3M361.9 559.9h.3M371.26 552.26h.3M356.56 559.27h.3M351.85 555.19h.3M371.49 554.53h.3M352.04 556.93h.3M354.96 559.34h.3M355.02 560.5h.3M358.79 561.09h.3M372.36 553.8h.3M375.44 555.97h.3M364.6 559.32h.3M354.02 547.66h.3M374.99 554.28h.3M375.73 562.32h.3M360.03 562.61h.3M358.88 555.84h.3M360.04 550.42h.3M374.18 560.72h.3M345.95 553.01h.3M345.35 558.62h.3M348.74 556.86h.3M360.61 558.19h.3M355.5 557.42h.3M369.35 558.48h.3M355.01 563.6h.3M345.92 562.5h.3M368.47 562.03h.3M355.27 558.37h.3M360.37 563.14h.3M358.76 556.29h.3M348.07 558.16h.3M357.31 555.68h.3M356.04 555.77h.3M354.65 546.38h.3M362.28 557.98h.3M361.39 554.51h.3M373.4 550.64h.3M344.94 557.27h.3M361.6 557.36h.3M372.13 559.06h.3M345.33 560.25h.3M344.51 559.5h.3M361.17 556.21h.3M359.9 556.6h.3M363.5 556.72h.3M348.85 559.35h.3M363.33 563.01h.3M373.18 560.89h.3M369.78 562.9h.3M371.69 550.3h.3M353.12 555.61h.3M370.08 551.98h.3M364.19 556.29h.3M377.57 551.17h.3M362.07 557.14h.3M362.7 556.88h.3M348.08 559.53h.3M353.68 563.38h.3M352.29 554.73h.3M363.92 550.66h.3M347.58 561.85h.3M348.16 554.9h.3M375.75 553.25h.3M347.76 545.82h.3M345.25 551.69h.3M365.47 557.38h.3M365.88 560.42h.3M348.81 548.82h.3M347.24 558.32h.3M353.24 554.34h.3M367.67 552.58h.3M366.76 555.73h.3M358.28 552.27h.3M357 554.1h.3M356.53 562.84h.3M360.17 552.84h.3M350.43 544.87h.3M373.51 562.47h.3M360.36 561.52h.3M362.35 548.93h.3M369.88 559.64h.3M353.7 556.25h.3M351.17 553.31h.3M352.16 557.17h.3M375.68 561.54h.3M349.44 561.48h.3M359.92 557.28h.3M352.02 552.96h.3M380.04 558.41h.3M373.3 554.65h.3M361.17 554.84h.3M363.95 556.82h.3M360.75 547.28h.3M354.49 553.33h.3M351.84 558.5h.3M348.4 548.18h.3M351.2 563.11h.3M362.04 555.87h.3M360.4 554.23h.3M352.67 552.74h.3M350.56 562.57h.3M363.2 558.1h.3M361.37 549.06h.3M354.72 563.25h.3M348.05 561.4h.3M351.77 558.81h.3M365.31 554.42h.3M388.39 559.14h.3M360.77 554.24h.3M357.69 556.83h.3M360.15 557.82h.3M353.61 557.92h.3M363.68 551.49h.3M363.51 556.61h.3M351.42 557.52h.3M367.84 561.37h.3M366.78 554.52h.3M353.88 551.91h.3M350.91 556.12h.3M351.88 562.22h.3M361.68 562.48h.3M358.25 563.61h.3M362.53 562.34h.3M356.26 551.49h.3M361.27 560.74h.3M355.16 555.78h.3M388.59 552.14h.3M356.31 558.02h.3M344.56 551.31h.3M349.27 556.41h.3M351.66 562.77h.3M373.15 563.21h.3M344.47 542.06h.3M366.3 561.03h.3M352.55 558.89h.3M345.58 560.05h.3M352.27 555.53h.3M368.88 559.48h.3M366.2 553.72h.3M352.68 558.6h.3M354.26 558.98h.3M364.15 555.6h.3M379.89 554.38h.3M383.23 558.51h.3M354.94 552.4h.3M369.57 559.25h.3M347.69 560.53h.3M372.08 562.07h.3M361.85 558.12h.3M359.45 562.52h.3M370.37 557.39h.3M363.42 555.88h.3M359.58 556.94h.3M355.68 560.36h.3M353.71 556.21h.3M358.88 555.09h.3M359.29 556.02h.3M349.03 559.67h.3M370.37 556.82h.3M376.77 553.84h.3M370.07 556.99h.3M365.14 557.72h.3M380.23 557.58h.3M363.21 556.45h.3M355.55 560.07h.3M356.83 557.31h.3M349.72 551.08h.3M366.46 556.69h.3M344.32 558.47h.3M348.87 556.24h.3M356.45 556.79h.3M350.16 548.89h.3M354.56 563.81h.3M355.76 555.42h.3M382.48 552.45h.3M352.48 556.87h.3M373.09 555.05h.3M365.63 556.08h.3M358.89 551.97h.3M347.53 553.96h.3M367.64 560.86h.3M359.67 561.02h.3M351.81 560.95h.3M350.4 551h.3M349.33 559.49h.3M361.4 553.04h.3M359.81 556.08h.3M352.52 553.17h.3M347.35 554.28h.3M347.76 559.82h.3M346.28 545.6h.3M350.22 557.42h.3M360.42 555.49h.3M356.17 559.17h.3M344.75 559.8h.3M368.96 554.05h.3M360.32 559.61h.3M365.01 557.09h.3M354.82 563.65h.3M360 561.1h.3M370.47 563.32h.3M360.93 555.53h.3M350.42 560.79h.3M372.75 558.62h.3M371.5 556.73h.3M370.37 552.89h.3M359.22 552.52h.3M364.42 561.53h.3M346.73 554.29h.3M352.3 550.2h.3M346.99 553.63h.3M352.29 556.8h.3M359.52 555.52h.3M354.11 562.98h.3M359.7 557.92h.3M350.42 559.05h.3M345.82 555.12h.3M358.2 556.22h.3M363.03 558.76h.3M368.1 555.18h.3M373.42 558.46h.3M348.76 561.45h.3M354.18 558.45h.3M346.95 561.88h.3M369.19 555.49h.3M376.75 555.25h.3M359.89 549.39h.3M361.76 558.81h.3M360.42 553.33h.3M355.39 552.11h.3M353.31 560.41h.3M348.55 556.85h.3M352.4 558.45h.3M367.25 559.66h.3M361.47 550.45h.3M353.14 562.86h.3M347.67 555.98h.3M352.15 554.35h.3M362.54 563.75h.3M359.43 557.65h.3M352.27 555.56h.3M350.54 560.37h.3M355.86 558.83h.3M363.75 558.05h.3M358.28 546.09h.3M368.1 548.38h.3M346.2 546.9h.3M366.73 550.69h.3M347.57 548.44h.3M353.4 548.67h.3M372.55 546.01h.3M366.16 551.63h.3M366.16 546.77h.3M363.51 549.09h.3M354.81 550.44h.3M362.95 548.64h.3M356.77 547.24h.3M368.04 549.5h.3M364.4 550.02h.3M371.14 545.97h.3M369.49 546.79h.3M369.56 546.28h.3M346.27 545.16h.3M355.26 551.99h.3M372.88 546.91h.3M362.27 551.56h.3M361.4 547.7h.3M369.13 551.39h.3M363.14 545.66h.3M346.82 547.22h.3M358.13 550.93h.3M370.44 551.36h.3M368.54 550.62h.3M345.23 549.78h.3M374.56 547.17h.3M359.61 551.89h.3M352.36 549.02h.3M356.78 550.73h.3M372.82 547.79h.3M371.35 551.56h.3M354.42 549.36h.3M363.25 549.98h.3M345.55 546h.3M368.1 547.9h.3M345.66 545.68h.3M365.72 547.48h.3M353.22 548.97h.3M348.06 547.03h.3M347.81 545.05h.3M373.74 548.02h.3M350.25 550.31h.3M358 547.66h.3M348.18 550.44h.3M358.65 547.72h.3M368.97 548.85h.3M351.1 547.12h.3M365.65 545.61h.3M354.43 550.47h.3M347.2 548.59h.3M368.73 550.56h.3M354.06 550.49h.3M363.3 550.45h.3M373.1 547.67h.3M365.92 547.05h.3M353.65 546.58h.3M362.55 548.28h.3M366.74 549.22h.3M350.05 551.03h.3M373.19 551.99h.3M350.4 550.11h.3M344.47 548.97h.3M359.96 547.02h.3M358.14 549.08h.3M379.92 555.75h.3M381 555.14h.3M376.41 552.62h.3M381.45 562.44h.3M376.04 556.49h.3M377.63 558.79h.3M380.22 558.18h.3M378.8 551.13h.3M376.55 549.81h.3M379.8 562.87h.3M383.92 562.1h.3M372.42 556.94h.3M369.98 554.2h.3M373.53 557.83h.3M378.75 553.69h.3M376.6 559.12h.3M377 557.05h.3M369.8 555.87h.3M380.03 559.01h.3M372.75 556.62h.3M378.34 553.46h.3M379.65 554.24h.3M376.43 557.35h.3M384.61 556.4h.3M375.66 561.06h.3M375.98 558.71h.3M370.27 559.18h.3M377.42 552.03h.3M381.82 556.76h.3M376.86 551.92h.3M372.28 555.28h.3M372.61 560.04h.3M380.26 554.97h.3M372.33 556.06h.3M374.09 558.58h.3M378.05 555.91h.3M377.71 562.51h.3M382.93 555.48h.3M379.78 556.75h.3M374.09 563.59h.3M378.73 558.45h.3M378.61 557.09h.3M380.35 559h.3M380.56 563.6h.3M376.83 560.46h.3M376.43 560.71h.3M376.32 560.13h.3M378.95 556.31h.3M380.46 557.44h.3M376.15 557.82h.3M375.06 563.2h.3M379.47 562.23h.3M373.14 559.03h.3M375.01 558.2h.3M381.54 558.97h.3M376.9 562.85h.3M371.51 559.29h.3M376.13 553.88h.3M377.84 552.58h.3M370.32 553.75h.3M375.16 552.56h.3M371.14 556.23h.3M376.7 558.48h.3M372.84 554.38h.3M370.21 558.57h.3M372.45 545.45h.3M381.18 560.09h.3M378.59 559.39h.3M374.16 562.65h.3M378.19 549.52h.3M376.66 562.62h.3M376.79 554.99h.3M369.21 563.38h.3M376.05 559.53h.3M373.84 553.73h.3M381.05 556.08h.3M376.19 552.15h.3M378.15 561.33h.3M376 556.98h.3M375.5 557.13h.3M382.87 556.81h.3M372.51 553.66h.3M378.2 556.83h.3M380.15 563.73h.3M380.25 559.88h.3M369.9 558.74h.3M381.98 556.62h.3M384.93 558.19h.3M374.23 560.55h.3M378.45 561.64h.3M376.79 563.77h.3M375.72 558.47h.3M373.5 554.25h.3M378.17 554.9h.3M376.07 556.95h.3M378.33 561.36h.3M380 562.53h.3M378.18 555.42h.3M372.4 556.31h.3M375.92 558.43h.3M388.44 556.88h.3M377.52 551.88h.3M388.28 559.59h.3M374.99 560.19h.3M384.01 551.61h.3M381.98 551.46h.3M381.53 556.83h.3M374.6 563.39h.3M382.55 561.63h.3M383.23 559.3h.3M386.28 555.55h.3M386.23 563.32h.3M385.95 556.64h.3M375.43 551.94h.3M386.88 558.38h.3M381.93 551.3h.3M386.77 562.11h.3M387.32 557.04h.3M375.74 560.32h.3M380.34 561.91h.3M381.68 561.04h.3M383.03 561.08h.3M387.74 561h.3M375.09 555.4h.3M361.5 538.29h.3M368.09 536.94h.3M369.5 539.49h.3M368.7 535.17h.3M351.82 539.22h.3M359.59 537.11h.3M358.51 536.12h.3M361.42 537.07h.3M359.17 538.9h.3M355.96 539.88h.3M349.61 541.99h.3M354.87 539.05h.3M368.73 538.16h.3M367.7 538h.3M352.41 538.69h.3M370.15 537.32h.3M352.8 537.25h.3M365.15 538.63h.3M369.91 539.02h.3M366.26 535.11h.3M376.77 538.24h.3M368.43 537.64h.3M362.24 538.26h.3M372.79 540.48h.3M366.95 541.2h.3M360.76 538.96h.3M360.39 540.15h.3M363.41 539.67h.3M373.74 535h.3M376.48 538.66h.3M361.25 535.24h.3M361.35 534.66h.3M363.75 537.92h.3M374.39 537.68h.3M369.79 539.97h.3M375.87 537.8h.3M367.89 535.85h.3M356.42 537.76h.3M363.09 536.32h.3M360.7 539.26h.3M360.43 537.95h.3M357.77 540.31h.3M374.18 538.5h.3M362.55 540.75h.3M366.2 537.16h.3M364.4 538.36h.3M361.98 537.39h.3M361.8 535.44h.3M352.81 540.17h.3M355.4 535.24h.3M362.38 535.13h.3M349.02 535.13h.3M353.55 539.74h.3M349.88 537.21h.3M346.28 540.68h.3M357.62 536.9h.3M355.49 537.45h.3M392.88 539.89h.3M389.21 538.51h.3M389.53 539.61h.3M390.38 537.95h.3M389.98 538.96h.3M390.73 538.75h.3M392.81 538.75h.3" stroke="#1f2fd8" stroke-width="0.75" stroke-linecap="round" fill="none" opacity="0.9"/>
<ellipse cx="357" cy="558.3" rx="13.4" ry="5.6" fill="#66c23a" opacity="0.95" filter="url(#bl4)" transform="rotate(0 357 558.3)"/>
<ellipse cx="357.4" cy="558.5" rx="9.6" ry="3.9" fill="#e2e03c" opacity="0.95" filter="url(#bl4)" transform="rotate(0 357.4 558.5)"/>
<ellipse cx="357.8" cy="558.7" rx="4.2" ry="2" fill="#f0962a" opacity="0.95" filter="url(#bl4)" transform="rotate(0 357.8 558.7)"/>
</g>
<g clip-path="url(#ec11)">
<ellipse cx="357.3" cy="612" rx="17" ry="11" fill="#1f2fd8" opacity="0.55" filter="url(#bl3)" transform="rotate(0 357.3 612)"/>
<ellipse cx="383.6" cy="612" rx="8" ry="8" fill="#1f2fd8" opacity="0.4" filter="url(#bl3)" transform="rotate(0 383.6 612)"/>
<path d="M373.04 604.21h.3M362.99 606.59h.3M372.73 611.41h.3M372.95 620.09h.3M367.18 605.94h.3M368.47 617.51h.3M366.29 606.87h.3M359.27 613.17h.3M368.01 619.12h.3M367.98 610.52h.3M370.29 606.18h.3M344.45 616.18h.3M357.82 614.72h.3M365.76 613.91h.3M356.42 606.05h.3M355.25 616.34h.3M362.29 610.78h.3M373.2 607.23h.3M362.57 613.55h.3M350.97 616.94h.3M363.2 610.64h.3M354.88 612.65h.3M354.76 616.21h.3M345.06 619.43h.3M365.65 603.51h.3M369.6 603.21h.3M367.67 614.94h.3M354.24 605.32h.3M354.23 614.64h.3M358.64 616.87h.3M349.08 614.95h.3M349.78 617.65h.3M365.65 613.59h.3M371.74 611.56h.3M347.7 620.74h.3M351.91 608.47h.3M374.01 605.27h.3M364.81 611.41h.3M372 613.14h.3M355.37 608.88h.3M367.35 620.11h.3M365.53 608.31h.3M366.6 605.54h.3M358.21 612.18h.3M352.48 606.23h.3M354.71 613.93h.3M347.79 607.54h.3M345.76 608.96h.3M355.2 615.04h.3M370.12 614.91h.3M353.66 602.91h.3M360.85 612.74h.3M369.08 612.76h.3M346.59 608.83h.3M354.89 609.03h.3M354.88 613.51h.3M365.58 616.86h.3M371.6 616.83h.3M360.34 612.11h.3M352.71 615.92h.3M355.82 605.12h.3M352.09 602.37h.3M356.22 604.64h.3M354.61 603.02h.3M358.92 610.03h.3M351.13 609.52h.3M355.51 620.32h.3M350.17 618.2h.3M356.45 617.71h.3M365.47 615.98h.3M344.26 605.44h.3M374.56 604.95h.3M347.96 617.58h.3M368.09 616.49h.3M352.3 602.92h.3M345.53 609.88h.3M368 607.14h.3M360.99 612.51h.3M351.53 610.59h.3M355.2 610.86h.3M370.35 613.8h.3M365.42 616.71h.3M352.01 618.9h.3M350.72 611.22h.3M361.01 609.18h.3M347.07 618.25h.3M350.47 602.46h.3M368.51 616.63h.3M366.01 603.03h.3M344.1 607.62h.3M357.3 619.54h.3M355.78 607.91h.3M366.42 602.94h.3M356.62 604.4h.3M350.41 620.17h.3M369.64 609.79h.3M349.36 609h.3M363.56 619.19h.3M352.14 618.12h.3M362.67 606.69h.3M348.7 604.28h.3M370.72 619.01h.3M354.87 609.24h.3M364.6 610.75h.3M366.77 604.99h.3M357.94 609.8h.3M360.17 618.98h.3M347.02 619.27h.3M360.23 605.61h.3M359.94 614.21h.3M371.32 604.69h.3M354.31 611.61h.3M348.09 616.9h.3M356 606.92h.3M367.88 613.19h.3M344.43 607.31h.3M374.56 614.17h.3M360.69 608.4h.3M365.79 606.13h.3M357.89 608.1h.3M349.41 616.48h.3M364.19 609.93h.3M350.85 613.42h.3M357.44 606.95h.3M349.87 613.85h.3M371.72 602.8h.3M355.62 603.08h.3M365.04 606.13h.3M349 617h.3M362.36 605.33h.3M352.54 609.97h.3M353.19 606.43h.3M345.3 604.78h.3M362.16 607.25h.3M360.69 612.11h.3M370.02 619.04h.3M344.15 602.6h.3M356.08 612.1h.3M374.12 602.34h.3M345.13 610.68h.3M368.34 614.85h.3M346.22 606.9h.3M365.65 611.01h.3M359.76 617.65h.3M370.75 604.24h.3M359.37 606.08h.3M364.56 607.77h.3M351.35 617.62h.3M374.07 619.1h.3M349.84 616.25h.3M369.48 606.66h.3M364.65 608h.3M358.38 615.97h.3M354.99 610.45h.3M345.97 608.61h.3M350.42 606.87h.3M370.61 616.81h.3M371.09 605.35h.3M349.88 619.33h.3M352.4 607.42h.3M365.55 619.51h.3M367.23 615.5h.3M344.82 618.61h.3M369.15 614.09h.3M368.85 603.96h.3M362.8 609.55h.3M371.19 620.61h.3M373.85 604.36h.3M349.72 612.12h.3M372.82 611.91h.3M370.27 610.29h.3M361.69 607.33h.3M346.76 607.86h.3M373.4 605.87h.3M366.56 606.99h.3M354.88 602.71h.3M353.4 616.24h.3M373.06 618.97h.3M350.52 606.19h.3M368.98 603.09h.3M357.18 609.3h.3M365.11 604.05h.3M369.02 610.09h.3M346.42 606.84h.3M351.45 612.96h.3M346.87 616.09h.3M355.89 618.65h.3M347.74 615.61h.3M371.95 617.73h.3M361.49 609.62h.3M349.27 604.97h.3M349.89 605.23h.3M361.84 610.83h.3M371.71 615.19h.3M372.49 617.8h.3M372.38 605.16h.3M353.4 611.95h.3M365.14 603.45h.3M359.54 612.88h.3M360.69 618.44h.3M364.49 608.55h.3M352.52 614.88h.3M351.68 614.02h.3M356.2 614.62h.3M350.6 605.47h.3M370.23 611.68h.3M354.76 603.04h.3M344.51 609.84h.3M363.11 603.02h.3M374.16 620.34h.3M360.49 608.57h.3M352.16 606.71h.3M371.54 619.15h.3M363.01 610.21h.3M362.68 611.72h.3M357.71 618.49h.3M367.44 611.93h.3M364.28 609.46h.3M360.4 616.02h.3M353.77 607.72h.3M367.85 604.87h.3M371.81 615.64h.3M346.16 611.45h.3M346.41 612.37h.3M370.63 619.03h.3M362.62 602.81h.3M355.74 602.44h.3M373.83 608.67h.3M372.86 617.86h.3M356.57 611.03h.3M354.87 613.58h.3M359.98 608.89h.3M361.85 608.56h.3M369.65 608.28h.3M370.79 607.39h.3M352.22 602.69h.3M370.04 614.85h.3M345.72 607.86h.3M349.82 619.46h.3M356.44 613.21h.3M345.67 604.96h.3M354.15 607.59h.3M344.15 605.45h.3M368.52 616.34h.3M364.47 606.81h.3M351.44 612.61h.3M359.68 610.24h.3M355.5 608.99h.3M368.95 618.46h.3M352.5 611.73h.3M350.7 607.89h.3M367.6 605.24h.3M366.97 607.67h.3M365.32 605.6h.3M345.3 614.62h.3M344.59 616.13h.3M372.41 613.34h.3M373.74 615.52h.3M349.71 616.22h.3M358.69 612.9h.3M357.8 605.58h.3M352.18 614.17h.3M345.76 602.46h.3M351.22 611.05h.3M373.38 605.06h.3M357.16 615.24h.3M349.75 614.69h.3M345.67 608.29h.3M363.52 613.11h.3M369.61 615.52h.3M351.19 611.71h.3M366.91 606.84h.3M347.35 618.55h.3M363.29 603.67h.3M346.25 605.77h.3M357.85 616.82h.3M358.47 602.95h.3M344.18 604.72h.3M369.04 609.06h.3M366.41 604.87h.3M368.05 602.77h.3M363.72 616.73h.3M352.12 605.29h.3M365.05 619.36h.3M361.19 602.94h.3M362.82 607.2h.3M366.84 612.85h.3M352.36 603.89h.3M371.91 611.09h.3M357.76 611.25h.3M353.19 613.4h.3M359.82 619.6h.3M373.76 609.76h.3M365.36 619.27h.3M346.28 606.15h.3M351.94 614.42h.3M364.38 610.14h.3M373.28 616.74h.3M360.17 611.89h.3M360.22 618.22h.3M348.09 607.02h.3M368.52 612.35h.3M350.87 614.06h.3M360.09 609.2h.3M364.67 617.26h.3M361.94 609.19h.3M367.28 619.74h.3M363.47 619.69h.3M352.99 602.81h.3M361.63 614.19h.3M365.09 618.35h.3M345.47 602.96h.3M373.53 616.03h.3M362.69 613.07h.3M373.83 611.83h.3M370.3 607.2h.3M344.28 615.96h.3M345.88 606.19h.3M370.09 605.47h.3M350.99 608.65h.3M373.96 609.71h.3M367.37 604.72h.3M362.85 609.6h.3M357.04 616.55h.3M371.74 613.86h.3M362.98 615.64h.3M346.23 617.7h.3M366.03 607.53h.3M353.68 608.6h.3M347.55 618.29h.3M354.77 609.26h.3M370.18 611.74h.3M366.53 617.83h.3M355.2 613.96h.3M369.09 619.35h.3M360.81 602.28h.3M353.91 613.77h.3M346.5 611.69h.3M364.64 609.81h.3M351.06 607.63h.3M359.13 609.15h.3M350.8 617.54h.3M363.06 611.05h.3M345.14 606.18h.3M352.03 615.18h.3M362.88 617.57h.3M369.68 609.72h.3M366.13 604.48h.3M352.32 616.14h.3M355.74 615.13h.3M358.99 615.18h.3M372.93 602.27h.3M348.85 604.27h.3M367.99 620.37h.3M346.86 612.53h.3M369.57 606.94h.3M346.77 602.94h.3M355.27 611.04h.3M354.87 608.16h.3M364.18 604.96h.3M353.19 614.12h.3M368.53 605.42h.3M374.14 620h.3M365.79 606.41h.3M346.3 608.74h.3M368.46 607.56h.3M356.08 616.41h.3M359.34 611.61h.3M369.76 604.67h.3M365.64 617.97h.3M359.8 612.46h.3M352.7 612.81h.3M345.81 609.18h.3M346.84 617.68h.3M344.96 613.68h.3M355.81 603.4h.3M372.96 618.81h.3M346.76 612.75h.3M359.42 607.18h.3M362.58 602.78h.3M372.76 602.79h.3M374.44 604.32h.3M363.82 606.88h.3M361.45 612.03h.3M365.44 606.29h.3M356.94 616.98h.3M367.73 612h.3M369.49 610.14h.3M350.03 610.16h.3M359.84 606.57h.3M353.11 612.22h.3M347.22 606.42h.3M356.47 608.14h.3M362.23 611.7h.3M359.5 614.06h.3M355.33 608.23h.3M360.7 615.7h.3M359.1 608.8h.3M344.15 619.39h.3M364.9 604.83h.3M367.99 612.98h.3M357.75 608.74h.3M363.69 610.64h.3M350.87 604.2h.3M366.13 608.42h.3M357.54 605.59h.3M363.36 614.85h.3M364.35 616.73h.3M356.82 616.93h.3M349.16 619.33h.3M372.66 609.27h.3M369.23 614.15h.3M355.29 620.17h.3M355.15 611.49h.3M369.83 611.88h.3M366.85 614.46h.3M351.98 602.58h.3M369 618.13h.3M353.9 609.91h.3M369.64 616.35h.3M346.76 604.52h.3M372.96 611.35h.3M354.75 612.81h.3M372.13 616.69h.3M351.02 613.34h.3M354.98 613.82h.3M351.23 619.56h.3M361.66 607.14h.3M351.24 610.53h.3M364.42 618.74h.3M364.57 610.67h.3M367.32 613.24h.3M357.49 611.6h.3M356.69 620.5h.3M351.14 614.9h.3M358.52 616.69h.3M359.83 602.61h.3M351.99 609.5h.3M360.76 616.2h.3M348.68 605.2h.3M356.4 616.81h.3M353.47 619.5h.3M360 616.46h.3M367.57 615.74h.3M344.27 607.23h.3M357.07 604.3h.3M346.45 619.83h.3M354.4 610.01h.3M366.34 619.13h.3M363.19 614.68h.3M365.73 619.7h.3M368.78 602.48h.3M353.95 617.19h.3M354.98 616.04h.3M349.19 612.7h.3M353.56 605.09h.3M362.65 605.87h.3M364.27 619.66h.3M365.52 609.41h.3M360.1 616.3h.3M344.89 620.54h.3M363.5 606.33h.3M369.81 603.27h.3M370.61 602.67h.3M355.1 617.67h.3M358.68 617.19h.3M362.83 613.22h.3M368.21 602.05h.3M344.16 606.68h.3M371.48 604.82h.3M356.96 604.97h.3M373.55 604.52h.3M367.99 602.66h.3M355.71 611.57h.3M373.05 608.49h.3M357.85 608.7h.3M346.7 607.24h.3M349.58 617.03h.3M360.08 607.51h.3M367.04 604.99h.3M353.04 607.37h.3M372.66 606.73h.3M351.33 608.59h.3M373.89 609.21h.3M363.6 606.32h.3M366.29 613.94h.3M355.4 604.95h.3M359.95 619.27h.3M354.34 618.78h.3M359.11 611.38h.3M369.65 615.88h.3M367.32 606.07h.3M369.11 607.54h.3M356.22 619.26h.3M352.6 611h.3M361.83 616.07h.3M373.11 617.43h.3M365.39 615.33h.3M350.58 610.61h.3M368.11 609.21h.3M371.03 603.14h.3M366.37 618.43h.3M366.01 615.16h.3M364.5 603.19h.3M361.02 617.85h.3M355.64 607.41h.3M365.77 618.17h.3M356.49 604.84h.3M348.85 602.42h.3M371.34 618.31h.3M371.97 618.9h.3M347.23 611.37h.3M368.48 619.35h.3M362.73 603.7h.3M353.65 604.85h.3M353.62 620.45h.3M347.87 619.85h.3M357.26 615.2h.3M349.94 608.36h.3M364.35 615.56h.3M372.89 602.01h.3M352.61 608.74h.3M351.39 618.19h.3M359.62 606.34h.3M346.92 604.45h.3M347.74 611.33h.3M348.85 614.8h.3M369.24 607.91h.3M359.05 617.54h.3M367.94 619.23h.3M369.37 606.12h.3M352.74 609.31h.3M348.79 617.87h.3M345.19 611.55h.3M366.28 616.19h.3M360.15 607.95h.3M369.95 617.54h.3M363.82 617.86h.3M348.61 616.73h.3M358.47 618.7h.3M355.99 609.43h.3M347.05 611.81h.3M347.73 617.33h.3M365.38 615.73h.3M364 612.2h.3M356.45 602.67h.3M347.21 606.13h.3M351.35 610.62h.3M357.05 616.3h.3M366.43 619.19h.3M356.29 620.74h.3M366.92 609.31h.3M354.72 620.36h.3M362.15 609.25h.3M366.72 605.45h.3M356.42 619.65h.3M357.99 604.01h.3M344.99 611.05h.3M346.82 616.73h.3M364.61 613.91h.3M346.32 618.17h.3M349.19 612.08h.3M358.49 610.46h.3M372.34 608.42h.3M374.51 613.85h.3M367.55 612.73h.3M354.62 611.66h.3M348.87 614.92h.3M356.07 611.62h.3M345.27 615.18h.3M352.21 611.5h.3M365.46 616.73h.3M362.68 605.86h.3M372.41 608.84h.3M353.12 607.8h.3M356.36 618.7h.3M366.3 613.04h.3M351.18 619.88h.3M350.8 612.59h.3M373.92 619.78h.3M354.19 616.05h.3M370.72 618.99h.3M355.91 607.67h.3M369.25 607.7h.3M352.47 616.23h.3M344.87 613.78h.3M364.1 608.75h.3M353.97 603.97h.3M353.63 602.86h.3M365.69 602.2h.3M356.18 612.47h.3M351.97 612.66h.3M370.25 604.06h.3M368.21 602.73h.3M368.56 602.37h.3M353.52 613.01h.3M373.9 616.33h.3M359.28 619.07h.3M353.18 610.91h.3M347.65 616.11h.3M368.65 606.52h.3M365.37 602.93h.3M372.62 612.94h.3M346.22 608.19h.3M345.01 609.62h.3M371.15 604.18h.3M351.18 615.14h.3M353.67 618.78h.3M347.27 616.11h.3M358.99 604.58h.3M349.77 607.16h.3M345.17 605.73h.3M347.63 609.39h.3M354.79 604.79h.3M349.57 617.46h.3M369.09 606.04h.3M367.75 603.49h.3M372.07 609.06h.3M358.16 602.7h.3M367.93 610.71h.3M368.69 610.28h.3M369.57 607.94h.3M348.2 612.57h.3M358.65 616.97h.3M363.8 608.48h.3M352.88 607.16h.3M367.86 614.1h.3M363.2 609.98h.3M368.44 606.93h.3M366.61 619.97h.3M356.95 605.98h.3M385.34 606.07h.3M382.45 606.81h.3M396.36 619.93h.3M392.47 616.44h.3M399.06 618.16h.3M381.87 619.84h.3M396.79 620.2h.3M392.57 609.46h.3M377.63 606.68h.3M381.34 612.68h.3M397.17 609.27h.3M386.3 608.39h.3M378.94 612.99h.3M378.1 618.99h.3M382.45 612.4h.3M392.01 608.44h.3M378.22 605.59h.3M378.81 617.82h.3M397.58 614.11h.3M381.69 606.12h.3M392.93 617.42h.3M397.01 603.52h.3M394.72 603.68h.3M391.48 607.56h.3M386.7 616.9h.3M393.55 611.98h.3M384.44 615.14h.3M395.14 619.22h.3M393.38 620.75h.3M377.66 617.94h.3M374.79 610.33h.3M392.46 612.35h.3M387.42 602.03h.3M390.95 603.49h.3M392.49 610.32h.3M387.2 608.2h.3M378.15 611.94h.3M390.21 602.11h.3M382.39 620.03h.3M388.07 611.15h.3M375.37 605.1h.3M400.41 614.15h.3M379.51 612.96h.3M395.93 620.8h.3M384.97 610.36h.3M389.81 602h.3M380.49 605.81h.3M374.95 609.75h.3M387.88 606.79h.3M376.49 611.26h.3M379.38 614h.3M376.36 611.95h.3M389.47 603.01h.3M392.54 602.48h.3M400.45 602.53h.3M381.16 615.01h.3M397.14 609.72h.3M390.42 612.47h.3M374.96 609.59h.3M384.42 615.12h.3M394.28 613.65h.3M392.61 605.9h.3M393.43 615.79h.3M400.36 606.06h.3M389.08 615.08h.3M378.26 612.91h.3M375.96 602.22h.3M389.88 605.58h.3M379.37 606.31h.3M399.76 609.17h.3M389.79 615.49h.3M391.04 611.12h.3M378.1 609.71h.3M396.42 602.57h.3M386.05 606.14h.3M394.89 618.72h.3M386.12 609.17h.3M396.18 607.21h.3M377.87 619.87h.3M393.02 617.21h.3M383.88 609.25h.3M385.66 608.94h.3M380.38 608.35h.3M388.31 607.13h.3M398.67 607.01h.3M387.43 607.35h.3M383.54 610.83h.3M387.04 610.42h.3M385.8 602.36h.3M386 609.49h.3M388.5 617.57h.3M393.95 616.3h.3M393.89 604.41h.3M375.36 605.94h.3M399.9 613.95h.3M384.09 613.94h.3M386.44 602.95h.3M388.49 607.91h.3M399.01 611.71h.3M375.71 614.95h.3M397.3 612.69h.3M392.83 614.22h.3M389.01 618.84h.3M385.45 618.65h.3M389.02 605.81h.3M393.45 618.5h.3M386.74 606.01h.3M399.51 602.07h.3M389.88 616.84h.3M386.93 619.23h.3M399.03 603.97h.3M375.34 616.3h.3M398.85 603.53h.3M387.71 619.39h.3M378.34 610.81h.3M393.3 611.26h.3M381.38 619.3h.3M387.49 607.78h.3M389.06 612.27h.3M400.69 603.92h.3M392.94 605.36h.3M386.79 612.16h.3M392.1 618.46h.3M392.22 609.05h.3M378.61 602.11h.3M384.9 606.42h.3M379.33 611.45h.3M377.78 603.21h.3M383.56 604.73h.3M375.63 606.27h.3M379.61 618.01h.3M379.57 610.11h.3M389.2 604.64h.3M386.08 612.21h.3M377.55 612.93h.3M394.82 616.04h.3M393.03 612.77h.3M391.97 602.99h.3M394.22 613.3h.3M379.87 613.51h.3M394.23 611.55h.3M384.51 604.75h.3M380.06 605.91h.3M382.48 613.91h.3M396.9 616.64h.3M385.7 603.39h.3M398.2 616.46h.3M399.9 613.94h.3M387.55 616.93h.3M389.83 603.6h.3M390.87 615.86h.3M377.07 616.13h.3M395.01 610.89h.3M396.23 606.9h.3M380.04 612.92h.3M383.77 613.15h.3M391.7 609.66h.3M400.32 611.99h.3M384.29 616h.3M398.27 617.06h.3M376.48 619.95h.3M389.39 620.5h.3M382.69 602.45h.3M397.83 619.19h.3M379.67 618.76h.3M384.88 617.05h.3M394.99 619.99h.3M394.4 620.64h.3M383.85 604.55h.3M394.22 604.29h.3M378.64 612.66h.3M386.71 619.4h.3M398.19 612.1h.3M379.02 611.63h.3M381.15 618.29h.3M384.32 613.11h.3M380.37 617.67h.3M388.92 613.47h.3M385.94 611.84h.3M390.64 611.46h.3M375.15 617.1h.3M396.53 604.34h.3M385.29 608.44h.3M376.45 603.85h.3M391.3 614.52h.3M379.33 609.69h.3M380.41 619h.3M394.97 608.48h.3M376.56 619.44h.3M400.09 607.92h.3M381.23 619.93h.3M390.93 619.07h.3M377.83 607.49h.3M400.26 603.41h.3M392.26 613.8h.3M381.8 614.9h.3M384.37 610.75h.3M390.24 610.2h.3M382.1 611.39h.3M390.4 616.98h.3M399 605.8h.3M378.56 617.87h.3M381.94 615.62h.3M400.49 609.54h.3M397.76 620.51h.3M375.52 613.08h.3M377.28 611.69h.3M391.99 612.07h.3M397.07 608.51h.3M378.1 603.78h.3M387.39 613.52h.3M388.41 608.46h.3M397.55 614.55h.3M387.69 613.47h.3M376.63 616.03h.3M388.06 602.15h.3M378.23 604.28h.3M388.39 611.41h.3M390.43 612.26h.3M388.24 611.05h.3M390.16 615.92h.3M375.02 619.75h.3M393.31 603.18h.3M375.6 613.91h.3M388.1 607.49h.3M378.67 609.42h.3M385.46 620.14h.3M396.34 603.27h.3M397.21 605.9h.3M398.41 611.57h.3M393.26 616.21h.3M388.97 620.08h.3M396.18 620.48h.3M376.48 619.63h.3M375.45 616.78h.3M398.34 610.56h.3M394.03 607.41h.3M386.15 618.39h.3M381.46 616.21h.3M365.33 593.64h.3M363.15 594.82h.3M365.92 589.74h.3M363.05 598.47h.3M378.96 594.62h.3M363.67 599.66h.3M366.31 591.03h.3M366.7 597.4h.3M379.82 593.38h.3M371.88 593.91h.3M376.56 595.91h.3M369.72 591.69h.3M365.19 593.93h.3M367.6 594.32h.3M364.86 595.12h.3M369.55 590.58h.3M368.64 595.42h.3M367.89 589.97h.3M366.58 590.66h.3M370.38 599.51h.3M374.44 593.87h.3M363.45 593.1h.3M370.38 592.76h.3M363.5 586.49h.3M361.05 592.36h.3M363.47 599.16h.3M357.1 590.5h.3M372.33 591.68h.3M366.38 595.62h.3M367.77 592.38h.3M374.8 600.12h.3M359.84 594.1h.3M374.96 594.32h.3M359.86 593.56h.3M374.12 591.63h.3M369.62 596.32h.3M362.58 596.94h.3M372.83 598.41h.3M374.9 589.95h.3M374.6 597h.3M375.24 592.13h.3M374.68 596.29h.3M358.65 599.35h.3M361.59 591.57h.3M370.74 592.97h.3M370.46 594.19h.3M369.85 597.8h.3M367.4 597.98h.3M374.24 592.18h.3M374.31 597.13h.3M368.71 598.83h.3M380.52 597.61h.3M356.28 596.54h.3M366.66 594.12h.3M370.36 593.93h.3M380.35 595.98h.3M367.84 597.7h.3M373.91 599.06h.3M372.62 594.93h.3M387.91 580.61h.3M373.92 596.11h.3M383.88 599.86h.3M389.44 605.07h.3M379.87 592.99h.3M384.73 589.91h.3M384.31 590.99h.3M393.4 587.18h.3M391.15 587.66h.3M391.32 592.62h.3M379.97 591.76h.3M380.33 586.98h.3M396.95 582.26h.3M391.63 594.51h.3M381.58 596.36h.3M394.69 584.8h.3M391.33 593.35h.3M380.32 593.88h.3M393.3 587.59h.3M369.35 593.03h.3M380.28 582.75h.3M383.4 579.53h.3M383.8 598.37h.3M361.86 593.31h.3M378.68 589.09h.3M378.79 594.18h.3M386.66 587.29h.3M375.32 589.01h.3M396.83 585.19h.3M390.4 592.73h.3M369.26 596.45h.3M386.4 601.94h.3M385.4 586.19h.3M374.72 594.96h.3M384.55 589.13h.3M385.26 594.4h.3M395.02 591.09h.3M385.06 591.59h.3M376.59 593.41h.3M388.06 597.1h.3M398.3 600.76h.3M379.75 594.1h.3M384.69 595.85h.3M388.42 595.43h.3M380.26 591.91h.3M382.27 589.83h.3M382.8 586.07h.3M396.63 592.56h.3M396.42 586.24h.3M369.59 587.95h.3M385.47 594.99h.3M396.13 597.1h.3M400.38 594.69h.3M387.8 587.38h.3M392.88 588.67h.3M379.73 594h.3M388.76 595.32h.3M380.5 596.87h.3M390 590.3h.3M380.14 585.84h.3M374.78 598h.3M374.3 594.22h.3M384.65 588.3h.3M382.65 590.65h.3M394.82 593.89h.3M386.82 584.4h.3M371.1 600.29h.3M377.93 583.43h.3M396.75 583.77h.3M393.38 595.7h.3M389.02 595.85h.3M374.53 585.12h.3M385.11 591.11h.3M386.07 593.4h.3M380.3 580.66h.3M390.39 590h.3M394 601.32h.3M387.52 593.97h.3M378.89 595.57h.3M389.81 592.33h.3M394.88 585.56h.3M391.78 593.36h.3M386 601.87h.3M383.19 588.96h.3M387.81 587.6h.3M381.55 589.16h.3M379.33 587.14h.3M388.33 591.29h.3M391 591.23h.3M376.1 594.73h.3M388.96 588.24h.3M384.38 592.68h.3M387.47 590.46h.3M393.54 596.32h.3M384 591h.3M376.98 590.27h.3M390.98 595.34h.3M388.25 590.67h.3M380.45 592.16h.3M377.13 591.72h.3M386.95 586.65h.3M389.67 590.05h.3M392.07 588.72h.3M391.03 598.75h.3M388.35 594.96h.3M381.1 589.36h.3M370.11 590.35h.3M376.79 591.65h.3M368.57 586.86h.3M387.48 593h.3M372.14 589.05h.3M388.16 577.58h.3M378.62 593.63h.3M388.82 593.3h.3" stroke="#1f2fd8" stroke-width="0.75" stroke-linecap="round" fill="none" opacity="0.9"/>
<ellipse cx="347.5" cy="613.5" rx="3.2" ry="2.8" fill="#66c23a" opacity="0.6" filter="url(#bl4)" transform="rotate(0 347.5 613.5)"/>
<ellipse cx="361" cy="614.5" rx="6" ry="3.2" fill="#66c23a" opacity="0.6" filter="url(#bl4)" transform="rotate(15 361 614.5)"/>
<ellipse cx="390.5" cy="615.5" rx="2.4" ry="4.8" fill="#66c23a" opacity="0.6" filter="url(#bl4)" transform="rotate(-25 390.5 615.5)"/>
<path d="M349.6 613.72h.3M349.37 610.02h.3M352.92 612.95h.3M346.14 616.47h.3M348.83 615.43h.3M346.2 614.08h.3M349.06 611.3h.3M347.06 613.05h.3M346.9 612.15h.3M344.81 614.37h.3M348.05 615.79h.3M347.38 612.21h.3M344.4 613.69h.3M346.86 617.46h.3M352.46 616.61h.3M345.58 610.79h.3M347.02 611.77h.3M350.58 613.75h.3M346.65 613.49h.3M350.23 611.67h.3M348.57 610.93h.3M347.07 612.23h.3M348.2 613.82h.3M350.1 614.86h.3M346.22 610.93h.3M345.77 612.68h.3M347.03 612.03h.3M349.85 615.34h.3M346.93 612.55h.3M347.01 613.43h.3M347.47 610.35h.3M346.59 609.84h.3M347.59 614.84h.3M345.23 613.84h.3M346.19 612.15h.3M368.71 616.43h.3M362.92 613.58h.3M362.63 614.1h.3M362.8 612.58h.3M360.74 613.66h.3M355.49 618.15h.3M364.22 612.81h.3M355.27 612.95h.3M357.74 613.2h.3M355.1 612.72h.3M361.26 615.4h.3M353.26 614.5h.3M357.14 612.26h.3M359.76 613.03h.3M363.75 616.02h.3M359.82 613.12h.3M368.04 618.54h.3M362.53 614.18h.3M364.97 617.64h.3M358.95 618.41h.3M360.39 616.87h.3M358.99 614.65h.3M359.22 614.56h.3M365.02 612.56h.3M359.84 615.69h.3M359.17 618.92h.3M355.24 620.01h.3M358.41 616.62h.3M367.38 615.66h.3M355.45 613.78h.3M361.28 615.73h.3M364.89 616.95h.3M366.83 612.44h.3M364.93 610.71h.3M361.6 612.18h.3M353.96 616.5h.3M360.89 616.66h.3M354.74 611.85h.3M360.61 613.05h.3M361.29 613.15h.3M359.66 612.01h.3M366.09 613.81h.3M356.32 615.99h.3M362.92 614.98h.3M361.89 613.64h.3M360.49 609.67h.3M354.83 611.82h.3M362.14 617.17h.3M360.35 613.92h.3M365.48 613.71h.3M363.61 615.45h.3M355.74 615.19h.3M361.82 611.99h.3M356.89 611.72h.3M366.46 619.12h.3M363.82 617.93h.3M355.65 617.58h.3M368.85 618.04h.3M357.27 616.88h.3M360.55 616.86h.3M358.45 614.53h.3M358.74 615.55h.3M360.6 616.94h.3M364.29 615.42h.3M360.86 613.84h.3M361.03 616.15h.3M361.53 615.14h.3M360.86 614.34h.3M358.36 610.39h.3M363.29 615.73h.3M388.64 618.99h.3M390.91 616.61h.3M392.32 618.73h.3M390.54 611.82h.3M388.56 616.18h.3M393.02 618.58h.3M390.46 616.67h.3M389.29 618.04h.3M390.95 612.86h.3M388.88 619.94h.3M391.03 614.78h.3M390.67 618.94h.3M390.09 612.78h.3M390.33 612.24h.3M389.95 619.79h.3M393.23 617.72h.3M390.82 612.34h.3M388.91 616.81h.3M390.77 613.49h.3M392.09 615.7h.3M390.87 619.98h.3M391.08 616.35h.3M388 609.62h.3M387.46 607.64h.3M390.49 616.67h.3M389.12 617.06h.3M391.22 615.24h.3M388.15 620.56h.3M392.71 613.5h.3M393.61 615.68h.3M389.25 614.09h.3M387.54 614.29h.3M387.95 619.48h.3M391.02 610.66h.3M391.43 609.51h.3M390.76 617.19h.3M390.62 611.58h.3M390.33 614.88h.3M390.6 620.71h.3M389.49 612.9h.3" stroke="#5cc43a" stroke-width="0.9" stroke-linecap="round" fill="none" opacity="0.9"/>
<ellipse cx="362" cy="615" rx="2.5" ry="1.5" fill="#e2e03c" opacity="0.7" filter="url(#bl4)" transform="rotate(15 362 615)"/>
</g>
<g clip-path="url(#ec02)">
<ellipse cx="421.6" cy="559.6" rx="17.5" ry="8.8" fill="#1f2fd8" opacity="0.75" filter="url(#bl3)" transform="rotate(0 421.6 559.6)"/>
<path d="M421.88 561.01h.3M441.34 551.79h.3M413.52 554.73h.3M427 558.26h.3M418.07 550.27h.3M428.34 558.63h.3M414.31 558.75h.3M430.3 550.49h.3M412 541.83h.3M416.11 554.06h.3M425.84 551.9h.3M417.59 549.4h.3M422.51 558.63h.3M439.54 560.57h.3M414.34 558.09h.3M419.24 560.92h.3M431.88 547.58h.3M425.21 562.66h.3M410.18 554.16h.3M413.77 562.74h.3M428.18 551.21h.3M429.33 560.03h.3M423.82 561.14h.3M421.31 558.67h.3M433.23 553.11h.3M408.34 554.41h.3M433.01 556.82h.3M442.71 541.61h.3M413.73 556.14h.3M419.54 552.99h.3M424.87 554.01h.3M416.35 560.19h.3M421.91 557.23h.3M408.73 560.17h.3M414.27 559.08h.3M415.12 559.69h.3M429.83 559.89h.3M428.84 550.95h.3M426.7 560.19h.3M414.68 557.69h.3M417.06 546.09h.3M427.15 555.07h.3M424.63 557.27h.3M426.89 559.06h.3M418.39 561.3h.3M430.74 546.09h.3M421.85 555.3h.3M432.13 552.88h.3M409.24 563.08h.3M414.63 556.77h.3M434.05 556.03h.3M423.53 557.87h.3M413.21 552.98h.3M420.61 558.9h.3M425.67 558.11h.3M428.32 553.93h.3M425.08 563.48h.3M427.69 560.66h.3M420.37 553.12h.3M427.6 556.4h.3M411.11 562.77h.3M430.05 563.77h.3M417.39 558.91h.3M427.49 558.18h.3M413.02 560.94h.3M423.32 559.13h.3M433.77 560.24h.3M416.47 559.45h.3M442.87 554.61h.3M418.61 554.15h.3M425.4 551.61h.3M426.43 562.74h.3M413 553.89h.3M409.19 555.12h.3M416.89 554.77h.3M424.27 552.77h.3M415.62 559.71h.3M418.3 559.28h.3M417.53 557.6h.3M408.61 548.83h.3M429.93 548.3h.3M419.41 555.11h.3M424.7 552.53h.3M431.58 557.44h.3M427.87 563.39h.3M438.18 558.68h.3M433.01 560.89h.3M416.07 560.12h.3M437.47 552.49h.3M430.66 551.01h.3M420.12 557.43h.3M428.45 560.31h.3M435.28 555.21h.3M430.81 560.72h.3M421.58 551.99h.3M427.82 560.31h.3M430.22 558.37h.3M418.75 560.72h.3M426.64 562.35h.3M442.37 555.19h.3M443.58 542.32h.3M432.1 554.09h.3M443.59 553.71h.3M433.21 553.15h.3M409.14 562.99h.3M431.1 554.74h.3M447.96 556.82h.3M438.72 553.02h.3M410.99 559.08h.3M410.46 561.08h.3M415.4 553.31h.3M423.89 557.36h.3M416.64 563.03h.3M424.81 560.67h.3M436.15 558.19h.3M430.76 556.3h.3M428.23 561.48h.3M415.58 550.28h.3M427.66 557.85h.3M418.31 561.2h.3M415.05 561.6h.3M429.32 553.38h.3M422.93 553.57h.3M419.11 560.89h.3M412.74 559.09h.3M413.51 560.63h.3M412.19 555.76h.3M428.2 560.33h.3M423.23 558.38h.3M417.51 554.62h.3M411.78 551.35h.3M439.37 559.51h.3M418.73 558.98h.3M424.67 558.03h.3M408.59 552.13h.3M443.55 554.41h.3M434.67 554.66h.3M435.8 562.4h.3M411.37 557.31h.3M412.2 554.34h.3M417.61 553.36h.3M411.17 556.04h.3M432.63 562.53h.3M426.81 559.71h.3M447.76 552.43h.3M408.99 558.46h.3M423.83 557.3h.3M412.39 551.44h.3M418.56 554.72h.3M416.32 552.68h.3M436.23 561.06h.3M441.83 555.78h.3M422.23 557.23h.3M421.81 557.19h.3M419.79 547.82h.3M418.61 562.37h.3M420.66 561.09h.3M416.66 555.29h.3M432.72 559.81h.3M415.67 557.33h.3M425.05 557.5h.3M418.81 557.3h.3M420.12 559.28h.3M427.88 563.08h.3M410.69 558.2h.3M427.47 558.44h.3M436.81 558.21h.3M413.68 557.58h.3M417.6 558.86h.3M430.77 557.95h.3M424.74 563.78h.3M423.06 551.49h.3M409.35 549.54h.3M434.02 560.86h.3M416.41 553.19h.3M425.53 557.87h.3M425.09 554h.3M411.21 558.47h.3M436.18 548.6h.3M429.23 558.97h.3M420.03 560.07h.3M408.66 546.48h.3M442.19 557.04h.3M424.74 561.08h.3M418.43 556.3h.3M422.53 560.78h.3M430.75 558.96h.3M443.26 560.4h.3M425.52 561.29h.3M418 552.67h.3M423.06 556.92h.3M412.21 559.26h.3M419.46 555.39h.3M440.76 563.44h.3M433.39 558.5h.3M433.11 554.95h.3M416.65 561.43h.3M414.02 560.91h.3M414.54 555.65h.3M434.15 561.44h.3M427.52 551.89h.3M419.43 558.31h.3M439.11 553.73h.3M412.84 559.1h.3M440.36 560.85h.3M422.2 559.45h.3M445.11 561.64h.3M432.98 556.25h.3M416.94 552.95h.3M419.75 554.83h.3M432.38 562.12h.3M420.38 555.68h.3M424.97 562.22h.3M423.38 553.01h.3M419.29 556.05h.3M428.04 548.53h.3M415.46 563.75h.3M423.91 554.12h.3M426.59 560.18h.3M411.99 562.38h.3M429 557.91h.3M431.89 552.26h.3M429.98 557.58h.3M411.46 555.39h.3M434.35 555.61h.3M417.88 555.07h.3M413.05 563.86h.3M427.17 562.74h.3M417.91 555.94h.3M417.98 554.74h.3M414.74 559.67h.3M415.7 558.73h.3M408.18 560.25h.3M414.12 556.3h.3M439.28 562.04h.3M417.47 561.31h.3M416.39 561.3h.3M419.44 558.7h.3M420.03 555.27h.3M415.11 556.54h.3M425.7 554.55h.3M431.14 562.49h.3M409.97 563.14h.3M431.89 552.15h.3M414.25 558.21h.3M417.69 562.56h.3M432.33 561.86h.3M433.55 563.73h.3M420.94 556.3h.3M413.7 563.1h.3M418.17 556.54h.3M425.6 559.88h.3M412.78 561.07h.3M427.57 553.52h.3M440.78 553.69h.3M431.81 557.56h.3M423.49 554.41h.3M415.63 562.47h.3M419.64 556.82h.3M431.37 562.53h.3M423.54 559.93h.3M440.41 557.77h.3M425.97 560.99h.3M423.14 563.38h.3M423.94 555.79h.3M414.66 563.08h.3M418.53 549.96h.3M429.13 559.97h.3M436.1 561.71h.3M419.87 547.22h.3M424.96 557.87h.3M420.95 558.44h.3M412.59 556.99h.3M413.8 563.01h.3M447.09 551.39h.3M418.95 558.79h.3M435.11 558.48h.3M412.54 558.37h.3M421.33 559.99h.3M413.92 562.36h.3M424.06 552.74h.3M422.45 558.78h.3M419.7 563.04h.3M433.97 553.7h.3M424.45 559.1h.3M411.13 550.84h.3M439.12 555.66h.3M442.08 548.59h.3M429.29 562.48h.3M412.35 556.17h.3M410.36 558.87h.3M421.12 551.47h.3M417.5 555.09h.3M422.69 560.34h.3M440.5 552.98h.3M411.03 551.93h.3M433.92 562.02h.3M421.95 559.37h.3M413.84 555.55h.3M415.31 558.21h.3M421.77 551.57h.3M424.95 551.69h.3M418.22 557.25h.3M439 557.04h.3M437.07 558.32h.3M424.12 560.11h.3M419.87 560.61h.3M420.23 553.93h.3M408.9 558.66h.3M408.63 552.14h.3M420.48 559.58h.3M412.49 548.82h.3M424.76 563.1h.3M417.12 556.54h.3M409.56 562.56h.3M415.12 557.82h.3M419.54 548.72h.3M451.85 550h.3M422.81 554.13h.3M427.02 559.26h.3M425.97 554.48h.3M417.1 562.68h.3M422.71 559.66h.3M423.8 549.08h.3M427.94 552.49h.3M424.81 559.31h.3M421.64 555.53h.3M443.51 547.57h.3M427.64 554.39h.3M411.72 557.23h.3M450.64 561.31h.3M410.26 559.91h.3M426.13 560.14h.3M410.39 556.28h.3M425.89 555.87h.3M448.96 558.54h.3M415.78 560.84h.3M420.57 554.64h.3M436.87 559.1h.3M433.57 556.74h.3M415.9 557.59h.3M422.21 561.42h.3M408.2 554.84h.3M437.21 563.49h.3M437.74 557.24h.3M420.23 553.87h.3M428.02 551.7h.3M416.06 561.12h.3M416.05 560.51h.3M441.67 553.18h.3M437.04 554.84h.3M411.32 559.84h.3M432.91 554.67h.3M413.58 556.18h.3M413.68 559.64h.3M413.76 557.2h.3M425.5 556.3h.3M434.29 554.88h.3M438.16 558.99h.3M430.73 560.47h.3M415.99 562.32h.3M423.43 554.82h.3M416.88 556.37h.3M430.21 550.26h.3M417.46 545.59h.3M415.27 560.75h.3M421.05 558.84h.3M409.3 561.73h.3M411.66 563.6h.3M423.93 556.49h.3M437.95 556.43h.3M432.87 559.18h.3M426.42 558.56h.3M420.3 559.77h.3M422.55 556.81h.3M410.21 544.35h.3M420.38 557.27h.3M434.96 561.07h.3M420.43 553.98h.3M430.6 555.33h.3M433.93 551.56h.3M423.8 560.83h.3M413.78 557.85h.3M440.1 548.77h.3M426.74 556.16h.3M422.11 554.11h.3M436.64 552.45h.3M425.61 561.59h.3M420.62 557.11h.3M426.61 558.17h.3M409.63 559.49h.3M427.5 558.44h.3M437.45 548.11h.3M449.07 557.61h.3M409.1 549.02h.3M431.19 561.77h.3M419.25 558.35h.3M423.5 556.29h.3M434.34 562.07h.3M420.32 549.61h.3M436.73 556h.3M427.14 547.54h.3M421.21 563.04h.3M431.47 557.98h.3M419.73 561.14h.3M429.48 554.2h.3M440.26 559.06h.3M424.17 556.26h.3M415.56 561.87h.3M416.91 551.87h.3M418.07 562.01h.3M414.28 556.99h.3M422.51 562.07h.3M420.43 553.42h.3M433.5 555h.3M438.04 558.31h.3M416.44 554.39h.3M426.72 563.44h.3M428.42 559.26h.3M434.43 553.02h.3M426.06 561.51h.3M431.67 557.7h.3M421.98 558.03h.3M410.34 557.86h.3M419.17 559.85h.3M417.11 561.84h.3M420.87 549.96h.3M416.19 553.73h.3M431.88 552.52h.3M454.79 555.44h.3M424.8 556.42h.3M409.84 559.86h.3M415.05 560.03h.3M409.44 559.99h.3M423.07 555.56h.3M412.96 552.17h.3M417.46 560.93h.3M420.37 559.58h.3M435.85 556.94h.3M425.09 563.3h.3M427.54 560.86h.3M421.03 556.6h.3M437.5 558.92h.3M431.07 561.5h.3M422.7 562.34h.3M428.72 559.52h.3M440.92 556.66h.3M445.23 560.25h.3M419.86 549.92h.3M431.13 562.16h.3M425.64 550.38h.3M429.22 545.98h.3M438.24 550.33h.3M417.51 546.49h.3M408.11 548.74h.3M437.7 550.49h.3M422.54 548.19h.3M420.24 545.66h.3M431.22 550.11h.3M427.51 551.48h.3M424.28 549.74h.3M411.73 551.53h.3M432.46 548.27h.3M415.01 546.43h.3M426.44 547.33h.3M413.24 550.57h.3M414.61 551.55h.3M426.99 546.88h.3M430.77 550.76h.3M437.91 550.32h.3M428.82 546.58h.3M427.36 550.77h.3M426.2 547.95h.3M416.41 546.01h.3M436.12 548.93h.3M425.62 546.77h.3M409 548.77h.3M422.31 551.68h.3M418.02 546.4h.3M412.25 548.86h.3M429.06 548.59h.3M432.74 546.19h.3M435.56 549.26h.3M434.81 546.74h.3M438.36 551.35h.3M413.32 550.99h.3M425.27 548.71h.3M420.14 546.72h.3M430.19 546h.3M429.04 546.61h.3M409.65 548.69h.3M415.97 549.1h.3M414.21 545.95h.3M409.56 550.24h.3M415.87 548.4h.3M422.43 551.82h.3M417.09 547.77h.3M412.03 548.24h.3M432.56 550.54h.3M409.35 547.88h.3M414.98 550.47h.3M428.84 548.77h.3M420.06 545.82h.3M427.63 551.33h.3M409.77 551.29h.3M436.81 545.89h.3M419.68 547.31h.3M433.34 548.97h.3M420.44 545.74h.3M433.47 547.83h.3M408.28 545.46h.3M416.03 548.72h.3M438.56 548.38h.3M409.6 551.5h.3M434.17 550.63h.3M419.21 546.89h.3M422.49 549.77h.3M416.28 551.7h.3M418.28 545.9h.3M438.29 548.72h.3M422.02 546.01h.3M441.66 550.95h.3M443.42 563.3h.3M439.66 551.31h.3M438.6 554.43h.3M445.34 556.87h.3M441.16 559.71h.3M442.08 556.64h.3M442.61 554.78h.3M441.66 560.95h.3M438.41 557.04h.3M438.14 561.36h.3M443.77 562.24h.3M445.1 562.61h.3M444.09 554.5h.3M444.79 553.89h.3M449.26 559.3h.3M443.7 552.45h.3M445.23 563.28h.3M436.78 555.49h.3M440.3 555.08h.3M438.39 562.72h.3M433.96 556.04h.3M445.69 554.57h.3M445.61 555.69h.3M445.44 560.62h.3M440.45 554.56h.3M441.25 563.21h.3M441.77 555h.3M452.43 550.89h.3M441.07 560.42h.3M438.44 557.93h.3M440.44 551.32h.3M443.25 552.86h.3M439.38 563.54h.3M438.2 560.7h.3M445.57 562.46h.3M443.29 556.92h.3M437.29 558.63h.3M443.21 555.68h.3M438.62 561.88h.3M438.4 559.96h.3M440.23 550.37h.3M446.94 560.71h.3M443.51 551.58h.3M441.35 559.21h.3M435.28 561.1h.3M435.69 550.86h.3M437.63 560.48h.3M439.44 554.86h.3M438.81 551.2h.3M438.82 553.41h.3M440.66 556.12h.3M433.98 554.89h.3M445.54 555.66h.3M441.4 554.5h.3M439.42 557.4h.3M437.27 556.95h.3M436.24 559.19h.3M436.52 560.6h.3M444.8 550.33h.3M443.7 555.79h.3M445.25 555.21h.3M440.61 556.28h.3M445.54 548.86h.3M443.95 557.99h.3M439.93 556.49h.3M444.48 561.27h.3M446.91 554.66h.3M435.42 555.06h.3M440.86 555.57h.3M442.69 549.51h.3M444.8 554.63h.3M441.61 561.31h.3M442.64 557.22h.3M442.38 560.94h.3M431.88 554h.3M439.59 561.23h.3M442.17 561.35h.3M436.89 556.53h.3M443.52 557.29h.3M440.18 558.75h.3M446.73 548.03h.3M446.54 558.77h.3M438.71 560.48h.3M441.58 562.95h.3M438.88 561.87h.3M438.55 558.95h.3M443.68 557.15h.3M443.5 554.83h.3M444.85 555.25h.3M439.2 556.99h.3M441.29 553.74h.3M444.01 556.96h.3M443.39 550.8h.3M437.25 556.32h.3M438.28 556.92h.3M443.25 562.54h.3M446.16 561.06h.3M439.2 560h.3M439.78 559.96h.3M438.09 563.58h.3M442.79 556.24h.3M437.11 558.79h.3M446.31 562.44h.3M442.53 560.78h.3M444.92 561.82h.3M439.64 563.69h.3M442.7 559.09h.3M448.36 562.38h.3M443 551.29h.3M451.58 550.65h.3M442.6 560.4h.3M446.85 558.19h.3M452.68 553.43h.3M440.05 559.48h.3M444.53 559.23h.3M450.01 554.78h.3M449.53 550.72h.3M447.5 563.81h.3M448.75 557.59h.3M440.82 551.35h.3M439.65 561.17h.3M440.54 562.27h.3M451.39 555.23h.3M441.3 561.13h.3M448.48 550.95h.3M439.89 559.81h.3M428.68 537.77h.3M428.71 537.16h.3M426.3 540.52h.3M423.27 539.27h.3M421.31 538.02h.3M432.48 536.25h.3M428.71 534.82h.3M419.81 537.42h.3M431.99 539.12h.3M421.21 537.85h.3M427.81 535.7h.3M429.24 540.08h.3M434.16 537.16h.3M424.25 536.65h.3M423.72 537.67h.3M430.79 538.17h.3M421.13 539.28h.3M431.98 537.13h.3M425.22 537.9h.3M416.83 538.25h.3M430.74 540.97h.3M427.85 537.62h.3M425.82 538.97h.3M431.48 536.76h.3M427.86 539.03h.3M414.66 540.11h.3M425.43 539.36h.3M426.44 537.69h.3M426.27 538.49h.3M431.94 537.66h.3M420.01 537.01h.3M420.87 539.2h.3M420.98 540.34h.3M427.52 537.93h.3M434.58 537.51h.3M424.98 539.23h.3M431.19 536.57h.3M441.51 538.92h.3M419.24 537.81h.3M432.33 538.4h.3M431.92 541.62h.3M432.37 541.08h.3M430.88 537.08h.3M435.88 537.03h.3M432.56 539.06h.3M414.26 539.61h.3M420.8 535.29h.3M433.81 538.21h.3M424.34 535.33h.3M417.93 537.13h.3M423.06 536.03h.3M429.41 537.94h.3M412.19 536.29h.3M428.59 536.9h.3M421.3 539.51h.3M433.42 539.65h.3M431.41 539.53h.3M458.81 537.15h.3M451.88 537.87h.3M449.97 540.08h.3M452.6 539.96h.3M449.32 540.71h.3M459.5 537.42h.3M452.68 538.31h.3" stroke="#1f2fd8" stroke-width="0.75" stroke-linecap="round" fill="none" opacity="0.9"/>
<ellipse cx="421.6" cy="558.6" rx="14" ry="5.8" fill="#66c23a" opacity="0.95" filter="url(#bl4)" transform="rotate(0 421.6 558.6)"/>
<ellipse cx="422.4" cy="558.8" rx="10" ry="3.9" fill="#e2e03c" opacity="0.95" filter="url(#bl4)" transform="rotate(0 422.4 558.8)"/>
<ellipse cx="423.2" cy="559" rx="4.4" ry="2" fill="#f0962a" opacity="0.95" filter="url(#bl4)" transform="rotate(0 423.2 559)"/>
</g>
<g clip-path="url(#ec12)">
<ellipse cx="422.3" cy="612" rx="17" ry="11" fill="#1f2fd8" opacity="0.6" filter="url(#bl3)" transform="rotate(0 422.3 612)"/>
<ellipse cx="449.8" cy="612" rx="8" ry="8" fill="#1f2fd8" opacity="0.45" filter="url(#bl3)" transform="rotate(0 449.8 612)"/>
<path d="M412.85 615.69h.3M415.12 607.62h.3M436.91 614.1h.3M428.49 604.89h.3M424.59 608.25h.3M410.66 617.22h.3M436.47 603.43h.3M421.03 604.93h.3M410.47 607.43h.3M424.54 606h.3M409.95 617.77h.3M434.15 618.68h.3M420.09 617.76h.3M416.47 610.31h.3M415.26 614.01h.3M413.86 612.85h.3M413.38 614.19h.3M426.28 613.67h.3M412.61 619.53h.3M424.51 614.35h.3M434.9 602.61h.3M430.56 616.27h.3M424.31 612.58h.3M420.83 616.94h.3M418.2 608.4h.3M415.24 605.95h.3M420.47 611.62h.3M438.41 606.31h.3M424.62 613.2h.3M416.49 612.34h.3M415.86 615.12h.3M421.31 602.47h.3M421.54 616.96h.3M418.23 604.3h.3M424.61 611.03h.3M430.64 609.94h.3M429.38 620.63h.3M430.19 617.14h.3M423.79 619.35h.3M433.47 607.09h.3M409.91 611.52h.3M425.55 618.62h.3M433.52 618.28h.3M430.42 613.26h.3M437.45 611.55h.3M411.76 606.79h.3M428.07 612.05h.3M432.12 618.44h.3M419.95 615.67h.3M415.21 617.6h.3M421.27 613.48h.3M433.26 603.83h.3M414.37 605.55h.3M432.04 610h.3M430.82 618.89h.3M424.61 611.07h.3M423.57 619.81h.3M437.07 611.07h.3M411.47 615.92h.3M409.33 615.16h.3M423.71 602.23h.3M409.96 610.24h.3M415.37 612.88h.3M411.47 620.68h.3M437.11 617.51h.3M423.25 606.52h.3M415.46 607.61h.3M417.56 611.27h.3M413.12 608.85h.3M418.92 608.94h.3M413.03 612.77h.3M433.78 602.9h.3M424.93 610.14h.3M410.67 603.37h.3M434.1 602.3h.3M421.51 618.18h.3M408.34 603.15h.3M431.17 614.48h.3M428.14 616.66h.3M423.11 603.56h.3M420.37 603.49h.3M430.28 602.56h.3M438 618.63h.3M423.06 611.07h.3M435.54 604.84h.3M424.57 620.6h.3M414.85 613.68h.3M429.8 618.8h.3M432.07 603.86h.3M411.26 613.08h.3M414.07 616.38h.3M410.97 610.44h.3M408.47 611.41h.3M417.91 602.98h.3M422.8 606.06h.3M425.56 606.87h.3M422.91 610.4h.3M433.34 602.29h.3M412.86 603.66h.3M437.42 613.19h.3M431.15 620.72h.3M408.91 606.89h.3M409.1 612.03h.3M410.74 611.44h.3M426.64 616.67h.3M425.08 612.12h.3M415.36 611.71h.3M428.55 602.79h.3M417.99 602.28h.3M432.13 610.43h.3M430.35 604.34h.3M414.68 608.07h.3M409.5 604.84h.3M426.63 617.06h.3M409.97 607.56h.3M425.21 614.33h.3M428.36 613.25h.3M412.01 615.29h.3M431.54 607.17h.3M419.95 605.06h.3M427.13 618.53h.3M423.6 611.37h.3M429.78 615.61h.3M422.83 610.43h.3M423.74 602.5h.3M422.12 604.33h.3M412.28 604.8h.3M427.15 602.6h.3M420.45 620.24h.3M431.81 609.66h.3M434.27 620.44h.3M433.89 604.13h.3M430.66 608.63h.3M437.83 613.43h.3M438.45 614.27h.3M419.99 602.54h.3M428.56 619h.3M427.15 607.61h.3M417.67 607.62h.3M434.84 614h.3M411.54 609.95h.3M412.41 611.9h.3M427.62 618.41h.3M424.92 614.22h.3M426.87 604.24h.3M426.02 608.27h.3M408.76 618.43h.3M426.15 619.73h.3M421.12 607.84h.3M413.49 603.47h.3M433.32 616.86h.3M430.43 606.14h.3M427.92 606.29h.3M420.34 609.83h.3M412.31 603.58h.3M434.71 618.29h.3M422.1 608.4h.3M422.55 614.79h.3M416.59 604.53h.3M420.45 608.82h.3M427.02 604.95h.3M421.22 603.98h.3M433.13 607.23h.3M413.36 608.99h.3M411.16 602.44h.3M434.17 614.19h.3M413.53 614.23h.3M417 607.47h.3M430.57 610.24h.3M408.21 607.17h.3M423.66 603.93h.3M417.45 620.12h.3M436.84 619.71h.3M423.89 610.74h.3M423.5 617.58h.3M427.6 611.64h.3M432.51 620.19h.3M416.5 613.64h.3M425.86 612.64h.3M421.38 612.63h.3M413.97 613.91h.3M429.95 617.96h.3M430.43 604.34h.3M438.16 615.59h.3M437.12 615.58h.3M419.42 608.7h.3M430.82 615.07h.3M433.22 613.27h.3M427.96 602.15h.3M417 617.6h.3M434.97 605.61h.3M421.98 611.28h.3M414.78 605.09h.3M432.87 619.95h.3M436.15 615.76h.3M411.89 618.37h.3M437.09 616.4h.3M412.6 619.06h.3M428.93 614.45h.3M422.78 603.58h.3M434.75 603.35h.3M438.52 616.25h.3M410.5 607.48h.3M421.64 615.59h.3M434.54 610.27h.3M420.06 618.2h.3M412.71 608.44h.3M422.53 603.73h.3M408.68 617.91h.3M412.89 607.72h.3M434.17 609.54h.3M433.6 616.74h.3M432.68 606.77h.3M409.19 619.84h.3M427.85 602.54h.3M421.59 616.46h.3M428.32 618.21h.3M418.02 613.83h.3M416.62 605.7h.3M436.52 603.99h.3M429.04 616.65h.3M427.21 615.87h.3M423.4 616.83h.3M416.62 620.57h.3M421.16 613.49h.3M435.37 620h.3M434.08 620.72h.3M410.44 613.18h.3M432.08 616.69h.3M428.4 605.12h.3M417.39 611.43h.3M436.9 611.53h.3M425.11 615.03h.3M433.88 618.26h.3M409.91 607.26h.3M423.2 616.29h.3M414.87 617.81h.3M420.27 609.53h.3M417.75 610.35h.3M424.86 618.76h.3M411.48 608.35h.3M421.36 617.31h.3M417.46 618.91h.3M428.82 608.92h.3M415.12 608h.3M418.13 605.56h.3M415.47 605.83h.3M436.89 618.37h.3M410.32 607.31h.3M413.22 607.12h.3M434.9 614.37h.3M419.1 607.38h.3M430.93 607.37h.3M409.8 619.69h.3M426.3 616.5h.3M412.5 616.91h.3M414.92 609.1h.3M418.79 608.64h.3M426.94 617.55h.3M412.51 612h.3M409.35 605.98h.3M419.62 608.19h.3M428.54 615.82h.3M432.74 609.36h.3M425.17 617.39h.3M417.46 606.23h.3M436.46 602.04h.3M417.16 604.72h.3M431.48 604.03h.3M431.29 605.58h.3M428.11 620.57h.3M423.99 614.39h.3M413.89 610.24h.3M425.18 604.71h.3M437.23 614.14h.3M423.83 606.99h.3M422.38 611.11h.3M437.21 618.11h.3M434.24 620.26h.3M416.59 620.07h.3M436.74 613.12h.3M436.05 612.07h.3M412.61 609.97h.3M420.85 602.15h.3M419.46 607.61h.3M424.87 617.69h.3M427.84 608.84h.3M420.05 614.48h.3M428.2 620.64h.3M426.89 617.07h.3M423.05 608.02h.3M408.16 606.5h.3M415.6 619.58h.3M419.21 606.02h.3M429.81 615.57h.3M418.7 614.13h.3M415.3 612.7h.3M408.6 607.91h.3M429.63 620.51h.3M418.95 616.63h.3M423.85 609.83h.3M434.97 605.13h.3M428.02 609.76h.3M415.02 602.85h.3M416.1 605.53h.3M426.92 606.52h.3M433.43 604.97h.3M413 612.19h.3M420.44 604.76h.3M413.81 603.71h.3M411.05 603.32h.3M429.13 618.8h.3M420.01 603.51h.3M420.25 620.23h.3M433.85 619.66h.3M414.5 618.83h.3M409 602.43h.3M424.01 612.08h.3M417.49 613.62h.3M413.35 605.05h.3M411.38 607.86h.3M430.44 615.05h.3M408.91 605.42h.3M424.66 619.49h.3M408.95 605.09h.3M436.72 609.47h.3M435.39 616.22h.3M409.07 618.49h.3M437 616.97h.3M424.79 617.56h.3M430.59 609.74h.3M433.86 609.15h.3M421.57 612.38h.3M421.73 605.32h.3M417.82 612.19h.3M426.63 612.52h.3M408.29 608.08h.3M428.84 604.76h.3M430.37 603.71h.3M429.08 608.8h.3M426.81 612.27h.3M417.44 620.7h.3M428.79 605.73h.3M419.45 602.38h.3M427.56 607.7h.3M415.23 610.91h.3M415.65 613h.3M427.8 608.42h.3M412.72 619.36h.3M433.57 606.08h.3M433.14 607h.3M424.7 606.89h.3M415.47 620.38h.3M418.12 611.09h.3M411.98 608.69h.3M430.79 602.96h.3M437.42 609.33h.3M411 617.28h.3M409.57 617.94h.3M420.97 620.07h.3M437.91 605.78h.3M413.83 602.74h.3M413.75 605.38h.3M419.92 603.32h.3M417.86 618.42h.3M415.67 607.46h.3M425.41 617.89h.3M410.71 607.5h.3M410.13 603.97h.3M422.8 607.16h.3M437.15 613.63h.3M413.48 620.47h.3M414.5 614.1h.3M414.42 617.26h.3M409.96 611.74h.3M410.38 619.55h.3M417.34 618.3h.3M416.3 620.78h.3M425.81 618.04h.3M412.45 615.26h.3M435.96 617.8h.3M425.23 618.98h.3M432.62 614.88h.3M411.3 603.5h.3M433.02 610.32h.3M420.14 620.39h.3M417.72 615.15h.3M434.99 609.58h.3M421.16 618.86h.3M416.54 608.83h.3M419.91 609.46h.3M425.9 612.2h.3M414.93 614.86h.3M423.13 612.84h.3M417.63 608.33h.3M411.32 612.69h.3M408.21 608.69h.3M433.24 614.73h.3M435.58 612.6h.3M416.26 604.04h.3M431.36 613.98h.3M420.14 619.86h.3M418.35 613.83h.3M416.33 603.4h.3M417.69 612.5h.3M418.47 605.1h.3M411.02 609.94h.3M433.22 605.14h.3M420.66 619.44h.3M413.37 616.7h.3M420.28 612.85h.3M422.31 607.65h.3M430.92 603.96h.3M412.41 615.49h.3M423.04 606.59h.3M431.39 619.27h.3M432.94 618.68h.3M412.06 605.08h.3M429.42 620.41h.3M417.96 603.5h.3M428.1 611.71h.3M415.57 607.53h.3M417.5 613.95h.3M409.65 617.97h.3M427.55 607.03h.3M416.55 603.34h.3M410.03 608.96h.3M415.56 605.77h.3M412.97 615.48h.3M419.08 607.61h.3M437.36 613.37h.3M436.25 604.1h.3M433.71 607.12h.3M432.52 616.59h.3M435.82 617.79h.3M412.63 612.49h.3M423 612.95h.3M432.04 603.07h.3M436.91 613.24h.3M426.54 613.11h.3M411.55 606.19h.3M418.25 615.77h.3M413.23 604.39h.3M431.43 612.11h.3M432.63 603.76h.3M419.77 618.08h.3M436.38 620.3h.3M435.01 610.55h.3M436.58 616.72h.3M430.83 611.55h.3M438.47 602.94h.3M415.9 608.04h.3M411.28 613.16h.3M433.55 617.07h.3M432.95 603.22h.3M415.69 611.67h.3M426.2 616.71h.3M410.22 606.13h.3M411.95 608.56h.3M437.89 607.46h.3M434.78 616.08h.3M412.76 607.45h.3M427.87 619.25h.3M429.7 617.8h.3M424 612.42h.3M423.09 620.58h.3M428.75 608.06h.3M408.14 602.24h.3M437.68 614.93h.3M426.5 617.45h.3M422.33 619.89h.3M416.14 605.21h.3M415.91 602.66h.3M426.73 613.22h.3M413.37 609.56h.3M429.38 606.38h.3M410 614.7h.3M419.47 611.95h.3M416.21 613.65h.3M429.23 618.33h.3M435.29 605.36h.3M419.53 603.22h.3M414.88 614.29h.3M427.98 602.19h.3M410.87 605.98h.3M434.12 619.43h.3M423.23 609.42h.3M428.75 615.91h.3M416.95 614.51h.3M423.89 604.13h.3M425.14 616.14h.3M426.87 616.3h.3M432.21 602.27h.3M420.88 620.19h.3M420.89 603.96h.3M420.79 611.03h.3M408.55 611.15h.3M418.98 610.94h.3M428.72 605.3h.3M419.07 617.35h.3M433.11 618.7h.3M415.93 604.74h.3M420.41 602.05h.3M416.43 606.91h.3M420.15 602.84h.3M411.69 603.29h.3M425.35 617.74h.3M411.74 602.49h.3M421.56 607.04h.3M431.28 603.47h.3M435.54 604.69h.3M428.11 612.29h.3M419.32 619.26h.3M413.7 618.55h.3M416.12 604.15h.3M415.85 617.81h.3M428.24 618.5h.3M431.49 606.73h.3M411.8 605.94h.3M421.61 608.94h.3M431.18 616.8h.3M410.72 612.26h.3M425.38 609.7h.3M436.74 608.87h.3M434.31 610.53h.3M414.76 606.64h.3M433.79 615.4h.3M438.3 613.06h.3M436.73 608.62h.3M434.66 615.4h.3M411.1 616.84h.3M421 605.55h.3M428.04 609.41h.3M434.66 613.85h.3M433.47 616.18h.3M420.32 603.25h.3M418.51 604.02h.3M429.35 616.78h.3M416 616.42h.3M420.55 606h.3M434.16 609.39h.3M416.14 614.95h.3M434.03 611.66h.3M409.11 616.85h.3M410.03 605.92h.3M418.76 609.99h.3M428.71 608.25h.3M414.32 617.91h.3M437.58 608.27h.3M426.14 615.81h.3M409.78 610.28h.3M414.7 605.43h.3M434.38 613.92h.3M410.84 605.03h.3M415.09 618.32h.3M408.18 619.03h.3M413.65 608.61h.3M422.73 608.93h.3M433.44 613.47h.3M421.71 613.74h.3M424.79 613.12h.3M410.92 607.06h.3M418.18 617h.3M427.79 607.73h.3M422.47 618.57h.3M436.89 619.92h.3M420.47 607.16h.3M436.4 613.5h.3M413.92 615.4h.3M428.66 606.34h.3M431.53 620.33h.3M437.73 610.48h.3M412.71 611.72h.3M426.79 608.66h.3M436.6 609.54h.3M423.01 603.68h.3M438.27 619.82h.3M435.83 618.67h.3M416.62 616.61h.3M417.52 618.48h.3M432.69 613.71h.3M409.03 602.46h.3M428.98 620.23h.3M409.06 612.08h.3M431.81 611.54h.3M414.01 613.97h.3M425.26 615.81h.3M436.04 612.43h.3M412.88 608.71h.3M419.71 603.49h.3M431.79 609.56h.3M426.69 603.8h.3M427 609.23h.3M413.35 618.6h.3M423.84 617.21h.3M433.74 611.66h.3M423.87 615.14h.3M427.45 610.14h.3M429.3 612.65h.3M418.82 618.86h.3M423.56 620.16h.3M418.53 607.32h.3M416 616.58h.3M409.67 609.25h.3M435.24 610.6h.3M418.11 609.62h.3M429.72 605.08h.3M413.79 606.31h.3M426.08 618.66h.3M430.68 612.92h.3M429.27 604.99h.3M422.29 620.72h.3M438.41 616.78h.3M412.1 616.5h.3M430.71 612.32h.3M411.12 613.4h.3M423.11 604.76h.3M409.26 614.62h.3M435.69 614.69h.3M430.66 609.53h.3M408.5 617.49h.3M409.94 606.29h.3M410.65 605h.3M433.83 603.15h.3M422.36 619.73h.3M433.57 612.05h.3M426.26 612.96h.3M431.49 614.41h.3M411.42 604.26h.3M463 620.73h.3M445.36 609.74h.3M445.26 616.58h.3M452.78 608.21h.3M444.13 606.71h.3M461.84 607.47h.3M449.04 604.97h.3M456.11 612.71h.3M458.83 607.61h.3M448.65 604.03h.3M454.9 613.79h.3M449.21 609.47h.3M462.01 603.99h.3M445.07 607.86h.3M451.19 609.93h.3M440.35 604.78h.3M455.26 615.2h.3M440.44 602.94h.3M448.19 610.01h.3M459.69 607.97h.3M453.76 619.41h.3M448.24 604.34h.3M452.23 603.46h.3M442.01 608.19h.3M445.74 620.21h.3M464.07 611.09h.3M442.69 618.6h.3M460.4 602.81h.3M459.14 616.99h.3M456.29 615.53h.3M460.2 620.55h.3M442.48 605.51h.3M448.68 604.14h.3M448.24 620.53h.3M444.92 619.75h.3M445.25 611.77h.3M447.21 619.12h.3M465.28 617.62h.3M449.32 612.98h.3M460.57 610.85h.3M459.4 602.48h.3M459.2 614.82h.3M452.29 616.19h.3M452.77 613.17h.3M443.79 616.4h.3M463.12 611.14h.3M449.11 606.48h.3M458.4 620.04h.3M462.7 603.53h.3M454.52 607.13h.3M448.82 605.9h.3M462.85 613.58h.3M441.49 610.8h.3M459.58 612.87h.3M446.76 610.88h.3M458.08 613.62h.3M444.81 604.02h.3M463.22 609.04h.3M451.82 612.41h.3M441.95 613.55h.3M460.9 610.31h.3M448.28 602.98h.3M441.45 615.3h.3M462 611.52h.3M441.12 620.31h.3M444.48 608.53h.3M444.09 614.92h.3M449.97 602.8h.3M440.79 603.28h.3M446.4 614.06h.3M450.3 615.55h.3M460.53 611.51h.3M462.25 611.21h.3M442.36 604.25h.3M457.81 606.79h.3M451.21 617.32h.3M441.1 620.17h.3M450.11 612.23h.3M457.93 607.4h.3M459.34 607.36h.3M445.45 617.07h.3M446.62 617.86h.3M449.56 613.73h.3M463.09 618.52h.3M461.82 602.09h.3M456.78 619.24h.3M448.3 603.96h.3M447.41 602.42h.3M448.6 604.2h.3M449.44 606.81h.3M451.56 612.27h.3M449.93 603.11h.3M448.15 619.34h.3M459.5 610.3h.3M462.95 620.67h.3M462.85 615.51h.3M443.02 606.88h.3M454.76 605.85h.3M443.58 617.52h.3M462.96 612.93h.3M452.82 603.79h.3M439.18 607.12h.3M461.15 604.36h.3M457.28 613.27h.3M442.02 618.94h.3M462.43 608.99h.3M440.48 602.51h.3M463.41 619.83h.3M451 602.65h.3M455.3 607.34h.3M449.56 609.28h.3M451.98 620.71h.3M461.59 602.61h.3M450.16 613.81h.3M461.74 609.6h.3M447.64 609.71h.3M460.42 614.62h.3M447.47 607.91h.3M461.7 607.69h.3M446.09 617.05h.3M452.97 608.15h.3M443.78 617.4h.3M440.72 608.45h.3M450.14 614.97h.3M441 602.01h.3M442.67 612.27h.3M449.19 610.38h.3M459.8 616.88h.3M448.9 613.57h.3M439.88 614.45h.3M450.49 605.29h.3M450.42 618.33h.3M445.65 617.68h.3M448.1 611.84h.3M451.87 614.49h.3M452.97 607.14h.3M455.51 607.22h.3M464.77 612.47h.3M464.84 610.39h.3M457.61 604.4h.3M448.93 618.65h.3M439.22 615.6h.3M450.87 605.66h.3M446.37 619.72h.3M455.87 612.87h.3M444.61 610.93h.3M455.41 618.42h.3M446.05 603.96h.3M443.42 603.74h.3M440.32 620.56h.3M452 604.31h.3M442.23 610.52h.3M444.1 620.55h.3M446.29 607.99h.3M443.13 619.61h.3M439.16 605.1h.3M442.18 618.81h.3M458.85 602.02h.3M450.38 611.61h.3M457.33 619.77h.3M457.89 616.81h.3M455.41 614.95h.3M454.43 611.05h.3M462.1 616.72h.3M441.01 615.6h.3M447.45 605.05h.3M438.93 615.63h.3M451.16 617.4h.3M462.64 614.83h.3M453.14 606.48h.3M462.27 609.43h.3M455.66 606.02h.3M440.05 609.09h.3M441.18 609.73h.3M457.21 617.28h.3M465.05 616.21h.3M443.13 605.35h.3M464.26 617.35h.3M457.82 615.31h.3M442.6 608.32h.3M447 613.08h.3M462.09 604.06h.3M462.49 605.15h.3M457.74 607.03h.3M464.92 616.72h.3M460.3 605.5h.3M464.35 607.24h.3M449.53 611.78h.3M450.9 609.89h.3M447.73 605.96h.3M444.75 611.95h.3M442.76 611.64h.3M464.85 618.39h.3M455.91 617.94h.3M465.05 604.9h.3M442.62 611.44h.3M456.03 610.31h.3M451.09 617.52h.3M463.87 615.32h.3M439.31 613.97h.3M455.45 619.03h.3M453.22 604.08h.3M440.3 604.25h.3M451.83 611.22h.3M446.75 614.45h.3M446.86 614.66h.3M439.94 618.34h.3M461.56 605.34h.3M444.17 603.99h.3M463.85 608.63h.3M442.62 615.18h.3M462.94 607.71h.3M465.27 615.78h.3M452.13 612.36h.3M462.4 607.49h.3M445.91 612.62h.3M442.64 610.81h.3M459.08 618.06h.3M454.43 617.25h.3M462.24 606.39h.3M453.98 606.13h.3M411.81 600.16h.3M413.81 599.24h.3M429.61 596.03h.3M421.2 597.78h.3M435.91 593.31h.3M424.17 597.55h.3M439.03 597.29h.3M426.3 594.99h.3M438.19 597.49h.3M439.91 595.41h.3M423.4 595.85h.3M433.82 593.38h.3M433.78 592.47h.3M432.06 593.17h.3M448.81 598.56h.3M432.11 591.04h.3M418.68 597.08h.3M428.38 595.91h.3M415.55 590.46h.3M430.78 594.36h.3M417.74 592.58h.3M436.81 593.68h.3M434.92 599.94h.3M432.78 595.37h.3M424.38 598.63h.3M416.74 591.68h.3M429.58 590.56h.3M438.57 593.11h.3M434.51 594.05h.3M427.47 595.02h.3M412.07 591.71h.3M425.48 601.64h.3M437.07 597.15h.3M420.39 597.66h.3M440.95 597.24h.3M453.36 590.93h.3M420.05 594.19h.3M420.95 595.13h.3M434.42 594.94h.3M430.64 596.19h.3M436.7 593h.3M423.7 598.55h.3M426.67 592.48h.3M432.27 593.92h.3M430.79 594.78h.3M435.4 597.72h.3M422.25 591.32h.3M444.08 592.91h.3M415.74 589.28h.3M429.38 593.03h.3M413.22 592.12h.3M420.16 597.95h.3M431.8 594.93h.3M418.24 594.42h.3M435.64 595.43h.3M439.18 595.19h.3M435.9 596.33h.3M424.56 598.97h.3M432.92 597.43h.3M420.08 591.7h.3M453.43 588.72h.3M459.03 593.57h.3M463.27 594.29h.3M446.78 595.73h.3M450.14 589h.3M455.12 591.9h.3M461.95 603.24h.3M457.65 597.75h.3M453.21 593.28h.3M451.07 590.25h.3M464.09 593.75h.3M457.81 588.74h.3M450.14 591.86h.3M459.4 594.93h.3M464.97 587.7h.3M451.69 598.17h.3M454.03 585.77h.3M448.95 588.41h.3M453.98 587.19h.3M461.21 591.72h.3M452.94 595.63h.3M452.84 587h.3M454.9 600.61h.3M455.41 594.04h.3M453.34 591.07h.3M458.24 581.39h.3M446.05 589.57h.3M452.83 597.75h.3M457.49 594.67h.3M465.23 588.02h.3M451.28 592.57h.3M456.79 584.37h.3M457.71 585.61h.3M460.06 595.32h.3M438.92 593.95h.3M456.08 589.48h.3M461.35 599.94h.3M458.17 587.58h.3M444.64 587.28h.3M447.6 596.42h.3M456.71 591.83h.3M460.79 592.02h.3M454.94 588.59h.3M450.35 592.06h.3M446.54 598.56h.3M455.56 589.75h.3M461.5 587.72h.3M462.08 592.28h.3M451.92 588.57h.3M445.99 592.94h.3M447.3 593.21h.3M450.22 596.14h.3M436.88 593.59h.3M455.01 591.94h.3M450.26 598.9h.3M451.81 593.63h.3M452.84 590.49h.3M455.29 594.62h.3M446.88 590.05h.3M444.84 593.51h.3M448.71 588.95h.3M459.21 591.87h.3M457.49 591.36h.3M457.52 592.27h.3M446.88 592.76h.3M452.26 590.96h.3M456.61 589.72h.3M447.26 596.64h.3M462.67 593.46h.3M450.17 588.59h.3M452.7 590.21h.3M452.33 591.42h.3M446.76 595.37h.3M446.77 587.65h.3M461.11 594.95h.3M464.81 592.46h.3M450.16 596.49h.3M453.99 591.42h.3M448.74 593.53h.3M438.14 594.02h.3M440.68 595.4h.3M443.78 594.63h.3M446.51 599.68h.3M451.57 587.47h.3M463.43 580.56h.3M444.29 586.66h.3M449.8 583.83h.3M460.41 596.01h.3M454.26 590.26h.3M443.72 593.79h.3M449.75 594.38h.3M461.79 592.1h.3M439.87 588.17h.3M464.21 593.02h.3M464.6 582.98h.3M453.87 591.22h.3M443.29 589.34h.3M461.51 594.09h.3M450.92 593.23h.3M463.01 587.61h.3M456.72 596.1h.3M449.85 597.14h.3M454.04 596.37h.3M461.14 592.99h.3" stroke="#1f2fd8" stroke-width="0.75" stroke-linecap="round" fill="none" opacity="0.9"/>
<ellipse cx="424.5" cy="613.5" rx="12" ry="3.6" fill="#66c23a" opacity="0.75" filter="url(#bl4)" transform="rotate(12 424.5 613.5)"/>
<ellipse cx="455" cy="615.5" rx="2.2" ry="5" fill="#66c23a" opacity="0.6" filter="url(#bl4)" transform="rotate(-30 455 615.5)"/>
<path d="M422.72 611.47h.3M425.45 614.18h.3M434.05 615.28h.3M425.98 617.91h.3M426.39 614.99h.3M435.38 616h.3M426.76 615.8h.3M424.16 610.66h.3M414.49 610.84h.3M431.61 617.42h.3M435.11 617.94h.3M420.69 609.08h.3M421 612.07h.3M418.86 614.53h.3M418.69 613.65h.3M430.62 610.5h.3M420.88 615.77h.3M430.12 614.96h.3M417.17 610.18h.3M424.37 616.53h.3M427.82 613.95h.3M425.61 615.61h.3M412.89 608.57h.3M424.01 616.32h.3M432.17 613.18h.3M424.93 611.73h.3M421.65 613.21h.3M422.19 611.6h.3M417.21 608.02h.3M422.97 613.6h.3M429.01 612.41h.3M418.81 615.34h.3M426.78 616.11h.3M420.85 610.92h.3M416.01 614.08h.3M417.47 607.72h.3M418.63 615.3h.3M424.45 614.01h.3M425.19 613.49h.3M423.93 609.89h.3M435.82 615.48h.3M433.44 611.52h.3M428.66 611.45h.3M415.41 612.17h.3M430.73 618.12h.3M433.6 614.72h.3M430.03 613.16h.3M420.56 613.21h.3M423.14 615.24h.3M411.29 613.43h.3M419.67 616.04h.3M432.76 612.39h.3M423.7 614.94h.3M419.34 610.54h.3M421.93 614.73h.3M430.79 613.76h.3M429.31 618.08h.3M431.03 613.06h.3M418.51 612.89h.3M429.79 615.63h.3M422.24 610.71h.3M433.13 614.94h.3M437.69 613.47h.3M422.48 611.47h.3M436.36 619.01h.3M422.01 608.24h.3M432.21 615.43h.3M417.5 608.32h.3M427.26 613.56h.3M425.23 614.6h.3M422.06 612.29h.3M428.99 614.17h.3M422.24 614.56h.3M410.38 613.51h.3M427.86 612.33h.3M422.65 616.09h.3M429.11 610.13h.3M417.47 612.44h.3M436.23 617.85h.3M422.85 614.55h.3M424.74 612.81h.3M428.14 609.06h.3M431.09 616.2h.3M421.92 610.87h.3M416.16 612.39h.3M425.42 614.12h.3M437.21 610.84h.3M419.98 610.66h.3M431.06 614.28h.3M417.99 612.62h.3M458.4 620.18h.3M454.54 613.95h.3M452.9 613.36h.3M457.09 617.66h.3M454.47 615.25h.3M456.96 614.79h.3M453.71 611.78h.3M450.41 609.34h.3M453.9 617.66h.3M456.13 613.75h.3M453.63 616.68h.3M456.18 614.14h.3M456.07 614.62h.3M451.8 613.61h.3M455.33 614.33h.3M455.76 615.94h.3M454.25 615.51h.3M456 617.99h.3M459.38 618.45h.3M455.58 617.45h.3M452.12 612.66h.3M456.19 617.33h.3M456.4 618.11h.3M457.43 617.23h.3M452.38 611.41h.3M456.48 612.69h.3M456.82 616.46h.3M455.85 614.96h.3M452.74 612.83h.3M454.4 618.21h.3M453.63 614.43h.3M455.04 614.06h.3M454.71 613.05h.3M455.98 618.73h.3M455.22 617.9h.3M455.67 615.15h.3M450.55 612.69h.3M451.31 612.35h.3M454.56 612.18h.3M452.51 614.86h.3M451.91 610.43h.3M457.07 617.28h.3M455.67 618.43h.3" stroke="#5cc43a" stroke-width="0.9" stroke-linecap="round" fill="none" opacity="0.9"/>
<ellipse cx="429.2" cy="614.6" rx="5" ry="2.2" fill="#e2e03c" opacity="0.95" filter="url(#bl4)" transform="rotate(12 429.2 614.6)"/>
</g>
<line x1="310.4" y1="510.8" x2="310.4" y2="564.7" stroke="#222" stroke-width="1.2"/>
<line x1="278.6" y1="544.3" x2="337.8" y2="544.3" stroke="#222" stroke-width="1.2"/>
<rect x="278.6" y="510.8" width="59.2" height="53.9" fill="none" stroke="#8c8c8c" stroke-width="1.1"/>
<line x1="374.6" y1="510.8" x2="374.6" y2="564.7" stroke="#222" stroke-width="1.2"/>
<line x1="343.3" y1="544.3" x2="401.5" y2="544.3" stroke="#222" stroke-width="1.2"/>
<rect x="343.3" y="510.8" width="58.2" height="53.9" fill="none" stroke="#8c8c8c" stroke-width="1.1"/>
<line x1="438.8" y1="510.8" x2="438.8" y2="564.7" stroke="#222" stroke-width="1.2"/>
<line x1="407.3" y1="544.3" x2="466.3" y2="544.3" stroke="#222" stroke-width="1.2"/>
<rect x="407.3" y="510.8" width="59" height="53.9" fill="none" stroke="#8c8c8c" stroke-width="1.1"/>
<line x1="310.4" y1="567.5" x2="310.4" y2="621.6" stroke="#222" stroke-width="1.2"/>
<line x1="278.6" y1="600.9" x2="337.8" y2="600.9" stroke="#222" stroke-width="1.2"/>
<rect x="278.6" y="567.5" width="59.2" height="54.1" fill="none" stroke="#8c8c8c" stroke-width="1.1"/>
<line x1="374.6" y1="567.5" x2="374.6" y2="621.6" stroke="#222" stroke-width="1.2"/>
<line x1="343.3" y1="600.9" x2="401.5" y2="600.9" stroke="#222" stroke-width="1.2"/>
<rect x="343.3" y="567.5" width="58.2" height="54.1" fill="none" stroke="#8c8c8c" stroke-width="1.1"/>
<line x1="438.8" y1="567.5" x2="438.8" y2="621.6" stroke="#222" stroke-width="1.2"/>
<line x1="407.3" y1="600.9" x2="466.3" y2="600.9" stroke="#222" stroke-width="1.2"/>
<rect x="407.3" y="567.5" width="59" height="54.1" fill="none" stroke="#8c8c8c" stroke-width="1.1"/>
<text x="336.9" y="517.8" font-size="6.6" text-anchor="end" font-weight="bold" fill="#c0182b" font-family='"Liberation Serif", serif'>0.7%</text>
<text x="336.9" y="550.6" font-size="6.6" text-anchor="end" font-weight="bold" fill="#c0182b" font-family='"Liberation Serif", serif'>2.7%</text>
<text x="400.6" y="517.8" font-size="6.6" text-anchor="end" font-weight="bold" fill="#c0182b" font-family='"Liberation Serif", serif'>1.1%</text>
<text x="400.6" y="550.6" font-size="6.6" text-anchor="end" font-weight="bold" fill="#c0182b" font-family='"Liberation Serif", serif'>2.7%</text>
<text x="465.4" y="517.8" font-size="6.6" text-anchor="end" font-weight="bold" fill="#c0182b" font-family='"Liberation Serif", serif'>0.6%</text>
<text x="465.4" y="550.6" font-size="6.6" text-anchor="end" font-weight="bold" fill="#c0182b" font-family='"Liberation Serif", serif'>3.5%</text>
<text x="336.9" y="574.5" font-size="6.6" text-anchor="end" font-weight="bold" fill="#c0182b" font-family='"Liberation Serif", serif'>1.9%</text>
<text x="336.9" y="607.2" font-size="6.6" text-anchor="end" font-weight="bold" fill="#c0182b" font-family='"Liberation Serif", serif'>2.8%</text>
<text x="400.6" y="574.5" font-size="6.6" text-anchor="end" font-weight="bold" fill="#c0182b" font-family='"Liberation Serif", serif'>5.0%</text>
<text x="400.6" y="607.2" font-size="6.6" text-anchor="end" font-weight="bold" fill="#c2185b" font-family='"Liberation Serif", serif'>27.7%</text>
<text x="465.4" y="574.5" font-size="6.6" text-anchor="end" font-weight="bold" fill="#c0182b" font-family='"Liberation Serif", serif'>4.2%</text>
<text x="465.4" y="607.2" font-size="6.6" text-anchor="end" font-weight="bold" fill="#c2185b" font-family='"Liberation Serif", serif'>26.6%</text>
<text x="309" y="496.6" font-size="8.8" text-anchor="middle" stroke="#1a1a1a" stroke-width="0.08">Lucif</text>
<text x="309.1" y="506.5" font-size="8.8" text-anchor="middle" stroke="#1a1a1a" stroke-width="0.08">shRNA</text>
<text x="358.8" y="495.9" font-size="8.5" textLength="14.4" lengthAdjust="spacingAndGlyphs" stroke="#1a1a1a" stroke-width="0.08">p19</text>
<text x="373.8" y="493.3" font-size="5.9" textLength="16.6" lengthAdjust="spacingAndGlyphs">INK4d</text>
<text x="374.6" y="506.5" font-size="8.8" text-anchor="middle" stroke="#1a1a1a" stroke-width="0.08">shRNA-1</text>
<text x="423.2" y="495.9" font-size="8.5" textLength="14.4" lengthAdjust="spacingAndGlyphs" stroke="#1a1a1a" stroke-width="0.08">p19</text>
<text x="438.2" y="493.3" font-size="5.9" textLength="16.6" lengthAdjust="spacingAndGlyphs">INK4d</text>
<text x="439" y="506.5" font-size="8.8" text-anchor="middle" stroke="#1a1a1a" stroke-width="0.08">shRNA-2</text>
<text x="470.6" y="542.6" font-size="8.9" stroke="#1a1a1a" stroke-width="0.16">D7</text>
<text x="470.6" y="598.7" font-size="8.9" stroke="#1a1a1a" stroke-width="0.16">D13</text>
<text x="271" y="610.5" font-size="11.3" textLength="24" lengthAdjust="spacingAndGlyphs" transform="rotate(-90 271 610.5)" stroke="#1a1a1a" stroke-width="0.16">7AAD</text>
<line x1="267.4" y1="579.5" x2="267.4" y2="531.5" stroke="#1a1a1a" stroke-width="1.2"/>
<path d="M267.4 525.8L264.6 532L270.2 532Z" fill="#1a1a1a"/>
<text x="284.7" y="634.2" font-size="11.4" textLength="44.6" lengthAdjust="spacingAndGlyphs" stroke="#1a1a1a" stroke-width="0.16">Annexin V</text>
<line x1="337.3" y1="630.1" x2="386.1" y2="630.1" stroke="#1a1a1a" stroke-width="1.2"/>
<path d="M391.8 630.1L385.6 627.3L385.6 632.9Z" fill="#1a1a1a"/>
<line x1="294.4" y1="653.6" x2="294.4" y2="753.1" stroke="#0a0a0a" stroke-width="1.6"/>
<line x1="293.6" y1="752.3" x2="471.2" y2="752.3" stroke="#0a0a0a" stroke-width="1.6"/>
<line x1="290.8" y1="752.3" x2="294.4" y2="752.3" stroke="#111" stroke-width="1.2"/>
<text x="288.6" y="755.8" font-size="9.8" text-anchor="end" fill="#222" stroke="#222" stroke-width="0.16">0</text>
<line x1="290.8" y1="728.11" x2="294.4" y2="728.11" stroke="#111" stroke-width="1.2"/>
<text x="288.6" y="731.61" font-size="9.8" text-anchor="end" fill="#222" stroke="#222" stroke-width="0.16">10</text>
<line x1="290.8" y1="703.92" x2="294.4" y2="703.92" stroke="#111" stroke-width="1.2"/>
<text x="288.6" y="707.42" font-size="9.8" text-anchor="end" fill="#222" stroke="#222" stroke-width="0.16">20</text>
<line x1="290.8" y1="679.73" x2="294.4" y2="679.73" stroke="#111" stroke-width="1.2"/>
<text x="288.6" y="683.23" font-size="9.8" text-anchor="end" fill="#222" stroke="#222" stroke-width="0.16">30</text>
<line x1="290.8" y1="655.54" x2="294.4" y2="655.54" stroke="#111" stroke-width="1.2"/>
<text x="288.6" y="659.04" font-size="9.8" text-anchor="end" fill="#222" stroke="#222" stroke-width="0.16">40</text>
<line x1="312.4" y1="752.3" x2="312.4" y2="756.1" stroke="#111" stroke-width="1.2"/>
<text x="312.6" y="767.8" font-size="9.8" text-anchor="middle" fill="#222" stroke="#222" stroke-width="0.16">D7</text>
<line x1="302.8" y1="743.83" x2="302.8" y2="744.8" stroke="#222" stroke-width="1.2"/>
<line x1="300.9" y1="743.83" x2="304.7" y2="743.83" stroke="#222" stroke-width="1.4"/>
<rect x="299.4" y="744.8" width="6.8" height="6.7" fill="#b30f35"/>
<line x1="312.4" y1="742.62" x2="312.4" y2="746.49" stroke="#222" stroke-width="1.2"/>
<line x1="310.5" y1="742.62" x2="314.3" y2="742.62" stroke="#222" stroke-width="1.4"/>
<rect x="309" y="746.49" width="6.8" height="5.01" fill="#2d4f8f"/>
<line x1="321.8" y1="738.03" x2="321.8" y2="740.2" stroke="#222" stroke-width="1.2"/>
<line x1="319.9" y1="738.03" x2="323.7" y2="738.03" stroke="#222" stroke-width="1.4"/>
<rect x="318.4" y="740.2" width="6.8" height="11.3" fill="#6cb43f"/>
<line x1="347.4" y1="752.3" x2="347.4" y2="756.1" stroke="#111" stroke-width="1.2"/>
<text x="347.6" y="767.8" font-size="9.8" text-anchor="middle" fill="#222" stroke="#222" stroke-width="0.16">D9</text>
<line x1="337.8" y1="733.92" x2="337.8" y2="741.9" stroke="#222" stroke-width="1.2"/>
<line x1="335.9" y1="733.92" x2="339.7" y2="733.92" stroke="#222" stroke-width="1.4"/>
<rect x="334.4" y="741.9" width="6.8" height="9.6" fill="#b30f35"/>
<line x1="347.4" y1="735.85" x2="347.4" y2="742.62" stroke="#222" stroke-width="1.2"/>
<line x1="345.5" y1="735.85" x2="349.3" y2="735.85" stroke="#222" stroke-width="1.4"/>
<rect x="344" y="742.62" width="6.8" height="8.88" fill="#2d4f8f"/>
<line x1="356.8" y1="728.35" x2="356.8" y2="733.67" stroke="#222" stroke-width="1.2"/>
<line x1="354.9" y1="728.35" x2="358.7" y2="728.35" stroke="#222" stroke-width="1.4"/>
<rect x="353.4" y="733.67" width="6.8" height="17.83" fill="#6cb43f"/>
<line x1="382.5" y1="752.3" x2="382.5" y2="756.1" stroke="#111" stroke-width="1.2"/>
<text x="382.7" y="767.8" font-size="9.8" text-anchor="middle" fill="#222" stroke="#222" stroke-width="0.16">D11</text>
<line x1="372.9" y1="732.22" x2="372.9" y2="739.6" stroke="#222" stroke-width="1.2"/>
<line x1="371" y1="732.22" x2="374.8" y2="732.22" stroke="#222" stroke-width="1.4"/>
<rect x="369.5" y="739.6" width="6.8" height="11.9" fill="#b30f35"/>
<line x1="382.5" y1="732.22" x2="382.5" y2="741.17" stroke="#222" stroke-width="1.2"/>
<line x1="380.6" y1="732.22" x2="384.4" y2="732.22" stroke="#222" stroke-width="1.4"/>
<rect x="379.1" y="741.17" width="6.8" height="10.33" fill="#2d4f8f"/>
<line x1="391.9" y1="729.68" x2="391.9" y2="739.6" stroke="#222" stroke-width="1.2"/>
<line x1="390" y1="729.68" x2="393.8" y2="729.68" stroke="#222" stroke-width="1.4"/>
<rect x="388.5" y="739.6" width="6.8" height="11.9" fill="#6cb43f"/>
<line x1="417.6" y1="752.3" x2="417.6" y2="756.1" stroke="#111" stroke-width="1.2"/>
<text x="417.8" y="767.8" font-size="9.8" text-anchor="middle" fill="#222" stroke="#222" stroke-width="0.16">D13</text>
<line x1="408" y1="741.66" x2="408" y2="742.87" stroke="#222" stroke-width="1.2"/>
<line x1="406.1" y1="741.66" x2="409.9" y2="741.66" stroke="#222" stroke-width="1.4"/>
<rect x="404.6" y="742.87" width="6.8" height="8.63" fill="#b30f35"/>
<line x1="417.6" y1="666.91" x2="417.6" y2="678.52" stroke="#222" stroke-width="1.2"/>
<line x1="415.7" y1="666.91" x2="419.5" y2="666.91" stroke="#222" stroke-width="1.4"/>
<rect x="414.2" y="678.52" width="6.8" height="72.98" fill="#2d4f8f"/>
<line x1="427" y1="673.68" x2="427" y2="685.29" stroke="#222" stroke-width="1.2"/>
<line x1="425.1" y1="673.68" x2="428.9" y2="673.68" stroke="#222" stroke-width="1.4"/>
<rect x="423.6" y="685.29" width="6.8" height="66.21" fill="#6cb43f"/>
<line x1="452.6" y1="752.3" x2="452.6" y2="756.1" stroke="#111" stroke-width="1.2"/>
<text x="452.8" y="767.8" font-size="9.8" text-anchor="middle" fill="#222" stroke="#222" stroke-width="0.16">D15</text>
<line x1="443" y1="741.41" x2="443" y2="742.38" stroke="#222" stroke-width="1.2"/>
<line x1="441.1" y1="741.41" x2="444.9" y2="741.41" stroke="#222" stroke-width="1.4"/>
<rect x="439.6" y="742.38" width="6.8" height="9.12" fill="#b30f35"/>
<line x1="452.6" y1="679.73" x2="452.6" y2="686.02" stroke="#222" stroke-width="1.2"/>
<line x1="450.7" y1="679.73" x2="454.5" y2="679.73" stroke="#222" stroke-width="1.4"/>
<rect x="449.2" y="686.02" width="6.8" height="65.48" fill="#2d4f8f"/>
<line x1="462" y1="682.39" x2="462" y2="691.1" stroke="#222" stroke-width="1.2"/>
<line x1="460.1" y1="682.39" x2="463.9" y2="682.39" stroke="#222" stroke-width="1.4"/>
<rect x="458.6" y="691.1" width="6.8" height="60.4" fill="#6cb43f"/>
<circle cx="417.6" cy="662.6" r="1.25" fill="#111"/>
<circle cx="427.1" cy="667.7" r="1.25" fill="#111"/>
<circle cx="452.6" cy="675" r="1.25" fill="#111"/>
<circle cx="462" cy="675" r="1.25" fill="#111"/>
<rect x="301.7" y="655.4" width="12" height="4.6" fill="#b30f35"/>
<rect x="301.7" y="669.3" width="12" height="4.6" fill="#2d4f8f"/>
<rect x="301.7" y="681.8" width="12" height="4.6" fill="#6cb43f"/>
<text x="316.2" y="660.4" font-size="8.9" textLength="48.6" lengthAdjust="spacingAndGlyphs" stroke="#1a1a1a" stroke-width="0.16">Lucif shRNA</text>
<text x="316.2" y="673.2" font-size="8.9" stroke="#1a1a1a" stroke-width="0.16">p19</text>
<text x="330.8" y="669" font-size="5.8" textLength="18.2" lengthAdjust="spacingAndGlyphs">INK4d</text>
<text x="350.9" y="673.2" font-size="8.9" textLength="34.6" lengthAdjust="spacingAndGlyphs" stroke="#1a1a1a" stroke-width="0.16">shRNA-1</text>
<text x="316.2" y="685.7" font-size="8.9" stroke="#1a1a1a" stroke-width="0.16">p19</text>
<text x="330.8" y="681.5" font-size="5.8" textLength="18.2" lengthAdjust="spacingAndGlyphs">INK4d</text>
<text x="350.9" y="685.7" font-size="8.9" textLength="34.6" lengthAdjust="spacingAndGlyphs" stroke="#1a1a1a" stroke-width="0.16">shRNA-2</text>
<text x="270.7" y="746.6" font-size="10.4" fill="#222" textLength="82.5" lengthAdjust="spacingAndGlyphs" transform="rotate(-90 270.7 746.6)" stroke="#222" stroke-width="0.16">% apoptosis cells</text>
</svg></body></html>
